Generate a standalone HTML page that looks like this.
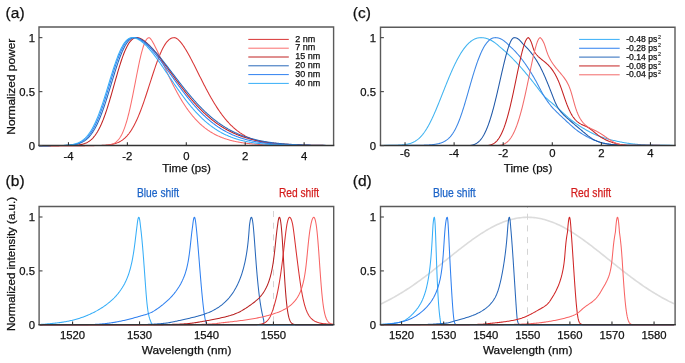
<!DOCTYPE html>
<html><head><meta charset="utf-8"><style>
html,body{margin:0;padding:0;background:#fff;}
body{width:685px;height:363px;overflow:hidden;}
svg{display:block;font-family:"Liberation Sans", sans-serif;will-change:transform;filter:blur(0.3px);}
</style></head><body>
<svg width="685" height="363" viewBox="0 0 685 363">
<path d="M39.00,145.60 L39.49,145.60 L39.98,145.60 L40.48,145.60 L40.97,145.60 L41.46,145.60 L41.95,145.60 L42.44,145.60 L42.93,145.60 L43.43,145.60 L43.92,145.60 L44.41,145.60 L44.90,145.60 L45.39,145.60 L45.89,145.60 L46.38,145.60 L46.87,145.60 L47.36,145.60 L47.85,145.60 L48.34,145.60 L48.84,145.60 L49.33,145.60 L49.82,145.60 L50.31,145.60 L50.80,145.60 L51.30,145.60 L51.79,145.60 L52.28,145.60 L52.77,145.60 L53.26,145.60 L53.75,145.60 L54.25,145.60 L54.74,145.60 L55.23,145.60 L55.72,145.60 L56.21,145.60 L56.71,145.60 L57.20,145.60 L57.69,145.60 L58.18,145.60 L58.67,145.60 L59.16,145.60 L59.66,145.60 L60.15,145.60 L60.64,145.60 L61.13,145.60 L61.62,145.60 L62.12,145.60 L62.61,145.60 L63.10,145.60 L63.59,145.60 L64.08,145.60 L64.57,145.60 L65.07,145.60 L65.56,145.60 L66.05,145.60 L66.54,145.60 L67.03,145.60 L67.53,145.60 L68.02,145.60 L68.51,145.60 L69.00,145.60 L69.49,145.60 L69.98,145.60 L70.48,145.60 L70.97,145.60 L71.46,145.60 L71.95,145.60 L72.44,145.60 L72.94,145.60 L73.43,145.60 L73.92,145.60 L74.41,145.60 L74.90,145.60 L75.39,145.60 L75.89,145.60 L76.38,145.60 L76.87,145.60 L77.36,145.60 L77.85,145.60 L78.35,145.60 L78.84,145.60 L79.33,145.60 L79.82,145.60 L80.31,145.60 L80.80,145.60 L81.30,145.60 L81.79,145.60 L82.28,145.60 L82.77,145.60 L83.26,145.60 L83.76,145.60 L84.25,145.60 L84.74,145.60 L85.23,145.59 L85.72,145.59 L86.21,145.59 L86.71,145.59 L87.20,145.59 L87.69,145.59 L88.18,145.59 L88.67,145.59 L89.17,145.59 L89.66,145.58 L90.15,145.58 L90.64,145.58 L91.13,145.58 L91.62,145.57 L92.12,145.57 L92.61,145.57 L93.10,145.57 L93.59,145.56 L94.08,145.56 L94.58,145.55 L95.07,145.55 L95.56,145.54 L96.05,145.53 L96.54,145.53 L97.03,145.52 L97.53,145.51 L98.02,145.50 L98.51,145.49 L99.00,145.48 L99.49,145.47 L99.99,145.45 L100.48,145.44 L100.97,145.42 L101.46,145.40 L101.95,145.38 L102.44,145.36 L102.94,145.34 L103.43,145.31 L103.92,145.29 L104.41,145.26 L104.90,145.22 L105.40,145.19 L105.89,145.15 L106.38,145.11 L106.87,145.06 L107.36,145.02 L107.85,144.96 L108.35,144.91 L108.84,144.85 L109.33,144.78 L109.82,144.71 L110.31,144.64 L110.81,144.56 L111.30,144.47 L111.79,144.38 L112.28,144.28 L112.77,144.17 L113.26,144.06 L113.76,143.94 L114.25,143.81 L114.74,143.67 L115.23,143.52 L115.72,143.36 L116.22,143.19 L116.71,143.01 L117.20,142.83 L117.69,142.62 L118.18,142.41 L118.67,142.18 L119.17,141.95 L119.66,141.69 L120.15,141.42 L120.64,141.14 L121.13,140.84 L121.63,140.53 L122.12,140.20 L122.61,139.85 L123.10,139.48 L123.59,139.09 L124.08,138.69 L124.58,138.26 L125.07,137.82 L125.56,137.35 L126.05,136.86 L126.54,136.35 L127.04,135.82 L127.53,135.26 L128.02,134.68 L128.51,134.08 L129.00,133.45 L129.49,132.79 L129.99,132.11 L130.48,131.40 L130.97,130.67 L131.46,129.91 L131.95,129.12 L132.45,128.31 L132.94,127.46 L133.43,126.59 L133.92,125.69 L134.41,124.76 L134.90,123.81 L135.40,122.83 L135.89,121.81 L136.38,120.77 L136.87,119.70 L137.36,118.61 L137.86,117.49 L138.35,116.34 L138.84,115.16 L139.33,113.96 L139.82,112.73 L140.31,111.47 L140.81,110.20 L141.30,108.89 L141.79,107.57 L142.28,106.22 L142.77,104.85 L143.27,103.47 L143.76,102.06 L144.25,100.63 L144.74,99.19 L145.23,97.74 L145.72,96.26 L146.22,94.78 L146.71,93.28 L147.20,91.78 L147.69,90.26 L148.18,88.74 L148.68,87.21 L149.17,85.68 L149.66,84.15 L150.15,82.61 L150.64,81.08 L151.13,79.55 L151.63,78.02 L152.12,76.50 L152.61,74.99 L153.10,73.48 L153.59,71.99 L154.09,70.52 L154.58,69.05 L155.07,67.61 L155.56,66.18 L156.05,64.77 L156.54,63.39 L157.04,62.03 L157.53,60.69 L158.02,59.38 L158.51,58.10 L159.00,56.85 L159.50,55.63 L159.99,54.45 L160.48,53.29 L160.97,52.18 L161.46,51.10 L161.95,50.05 L162.45,49.05 L162.94,48.09 L163.43,47.16 L163.92,46.28 L164.41,45.44 L164.91,44.64 L165.40,43.89 L165.89,43.18 L166.38,42.51 L166.87,41.89 L167.36,41.31 L167.86,40.78 L168.35,40.29 L168.84,39.84 L169.33,39.44 L169.82,39.08 L170.32,38.77 L170.81,38.49 L171.30,38.26 L171.79,38.07 L172.28,37.91 L172.77,37.80 L173.27,37.71 L173.76,37.66 L174.25,37.64 L174.74,37.66 L175.23,37.78 L175.73,37.96 L176.22,38.20 L176.71,38.49 L177.20,38.83 L177.69,39.21 L178.18,39.62 L178.68,40.07 L179.17,40.55 L179.66,41.07 L180.15,41.62 L180.64,42.19 L181.14,42.79 L181.63,43.42 L182.12,44.07 L182.61,44.75 L183.10,45.44 L183.59,46.16 L184.09,46.90 L184.58,47.66 L185.07,48.44 L185.56,49.23 L186.05,50.04 L186.55,50.87 L187.04,51.71 L187.53,52.56 L188.02,53.43 L188.51,54.31 L189.01,55.20 L189.50,56.10 L189.99,57.01 L190.48,57.94 L190.97,58.87 L191.46,59.80 L191.96,60.75 L192.45,61.70 L192.94,62.66 L193.43,63.62 L193.92,64.59 L194.42,65.56 L194.91,66.54 L195.40,67.52 L195.89,68.50 L196.38,69.48 L196.87,70.47 L197.37,71.46 L197.86,72.44 L198.35,73.43 L198.84,74.42 L199.33,75.40 L199.83,76.39 L200.32,77.37 L200.81,78.35 L201.30,79.33 L201.79,80.31 L202.28,81.28 L202.78,82.25 L203.27,83.22 L203.76,84.18 L204.25,85.14 L204.74,86.09 L205.24,87.03 L205.73,87.98 L206.22,88.91 L206.71,89.84 L207.20,90.76 L207.69,91.68 L208.19,92.59 L208.68,93.49 L209.17,94.39 L209.66,95.28 L210.15,96.16 L210.65,97.03 L211.14,97.90 L211.63,98.75 L212.12,99.60 L212.61,100.44 L213.10,101.28 L213.60,102.10 L214.09,102.91 L214.58,103.72 L215.07,104.52 L215.56,105.31 L216.06,106.08 L216.55,106.85 L217.04,107.61 L217.53,108.36 L218.02,109.11 L218.51,109.84 L219.01,110.56 L219.50,111.27 L219.99,111.98 L220.48,112.67 L220.97,113.35 L221.47,114.03 L221.96,114.69 L222.45,115.35 L222.94,115.99 L223.43,116.63 L223.92,117.25 L224.42,117.87 L224.91,118.48 L225.40,119.07 L225.89,119.66 L226.38,120.24 L226.88,120.81 L227.37,121.37 L227.86,121.92 L228.35,122.46 L228.84,122.99 L229.33,123.51 L229.83,124.02 L230.32,124.53 L230.81,125.02 L231.30,125.51 L231.79,125.99 L232.29,126.46 L232.78,126.91 L233.27,127.37 L233.76,127.81 L234.25,128.24 L234.74,128.67 L235.24,129.09 L235.73,129.50 L236.22,129.90 L236.71,130.29 L237.20,130.68 L237.70,131.05 L238.19,131.42 L238.68,131.78 L239.17,132.14 L239.66,132.49 L240.15,132.83 L240.65,133.16 L241.14,133.48 L241.63,133.80 L242.12,134.11 L242.61,134.42 L243.11,134.72 L243.60,135.01 L244.09,135.29 L244.58,135.57 L245.07,135.84 L245.56,136.11 L246.06,136.37 L246.55,136.62 L247.04,136.87 L247.53,137.11 L248.02,137.35 L248.52,137.58 L249.01,137.81 L249.50,138.03 L249.99,138.24 L250.48,138.45 L250.97,138.66 L251.47,138.85 L251.96,139.05 L252.45,139.24 L252.94,139.42 L253.43,139.60 L253.93,139.78 L254.42,139.95 L254.91,140.12 L255.40,140.28 L255.89,140.44 L256.38,140.59 L256.88,140.74 L257.37,140.89 L257.86,141.03 L258.35,141.17 L258.84,141.30 L259.34,141.43 L259.83,141.56 L260.32,141.69 L260.81,141.81 L261.30,141.92 L261.79,142.04 L262.29,142.15 L262.78,142.26 L263.27,142.36 L263.76,142.47 L264.25,142.56 L264.75,142.66 L265.24,142.75 L265.73,142.85 L266.22,142.93 L266.71,143.02 L267.20,143.10 L267.70,143.18 L268.19,143.26 L268.68,143.34 L269.17,143.41 L269.66,143.48 L270.16,143.55 L270.65,143.62 L271.14,143.69 L271.63,143.75 L272.12,143.81 L272.61,143.87 L273.11,143.93 L273.60,143.99 L274.09,144.04 L274.58,144.09 L275.07,144.15 L275.57,144.20 L276.06,144.24 L276.55,144.29 L277.04,144.34 L277.53,144.38 L278.02,144.42 L278.52,144.46 L279.01,144.50 L279.50,144.54 L279.99,144.58 L280.48,144.61 L280.98,144.65 L281.47,144.68 L281.96,144.71 L282.45,144.75 L282.94,144.78 L283.43,144.81 L283.93,144.83 L284.42,144.86 L284.91,144.89 L285.40,144.91 L285.89,144.94 L286.39,144.96 L286.88,144.99 L287.37,145.01 L287.86,145.03 L288.35,145.05 L288.84,145.07 L289.34,145.09 L289.83,145.11 L290.32,145.13 L290.81,145.15 L291.30,145.16 L291.80,145.18 L292.29,145.20 L292.78,145.21 L293.27,145.23 L293.76,145.24 L294.25,145.25 L294.75,145.27 L295.24,145.28 L295.73,145.29 L296.22,145.30 L296.71,145.31 L297.21,145.33 L297.70,145.34 L298.19,145.35 L298.68,145.36 L299.17,145.37 L299.66,145.38 L300.16,145.38 L300.65,145.39 L301.14,145.40 L301.63,145.41 L302.12,145.42 L302.62,145.42 L303.11,145.43 L303.60,145.44 L304.09,145.44 L304.58,145.45 L305.07,145.46 L305.57,145.46 L306.06,145.47 L306.55,145.47 L307.04,145.48 L307.53,145.48 L308.03,145.49 L308.52,145.49 L309.01,145.50 L309.50,145.50 L309.99,145.51 L310.48,145.51 L310.98,145.51 L311.47,145.52 L311.96,145.52 L312.45,145.52 L312.94,145.53 L313.44,145.53 L313.93,145.53 L314.42,145.54 L314.91,145.54 L315.40,145.54 L315.89,145.54 L316.39,145.55 L316.88,145.55 L317.37,145.55 L317.86,145.55 L318.35,145.55 L318.85,145.56 L319.34,145.56 L319.83,145.56 L320.32,145.56 L320.81,145.56 L321.30,145.56 L321.80,145.57 L322.29,145.57 L322.78,145.57 L323.27,145.57 L323.76,145.57 L324.26,145.57 L324.75,145.57 L325.24,145.58 L325.73,145.58 L326.22,145.58 L326.71,145.58 L327.21,145.58 L327.70,145.58 L328.19,145.58 L328.68,145.58 L329.17,145.58 L329.67,145.58 L330.16,145.58 L330.65,145.59 L331.14,145.59 L331.63,145.59 L332.12,145.59 L332.62,145.59 L333.11,145.59 L333.60,145.59" fill="none" stroke="#d83434" stroke-width="1.05" stroke-linejoin="round" />
<path d="M39.00,145.60 L39.49,145.60 L39.98,145.60 L40.48,145.60 L40.97,145.60 L41.46,145.60 L41.95,145.60 L42.44,145.60 L42.93,145.60 L43.43,145.60 L43.92,145.60 L44.41,145.60 L44.90,145.60 L45.39,145.60 L45.89,145.60 L46.38,145.60 L46.87,145.60 L47.36,145.60 L47.85,145.60 L48.34,145.60 L48.84,145.60 L49.33,145.60 L49.82,145.60 L50.31,145.60 L50.80,145.60 L51.30,145.60 L51.79,145.60 L52.28,145.60 L52.77,145.60 L53.26,145.60 L53.75,145.60 L54.25,145.60 L54.74,145.60 L55.23,145.60 L55.72,145.60 L56.21,145.60 L56.71,145.60 L57.20,145.60 L57.69,145.60 L58.18,145.60 L58.67,145.60 L59.16,145.60 L59.66,145.60 L60.15,145.60 L60.64,145.60 L61.13,145.60 L61.62,145.60 L62.12,145.60 L62.61,145.60 L63.10,145.60 L63.59,145.60 L64.08,145.60 L64.57,145.60 L65.07,145.60 L65.56,145.60 L66.05,145.60 L66.54,145.60 L67.03,145.60 L67.53,145.60 L68.02,145.60 L68.51,145.60 L69.00,145.60 L69.49,145.60 L69.98,145.60 L70.48,145.60 L70.97,145.60 L71.46,145.60 L71.95,145.60 L72.44,145.60 L72.94,145.60 L73.43,145.60 L73.92,145.60 L74.41,145.60 L74.90,145.60 L75.39,145.60 L75.89,145.60 L76.38,145.60 L76.87,145.60 L77.36,145.60 L77.85,145.60 L78.35,145.60 L78.84,145.60 L79.33,145.60 L79.82,145.60 L80.31,145.60 L80.80,145.60 L81.30,145.60 L81.79,145.60 L82.28,145.60 L82.77,145.60 L83.26,145.60 L83.76,145.60 L84.25,145.60 L84.74,145.60 L85.23,145.60 L85.72,145.60 L86.21,145.60 L86.71,145.60 L87.20,145.60 L87.69,145.60 L88.18,145.60 L88.67,145.60 L89.17,145.60 L89.66,145.60 L90.15,145.60 L90.64,145.60 L91.13,145.60 L91.62,145.60 L92.12,145.60 L92.61,145.60 L93.10,145.60 L93.59,145.60 L94.08,145.60 L94.58,145.59 L95.07,145.59 L95.56,145.59 L96.05,145.59 L96.54,145.59 L97.03,145.59 L97.53,145.58 L98.02,145.58 L98.51,145.58 L99.00,145.57 L99.49,145.57 L99.99,145.56 L100.48,145.55 L100.97,145.54 L101.46,145.53 L101.95,145.52 L102.44,145.51 L102.94,145.49 L103.43,145.48 L103.92,145.46 L104.41,145.43 L104.90,145.40 L105.40,145.37 L105.89,145.34 L106.38,145.30 L106.87,145.25 L107.36,145.20 L107.85,145.14 L108.35,145.07 L108.84,144.99 L109.33,144.90 L109.82,144.80 L110.31,144.69 L110.81,144.57 L111.30,144.43 L111.79,144.28 L112.28,144.10 L112.77,143.91 L113.26,143.70 L113.76,143.46 L114.25,143.20 L114.74,142.91 L115.23,142.60 L115.72,142.25 L116.22,141.87 L116.71,141.45 L117.20,140.99 L117.69,140.50 L118.18,139.95 L118.67,139.37 L119.17,138.73 L119.66,138.04 L120.15,137.30 L120.64,136.51 L121.13,135.65 L121.63,134.73 L122.12,133.75 L122.61,132.70 L123.10,131.59 L123.59,130.40 L124.08,129.15 L124.58,127.82 L125.07,126.42 L125.56,124.94 L126.05,123.39 L126.54,121.76 L127.04,120.06 L127.53,118.28 L128.02,116.43 L128.51,114.50 L129.00,112.51 L129.49,110.45 L129.99,108.32 L130.48,106.13 L130.97,103.88 L131.46,101.57 L131.95,99.22 L132.45,96.82 L132.94,94.38 L133.43,91.91 L133.92,89.41 L134.41,86.89 L134.90,84.35 L135.40,81.81 L135.89,79.27 L136.38,76.74 L136.87,74.23 L137.36,71.74 L137.86,69.29 L138.35,66.87 L138.84,64.51 L139.33,62.21 L139.82,59.97 L140.31,57.80 L140.81,55.72 L141.30,53.72 L141.79,51.82 L142.28,50.02 L142.77,48.33 L143.27,46.75 L143.76,45.29 L144.25,43.95 L144.74,42.74 L145.23,41.65 L145.72,40.70 L146.22,39.88 L146.71,39.19 L147.20,38.63 L147.69,38.20 L148.18,37.90 L148.68,37.71 L149.17,37.64 L149.66,37.86 L150.15,38.33 L150.64,38.91 L151.13,39.57 L151.63,40.30 L152.12,41.07 L152.61,41.88 L153.10,42.74 L153.59,43.62 L154.09,44.53 L154.58,45.47 L155.07,46.43 L155.56,47.40 L156.05,48.40 L156.54,49.41 L157.04,50.44 L157.53,51.47 L158.02,52.52 L158.51,53.57 L159.00,54.64 L159.50,55.71 L159.99,56.78 L160.48,57.86 L160.97,58.94 L161.46,60.03 L161.95,61.11 L162.45,62.20 L162.94,63.29 L163.43,64.37 L163.92,65.46 L164.41,66.54 L164.91,67.62 L165.40,68.70 L165.89,69.78 L166.38,70.85 L166.87,71.91 L167.36,72.97 L167.86,74.03 L168.35,75.08 L168.84,76.12 L169.33,77.16 L169.82,78.19 L170.32,79.22 L170.81,80.23 L171.30,81.24 L171.79,82.24 L172.28,83.24 L172.77,84.22 L173.27,85.20 L173.76,86.16 L174.25,87.12 L174.74,88.07 L175.23,89.01 L175.73,89.95 L176.22,90.87 L176.71,91.78 L177.20,92.68 L177.69,93.58 L178.18,94.46 L178.68,95.33 L179.17,96.20 L179.66,97.05 L180.15,97.90 L180.64,98.73 L181.14,99.55 L181.63,100.37 L182.12,101.17 L182.61,101.96 L183.10,102.75 L183.59,103.52 L184.09,104.28 L184.58,105.03 L185.07,105.78 L185.56,106.51 L186.05,107.23 L186.55,107.94 L187.04,108.65 L187.53,109.34 L188.02,110.02 L188.51,110.69 L189.01,111.36 L189.50,112.01 L189.99,112.65 L190.48,113.28 L190.97,113.91 L191.46,114.52 L191.96,115.13 L192.45,115.72 L192.94,116.31 L193.43,116.89 L193.92,117.45 L194.42,118.01 L194.91,118.56 L195.40,119.10 L195.89,119.64 L196.38,120.16 L196.87,120.67 L197.37,121.18 L197.86,121.68 L198.35,122.16 L198.84,122.65 L199.33,123.12 L199.83,123.58 L200.32,124.04 L200.81,124.49 L201.30,124.93 L201.79,125.36 L202.28,125.78 L202.78,126.20 L203.27,126.61 L203.76,127.01 L204.25,127.41 L204.74,127.80 L205.24,128.18 L205.73,128.55 L206.22,128.92 L206.71,129.28 L207.20,129.63 L207.69,129.98 L208.19,130.32 L208.68,130.65 L209.17,130.98 L209.66,131.30 L210.15,131.62 L210.65,131.93 L211.14,132.23 L211.63,132.53 L212.12,132.82 L212.61,133.10 L213.10,133.38 L213.60,133.66 L214.09,133.93 L214.58,134.19 L215.07,134.45 L215.56,134.70 L216.06,134.95 L216.55,135.19 L217.04,135.43 L217.53,135.66 L218.02,135.89 L218.51,136.11 L219.01,136.33 L219.50,136.55 L219.99,136.76 L220.48,136.96 L220.97,137.17 L221.47,137.36 L221.96,137.56 L222.45,137.74 L222.94,137.93 L223.43,138.11 L223.92,138.29 L224.42,138.46 L224.91,138.63 L225.40,138.80 L225.89,138.96 L226.38,139.12 L226.88,139.27 L227.37,139.42 L227.86,139.57 L228.35,139.72 L228.84,139.86 L229.33,140.00 L229.83,140.14 L230.32,140.27 L230.81,140.40 L231.30,140.53 L231.79,140.65 L232.29,140.77 L232.78,140.89 L233.27,141.01 L233.76,141.12 L234.25,141.23 L234.74,141.34 L235.24,141.44 L235.73,141.55 L236.22,141.65 L236.71,141.75 L237.20,141.84 L237.70,141.94 L238.19,142.03 L238.68,142.12 L239.17,142.21 L239.66,142.29 L240.15,142.38 L240.65,142.46 L241.14,142.54 L241.63,142.62 L242.12,142.69 L242.61,142.77 L243.11,142.84 L243.60,142.91 L244.09,142.98 L244.58,143.05 L245.07,143.11 L245.56,143.18 L246.06,143.24 L246.55,143.30 L247.04,143.36 L247.53,143.42 L248.02,143.48 L248.52,143.53 L249.01,143.59 L249.50,143.64 L249.99,143.69 L250.48,143.74 L250.97,143.79 L251.47,143.84 L251.96,143.88 L252.45,143.93 L252.94,143.97 L253.43,144.02 L253.93,144.06 L254.42,144.10 L254.91,144.14 L255.40,144.18 L255.89,144.22 L256.38,144.25 L256.88,144.29 L257.37,144.33 L257.86,144.36 L258.35,144.39 L258.84,144.43 L259.34,144.46 L259.83,144.49 L260.32,144.52 L260.81,144.55 L261.30,144.58 L261.79,144.60 L262.29,144.63 L262.78,144.66 L263.27,144.68 L263.76,144.71 L264.25,144.73 L264.75,144.76 L265.24,144.78 L265.73,144.80 L266.22,144.83 L266.71,144.85 L267.20,144.87 L267.70,144.89 L268.19,144.91 L268.68,144.93 L269.17,144.95 L269.66,144.96 L270.16,144.98 L270.65,145.00 L271.14,145.02 L271.63,145.03 L272.12,145.05 L272.61,145.06 L273.11,145.08 L273.60,145.09 L274.09,145.11 L274.58,145.12 L275.07,145.14 L275.57,145.15 L276.06,145.16 L276.55,145.17 L277.04,145.19 L277.53,145.20 L278.02,145.21 L278.52,145.22 L279.01,145.23 L279.50,145.24 L279.99,145.25 L280.48,145.26 L280.98,145.27 L281.47,145.28 L281.96,145.29 L282.45,145.30 L282.94,145.31 L283.43,145.32 L283.93,145.32 L284.42,145.33 L284.91,145.34 L285.40,145.35 L285.89,145.36 L286.39,145.36 L286.88,145.37 L287.37,145.38 L287.86,145.38 L288.35,145.39 L288.84,145.40 L289.34,145.40 L289.83,145.41 L290.32,145.41 L290.81,145.42 L291.30,145.42 L291.80,145.43 L292.29,145.43 L292.78,145.44 L293.27,145.44 L293.76,145.45 L294.25,145.45 L294.75,145.46 L295.24,145.46 L295.73,145.47 L296.22,145.47 L296.71,145.47 L297.21,145.48 L297.70,145.48 L298.19,145.48 L298.68,145.49 L299.17,145.49 L299.66,145.49 L300.16,145.50 L300.65,145.50 L301.14,145.50 L301.63,145.51 L302.12,145.51 L302.62,145.51 L303.11,145.52 L303.60,145.52 L304.09,145.52 L304.58,145.52 L305.07,145.53 L305.57,145.53 L306.06,145.53 L306.55,145.53 L307.04,145.53 L307.53,145.54 L308.03,145.54 L308.52,145.54 L309.01,145.54 L309.50,145.54 L309.99,145.55 L310.48,145.55 L310.98,145.55 L311.47,145.55 L311.96,145.55 L312.45,145.55 L312.94,145.55 L313.44,145.56 L313.93,145.56 L314.42,145.56 L314.91,145.56 L315.40,145.56 L315.89,145.56 L316.39,145.56 L316.88,145.56 L317.37,145.57 L317.86,145.57 L318.35,145.57 L318.85,145.57 L319.34,145.57 L319.83,145.57 L320.32,145.57 L320.81,145.57 L321.30,145.57 L321.80,145.57 L322.29,145.58 L322.78,145.58 L323.27,145.58 L323.76,145.58 L324.26,145.58 L324.75,145.58 L325.24,145.58 L325.73,145.58 L326.22,145.58 L326.71,145.58 L327.21,145.58 L327.70,145.58 L328.19,145.58 L328.68,145.58 L329.17,145.58 L329.67,145.58 L330.16,145.59 L330.65,145.59 L331.14,145.59 L331.63,145.59 L332.12,145.59 L332.62,145.59 L333.11,145.59 L333.60,145.59" fill="none" stroke="#fa6e6e" stroke-width="1.05" stroke-linejoin="round" />
<path d="M39.00,145.60 L39.49,145.60 L39.98,145.60 L40.48,145.60 L40.97,145.60 L41.46,145.60 L41.95,145.60 L42.44,145.60 L42.93,145.60 L43.43,145.60 L43.92,145.60 L44.41,145.60 L44.90,145.60 L45.39,145.60 L45.89,145.60 L46.38,145.60 L46.87,145.60 L47.36,145.60 L47.85,145.60 L48.34,145.60 L48.84,145.60 L49.33,145.60 L49.82,145.60 L50.31,145.60 L50.80,145.60 L51.30,145.60 L51.79,145.60 L52.28,145.60 L52.77,145.60 L53.26,145.60 L53.75,145.60 L54.25,145.60 L54.74,145.60 L55.23,145.60 L55.72,145.60 L56.21,145.60 L56.71,145.60 L57.20,145.60 L57.69,145.60 L58.18,145.60 L58.67,145.60 L59.16,145.60 L59.66,145.59 L60.15,145.59 L60.64,145.59 L61.13,145.59 L61.62,145.59 L62.12,145.59 L62.61,145.59 L63.10,145.58 L63.59,145.58 L64.08,145.58 L64.57,145.58 L65.07,145.57 L65.56,145.57 L66.05,145.57 L66.54,145.56 L67.03,145.56 L67.53,145.55 L68.02,145.54 L68.51,145.54 L69.00,145.53 L69.49,145.52 L69.98,145.51 L70.48,145.50 L70.97,145.48 L71.46,145.47 L71.95,145.45 L72.44,145.43 L72.94,145.41 L73.43,145.39 L73.92,145.36 L74.41,145.34 L74.90,145.31 L75.39,145.27 L75.89,145.23 L76.38,145.19 L76.87,145.15 L77.36,145.10 L77.85,145.04 L78.35,144.98 L78.84,144.92 L79.33,144.85 L79.82,144.77 L80.31,144.69 L80.80,144.59 L81.30,144.49 L81.79,144.38 L82.28,144.26 L82.77,144.14 L83.26,144.00 L83.76,143.85 L84.25,143.68 L84.74,143.51 L85.23,143.32 L85.72,143.12 L86.21,142.90 L86.71,142.67 L87.20,142.42 L87.69,142.15 L88.18,141.86 L88.67,141.56 L89.17,141.23 L89.66,140.88 L90.15,140.51 L90.64,140.12 L91.13,139.70 L91.62,139.26 L92.12,138.79 L92.61,138.30 L93.10,137.78 L93.59,137.22 L94.08,136.64 L94.58,136.03 L95.07,135.39 L95.56,134.71 L96.05,134.00 L96.54,133.26 L97.03,132.48 L97.53,131.67 L98.02,130.82 L98.51,129.94 L99.00,129.02 L99.49,128.06 L99.99,127.07 L100.48,126.04 L100.97,124.97 L101.46,123.87 L101.95,122.72 L102.44,121.54 L102.94,120.33 L103.43,119.08 L103.92,117.79 L104.41,116.46 L104.90,115.10 L105.40,113.71 L105.89,112.28 L106.38,110.83 L106.87,109.34 L107.36,107.82 L107.85,106.27 L108.35,104.70 L108.84,103.10 L109.33,101.48 L109.82,99.84 L110.31,98.18 L110.81,96.50 L111.30,94.80 L111.79,93.09 L112.28,91.37 L112.77,89.64 L113.26,87.91 L113.76,86.17 L114.25,84.42 L114.74,82.68 L115.23,80.94 L115.72,79.21 L116.22,77.49 L116.71,75.77 L117.20,74.07 L117.69,72.39 L118.18,70.72 L118.67,69.07 L119.17,67.45 L119.66,65.86 L120.15,64.29 L120.64,62.75 L121.13,61.25 L121.63,59.78 L122.12,58.34 L122.61,56.95 L123.10,55.60 L123.59,54.29 L124.08,53.02 L124.58,51.80 L125.07,50.62 L125.56,49.50 L126.05,48.42 L126.54,47.40 L127.04,46.43 L127.53,45.51 L128.02,44.64 L128.51,43.82 L129.00,43.06 L129.49,42.35 L129.99,41.70 L130.48,41.10 L130.97,40.55 L131.46,40.05 L131.95,39.61 L132.45,39.21 L132.94,38.87 L133.43,38.57 L133.92,38.32 L134.41,38.11 L134.90,37.94 L135.40,37.82 L135.89,37.73 L136.38,37.67 L136.87,37.65 L137.36,37.64 L137.86,37.69 L138.35,37.79 L138.84,37.92 L139.33,38.09 L139.82,38.28 L140.31,38.49 L140.81,38.73 L141.30,38.98 L141.79,39.26 L142.28,39.55 L142.77,39.87 L143.27,40.20 L143.76,40.54 L144.25,40.90 L144.74,41.28 L145.23,41.67 L145.72,42.07 L146.22,42.49 L146.71,42.92 L147.20,43.36 L147.69,43.82 L148.18,44.28 L148.68,44.76 L149.17,45.24 L149.66,45.74 L150.15,46.25 L150.64,46.76 L151.13,47.29 L151.63,47.82 L152.12,48.36 L152.61,48.91 L153.10,49.47 L153.59,50.04 L154.09,50.61 L154.58,51.19 L155.07,51.78 L155.56,52.37 L156.05,52.97 L156.54,53.57 L157.04,54.18 L157.53,54.80 L158.02,55.42 L158.51,56.04 L159.00,56.67 L159.50,57.31 L159.99,57.94 L160.48,58.59 L160.97,59.23 L161.46,59.88 L161.95,60.53 L162.45,61.19 L162.94,61.85 L163.43,62.51 L163.92,63.17 L164.41,63.84 L164.91,64.50 L165.40,65.17 L165.89,65.84 L166.38,66.52 L166.87,67.19 L167.36,67.87 L167.86,68.54 L168.35,69.22 L168.84,69.89 L169.33,70.57 L169.82,71.25 L170.32,71.93 L170.81,72.61 L171.30,73.28 L171.79,73.96 L172.28,74.64 L172.77,75.31 L173.27,75.99 L173.76,76.67 L174.25,77.34 L174.74,78.01 L175.23,78.68 L175.73,79.35 L176.22,80.02 L176.71,80.69 L177.20,81.35 L177.69,82.02 L178.18,82.68 L178.68,83.34 L179.17,84.00 L179.66,84.65 L180.15,85.30 L180.64,85.95 L181.14,86.60 L181.63,87.25 L182.12,87.89 L182.61,88.53 L183.10,89.17 L183.59,89.80 L184.09,90.43 L184.58,91.06 L185.07,91.68 L185.56,92.30 L186.05,92.92 L186.55,93.54 L187.04,94.15 L187.53,94.76 L188.02,95.36 L188.51,95.96 L189.01,96.56 L189.50,97.15 L189.99,97.74 L190.48,98.32 L190.97,98.91 L191.46,99.48 L191.96,100.06 L192.45,100.63 L192.94,101.19 L193.43,101.75 L193.92,102.31 L194.42,102.87 L194.91,103.41 L195.40,103.96 L195.89,104.50 L196.38,105.04 L196.87,105.57 L197.37,106.10 L197.86,106.62 L198.35,107.14 L198.84,107.65 L199.33,108.16 L199.83,108.67 L200.32,109.17 L200.81,109.67 L201.30,110.16 L201.79,110.65 L202.28,111.13 L202.78,111.61 L203.27,112.08 L203.76,112.56 L204.25,113.02 L204.74,113.48 L205.24,113.94 L205.73,114.39 L206.22,114.84 L206.71,115.28 L207.20,115.72 L207.69,116.15 L208.19,116.58 L208.68,117.01 L209.17,117.43 L209.66,117.85 L210.15,118.26 L210.65,118.67 L211.14,119.07 L211.63,119.47 L212.12,119.86 L212.61,120.25 L213.10,120.64 L213.60,121.02 L214.09,121.39 L214.58,121.77 L215.07,122.13 L215.56,122.50 L216.06,122.86 L216.55,123.21 L217.04,123.56 L217.53,123.91 L218.02,124.25 L218.51,124.59 L219.01,124.93 L219.50,125.26 L219.99,125.58 L220.48,125.91 L220.97,126.22 L221.47,126.54 L221.96,126.85 L222.45,127.15 L222.94,127.46 L223.43,127.76 L223.92,128.05 L224.42,128.34 L224.91,128.63 L225.40,128.91 L225.89,129.19 L226.38,129.46 L226.88,129.74 L227.37,130.00 L227.86,130.27 L228.35,130.53 L228.84,130.79 L229.33,131.04 L229.83,131.29 L230.32,131.54 L230.81,131.78 L231.30,132.02 L231.79,132.26 L232.29,132.49 L232.78,132.72 L233.27,132.95 L233.76,133.17 L234.25,133.39 L234.74,133.60 L235.24,133.82 L235.73,134.03 L236.22,134.24 L236.71,134.44 L237.20,134.64 L237.70,134.84 L238.19,135.03 L238.68,135.23 L239.17,135.41 L239.66,135.60 L240.15,135.78 L240.65,135.96 L241.14,136.14 L241.63,136.32 L242.12,136.49 L242.61,136.66 L243.11,136.83 L243.60,136.99 L244.09,137.15 L244.58,137.31 L245.07,137.47 L245.56,137.62 L246.06,137.77 L246.55,137.92 L247.04,138.07 L247.53,138.21 L248.02,138.35 L248.52,138.49 L249.01,138.63 L249.50,138.76 L249.99,138.90 L250.48,139.03 L250.97,139.15 L251.47,139.28 L251.96,139.40 L252.45,139.53 L252.94,139.65 L253.43,139.76 L253.93,139.88 L254.42,139.99 L254.91,140.10 L255.40,140.21 L255.89,140.32 L256.38,140.43 L256.88,140.53 L257.37,140.63 L257.86,140.73 L258.35,140.83 L258.84,140.93 L259.34,141.02 L259.83,141.12 L260.32,141.21 L260.81,141.30 L261.30,141.39 L261.79,141.47 L262.29,141.56 L262.78,141.64 L263.27,141.72 L263.76,141.81 L264.25,141.88 L264.75,141.96 L265.24,142.04 L265.73,142.11 L266.22,142.19 L266.71,142.26 L267.20,142.33 L267.70,142.40 L268.19,142.47 L268.68,142.53 L269.17,142.60 L269.66,142.66 L270.16,142.73 L270.65,142.79 L271.14,142.85 L271.63,142.91 L272.12,142.97 L272.61,143.02 L273.11,143.08 L273.60,143.13 L274.09,143.19 L274.58,143.24 L275.07,143.29 L275.57,143.34 L276.06,143.39 L276.55,143.44 L277.04,143.49 L277.53,143.54 L278.02,143.58 L278.52,143.63 L279.01,143.67 L279.50,143.71 L279.99,143.76 L280.48,143.80 L280.98,143.84 L281.47,143.88 L281.96,143.92 L282.45,143.95 L282.94,143.99 L283.43,144.03 L283.93,144.06 L284.42,144.10 L284.91,144.13 L285.40,144.17 L285.89,144.20 L286.39,144.23 L286.88,144.26 L287.37,144.29 L287.86,144.32 L288.35,144.35 L288.84,144.38 L289.34,144.41 L289.83,144.44 L290.32,144.47 L290.81,144.49 L291.30,144.52 L291.80,144.54 L292.29,144.57 L292.78,144.59 L293.27,144.62 L293.76,144.64 L294.25,144.66 L294.75,144.69 L295.24,144.71 L295.73,144.73 L296.22,144.75 L296.71,144.77 L297.21,144.79 L297.70,144.81 L298.19,144.83 L298.68,144.85 L299.17,144.86 L299.66,144.88 L300.16,144.90 L300.65,144.92 L301.14,144.93 L301.63,144.95 L302.12,144.97 L302.62,144.98 L303.11,145.00 L303.60,145.01 L304.09,145.03 L304.58,145.04 L305.07,145.05 L305.57,145.07 L306.06,145.08 L306.55,145.09 L307.04,145.11 L307.53,145.12 L308.03,145.13 L308.52,145.14 L309.01,145.15 L309.50,145.16 L309.99,145.18 L310.48,145.19 L310.98,145.20 L311.47,145.21 L311.96,145.22 L312.45,145.23 L312.94,145.24 L313.44,145.25 L313.93,145.25 L314.42,145.26 L314.91,145.27 L315.40,145.28 L315.89,145.29 L316.39,145.30 L316.88,145.30 L317.37,145.31 L317.86,145.32 L318.35,145.33 L318.85,145.33 L319.34,145.34 L319.83,145.35 L320.32,145.35 L320.81,145.36 L321.30,145.37 L321.80,145.37 L322.29,145.38 L322.78,145.38 L323.27,145.39 L323.76,145.40 L324.26,145.40 L324.75,145.41 L325.24,145.41 L325.73,145.42 L326.22,145.42 L326.71,145.43 L327.21,145.43 L327.70,145.44 L328.19,145.44 L328.68,145.44 L329.17,145.45 L329.67,145.45 L330.16,145.46 L330.65,145.46 L331.14,145.46 L331.63,145.47 L332.12,145.47 L332.62,145.47 L333.11,145.48 L333.60,145.48" fill="none" stroke="#c02020" stroke-width="1.05" stroke-linejoin="round" />
<path d="M39.00,145.60 L39.49,145.60 L39.98,145.60 L40.48,145.60 L40.97,145.60 L41.46,145.60 L41.95,145.60 L42.44,145.60 L42.93,145.60 L43.43,145.60 L43.92,145.60 L44.41,145.60 L44.90,145.60 L45.39,145.60 L45.89,145.60 L46.38,145.60 L46.87,145.60 L47.36,145.60 L47.85,145.60 L48.34,145.60 L48.84,145.60 L49.33,145.60 L49.82,145.60 L50.31,145.60 L50.80,145.60 L51.30,145.59 L51.79,145.59 L52.28,145.59 L52.77,145.59 L53.26,145.59 L53.75,145.59 L54.25,145.59 L54.74,145.59 L55.23,145.58 L55.72,145.58 L56.21,145.58 L56.71,145.58 L57.20,145.58 L57.69,145.57 L58.18,145.57 L58.67,145.56 L59.16,145.56 L59.66,145.56 L60.15,145.55 L60.64,145.54 L61.13,145.54 L61.62,145.53 L62.12,145.52 L62.61,145.51 L63.10,145.50 L63.59,145.49 L64.08,145.48 L64.57,145.46 L65.07,145.45 L65.56,145.43 L66.05,145.41 L66.54,145.39 L67.03,145.37 L67.53,145.35 L68.02,145.32 L68.51,145.29 L69.00,145.26 L69.49,145.22 L69.98,145.18 L70.48,145.14 L70.97,145.10 L71.46,145.05 L71.95,144.99 L72.44,144.94 L72.94,144.87 L73.43,144.80 L73.92,144.73 L74.41,144.65 L74.90,144.56 L75.39,144.47 L75.89,144.37 L76.38,144.26 L76.87,144.14 L77.36,144.02 L77.85,143.88 L78.35,143.74 L78.84,143.58 L79.33,143.42 L79.82,143.24 L80.31,143.05 L80.80,142.85 L81.30,142.63 L81.79,142.40 L82.28,142.16 L82.77,141.90 L83.26,141.62 L83.76,141.33 L84.25,141.02 L84.74,140.69 L85.23,140.34 L85.72,139.97 L86.21,139.58 L86.71,139.17 L87.20,138.74 L87.69,138.29 L88.18,137.81 L88.67,137.30 L89.17,136.78 L89.66,136.22 L90.15,135.64 L90.64,135.04 L91.13,134.40 L91.62,133.74 L92.12,133.05 L92.61,132.33 L93.10,131.58 L93.59,130.80 L94.08,129.99 L94.58,129.15 L95.07,128.27 L95.56,127.37 L96.05,126.43 L96.54,125.46 L97.03,124.46 L97.53,123.43 L98.02,122.37 L98.51,121.27 L99.00,120.14 L99.49,118.98 L99.99,117.79 L100.48,116.57 L100.97,115.32 L101.46,114.04 L101.95,112.73 L102.44,111.40 L102.94,110.03 L103.43,108.65 L103.92,107.23 L104.41,105.79 L104.90,104.33 L105.40,102.85 L105.89,101.34 L106.38,99.82 L106.87,98.28 L107.36,96.72 L107.85,95.15 L108.35,93.57 L108.84,91.97 L109.33,90.37 L109.82,88.75 L110.31,87.14 L110.81,85.52 L111.30,83.89 L111.79,82.27 L112.28,80.65 L112.77,79.04 L113.26,77.43 L113.76,75.83 L114.25,74.24 L114.74,72.66 L115.23,71.10 L115.72,69.56 L116.22,68.03 L116.71,66.53 L117.20,65.04 L117.69,63.59 L118.18,62.16 L118.67,60.75 L119.17,59.38 L119.66,58.04 L120.15,56.74 L120.64,55.47 L121.13,54.23 L121.63,53.04 L122.12,51.88 L122.61,50.77 L123.10,49.70 L123.59,48.67 L124.08,47.69 L124.58,46.75 L125.07,45.85 L125.56,45.01 L126.05,44.21 L126.54,43.45 L127.04,42.75 L127.53,42.09 L128.02,41.48 L128.51,40.92 L129.00,40.41 L129.49,39.94 L129.99,39.52 L130.48,39.15 L130.97,38.82 L131.46,38.54 L131.95,38.30 L132.45,38.10 L132.94,37.94 L133.43,37.81 L133.92,37.73 L134.41,37.67 L134.90,37.65 L135.40,37.64 L135.89,37.68 L136.38,37.75 L136.87,37.85 L137.36,37.97 L137.86,38.11 L138.35,38.27 L138.84,38.45 L139.33,38.65 L139.82,38.87 L140.31,39.10 L140.81,39.34 L141.30,39.61 L141.79,39.88 L142.28,40.18 L142.77,40.48 L143.27,40.80 L143.76,41.13 L144.25,41.47 L144.74,41.83 L145.23,42.19 L145.72,42.57 L146.22,42.96 L146.71,43.36 L147.20,43.77 L147.69,44.19 L148.18,44.62 L148.68,45.06 L149.17,45.51 L149.66,45.97 L150.15,46.43 L150.64,46.91 L151.13,47.39 L151.63,47.88 L152.12,48.38 L152.61,48.89 L153.10,49.40 L153.59,49.92 L154.09,50.45 L154.58,50.99 L155.07,51.53 L155.56,52.07 L156.05,52.63 L156.54,53.18 L157.04,53.75 L157.53,54.32 L158.02,54.89 L158.51,55.47 L159.00,56.06 L159.50,56.64 L159.99,57.24 L160.48,57.83 L160.97,58.44 L161.46,59.04 L161.95,59.65 L162.45,60.26 L162.94,60.88 L163.43,61.49 L163.92,62.11 L164.41,62.74 L164.91,63.36 L165.40,63.99 L165.89,64.62 L166.38,65.26 L166.87,65.89 L167.36,66.53 L167.86,67.17 L168.35,67.81 L168.84,68.45 L169.33,69.09 L169.82,69.73 L170.32,70.38 L170.81,71.02 L171.30,71.66 L171.79,72.31 L172.28,72.96 L172.77,73.60 L173.27,74.25 L173.76,74.89 L174.25,75.54 L174.74,76.18 L175.23,76.83 L175.73,77.47 L176.22,78.12 L176.71,78.76 L177.20,79.40 L177.69,80.04 L178.18,80.68 L178.68,81.32 L179.17,81.96 L179.66,82.59 L180.15,83.23 L180.64,83.86 L181.14,84.49 L181.63,85.12 L182.12,85.74 L182.61,86.37 L183.10,86.99 L183.59,87.61 L184.09,88.23 L184.58,88.85 L185.07,89.46 L185.56,90.07 L186.05,90.68 L186.55,91.28 L187.04,91.89 L187.53,92.49 L188.02,93.08 L188.51,93.68 L189.01,94.27 L189.50,94.86 L189.99,95.44 L190.48,96.03 L190.97,96.60 L191.46,97.18 L191.96,97.75 L192.45,98.32 L192.94,98.88 L193.43,99.45 L193.92,100.00 L194.42,100.56 L194.91,101.11 L195.40,101.66 L195.89,102.20 L196.38,102.74 L196.87,103.28 L197.37,103.81 L197.86,104.34 L198.35,104.86 L198.84,105.38 L199.33,105.90 L199.83,106.41 L200.32,106.92 L200.81,107.43 L201.30,107.93 L201.79,108.42 L202.28,108.92 L202.78,109.40 L203.27,109.89 L203.76,110.37 L204.25,110.84 L204.74,111.32 L205.24,111.78 L205.73,112.25 L206.22,112.71 L206.71,113.16 L207.20,113.61 L207.69,114.06 L208.19,114.50 L208.68,114.94 L209.17,115.38 L209.66,115.81 L210.15,116.23 L210.65,116.66 L211.14,117.07 L211.63,117.49 L212.12,117.90 L212.61,118.30 L213.10,118.70 L213.60,119.10 L214.09,119.49 L214.58,119.88 L215.07,120.26 L215.56,120.64 L216.06,121.02 L216.55,121.39 L217.04,121.76 L217.53,122.12 L218.02,122.48 L218.51,122.84 L219.01,123.19 L219.50,123.53 L219.99,123.88 L220.48,124.22 L220.97,124.55 L221.47,124.88 L221.96,125.21 L222.45,125.53 L222.94,125.85 L223.43,126.17 L223.92,126.48 L224.42,126.79 L224.91,127.09 L225.40,127.39 L225.89,127.69 L226.38,127.98 L226.88,128.27 L227.37,128.56 L227.86,128.84 L228.35,129.12 L228.84,129.39 L229.33,129.66 L229.83,129.93 L230.32,130.19 L230.81,130.45 L231.30,130.71 L231.79,130.96 L232.29,131.21 L232.78,131.46 L233.27,131.70 L233.76,131.94 L234.25,132.18 L234.74,132.41 L235.24,132.64 L235.73,132.87 L236.22,133.09 L236.71,133.31 L237.20,133.53 L237.70,133.74 L238.19,133.95 L238.68,134.16 L239.17,134.37 L239.66,134.57 L240.15,134.77 L240.65,134.96 L241.14,135.15 L241.63,135.34 L242.12,135.53 L242.61,135.72 L243.11,135.90 L243.60,136.08 L244.09,136.25 L244.58,136.42 L245.07,136.59 L245.56,136.76 L246.06,136.93 L246.55,137.09 L247.04,137.25 L247.53,137.41 L248.02,137.56 L248.52,137.72 L249.01,137.87 L249.50,138.01 L249.99,138.16 L250.48,138.30 L250.97,138.44 L251.47,138.58 L251.96,138.72 L252.45,138.85 L252.94,138.98 L253.43,139.11 L253.93,139.24 L254.42,139.36 L254.91,139.48 L255.40,139.61 L255.89,139.72 L256.38,139.84 L256.88,139.96 L257.37,140.07 L257.86,140.18 L258.35,140.29 L258.84,140.39 L259.34,140.50 L259.83,140.60 L260.32,140.70 L260.81,140.80 L261.30,140.90 L261.79,141.00 L262.29,141.09 L262.78,141.19 L263.27,141.28 L263.76,141.37 L264.25,141.45 L264.75,141.54 L265.24,141.62 L265.73,141.71 L266.22,141.79 L266.71,141.87 L267.20,141.95 L267.70,142.02 L268.19,142.10 L268.68,142.17 L269.17,142.25 L269.66,142.32 L270.16,142.39 L270.65,142.46 L271.14,142.53 L271.63,142.59 L272.12,142.66 L272.61,142.72 L273.11,142.78 L273.60,142.84 L274.09,142.90 L274.58,142.96 L275.07,143.02 L275.57,143.08 L276.06,143.13 L276.55,143.19 L277.04,143.24 L277.53,143.29 L278.02,143.34 L278.52,143.39 L279.01,143.44 L279.50,143.49 L279.99,143.54 L280.48,143.59 L280.98,143.63 L281.47,143.68 L281.96,143.72 L282.45,143.76 L282.94,143.80 L283.43,143.84 L283.93,143.88 L284.42,143.92 L284.91,143.96 L285.40,144.00 L285.89,144.04 L286.39,144.07 L286.88,144.11 L287.37,144.14 L287.86,144.18 L288.35,144.21 L288.84,144.24 L289.34,144.27 L289.83,144.30 L290.32,144.34 L290.81,144.37 L291.30,144.39 L291.80,144.42 L292.29,144.45 L292.78,144.48 L293.27,144.50 L293.76,144.53 L294.25,144.56 L294.75,144.58 L295.24,144.61 L295.73,144.63 L296.22,144.65 L296.71,144.68 L297.21,144.70 L297.70,144.72 L298.19,144.74 L298.68,144.76 L299.17,144.78 L299.66,144.80 L300.16,144.82 L300.65,144.84 L301.14,144.86 L301.63,144.88 L302.12,144.90 L302.62,144.91 L303.11,144.93 L303.60,144.95 L304.09,144.96 L304.58,144.98 L305.07,144.99 L305.57,145.01 L306.06,145.02 L306.55,145.04 L307.04,145.05 L307.53,145.07 L308.03,145.08 L308.52,145.09 L309.01,145.11 L309.50,145.12 L309.99,145.13 L310.48,145.14 L310.98,145.16 L311.47,145.17 L311.96,145.18 L312.45,145.19 L312.94,145.20 L313.44,145.21 L313.93,145.22 L314.42,145.23 L314.91,145.24 L315.40,145.25 L315.89,145.26 L316.39,145.27 L316.88,145.28 L317.37,145.28 L317.86,145.29 L318.35,145.30 L318.85,145.31 L319.34,145.32 L319.83,145.32 L320.32,145.33 L320.81,145.34 L321.30,145.34 L321.80,145.35 L322.29,145.36 L322.78,145.36 L323.27,145.37 L323.76,145.38 L324.26,145.38 L324.75,145.39 L325.24,145.39 L325.73,145.40 L326.22,145.41 L326.71,145.41 L327.21,145.42 L327.70,145.42 L328.19,145.43 L328.68,145.43 L329.17,145.44 L329.67,145.44 L330.16,145.44 L330.65,145.45 L331.14,145.45 L331.63,145.46 L332.12,145.46 L332.62,145.46 L333.11,145.47 L333.60,145.47" fill="none" stroke="#2868ba" stroke-width="1.05" stroke-linejoin="round" />
<path d="M39.00,145.60 L39.49,145.60 L39.98,145.60 L40.48,145.60 L40.97,145.60 L41.46,145.60 L41.95,145.60 L42.44,145.60 L42.93,145.60 L43.43,145.60 L43.92,145.60 L44.41,145.60 L44.90,145.60 L45.39,145.60 L45.89,145.60 L46.38,145.60 L46.87,145.60 L47.36,145.60 L47.85,145.60 L48.34,145.60 L48.84,145.60 L49.33,145.60 L49.82,145.59 L50.31,145.59 L50.80,145.59 L51.30,145.59 L51.79,145.59 L52.28,145.59 L52.77,145.59 L53.26,145.59 L53.75,145.59 L54.25,145.58 L54.74,145.58 L55.23,145.58 L55.72,145.58 L56.21,145.57 L56.71,145.57 L57.20,145.57 L57.69,145.56 L58.18,145.56 L58.67,145.55 L59.16,145.55 L59.66,145.54 L60.15,145.53 L60.64,145.52 L61.13,145.51 L61.62,145.50 L62.12,145.49 L62.61,145.48 L63.10,145.47 L63.59,145.45 L64.08,145.44 L64.57,145.42 L65.07,145.40 L65.56,145.38 L66.05,145.35 L66.54,145.33 L67.03,145.30 L67.53,145.27 L68.02,145.23 L68.51,145.19 L69.00,145.15 L69.49,145.11 L69.98,145.06 L70.48,145.01 L70.97,144.95 L71.46,144.89 L71.95,144.82 L72.44,144.75 L72.94,144.67 L73.43,144.58 L73.92,144.49 L74.41,144.39 L74.90,144.28 L75.39,144.17 L75.89,144.04 L76.38,143.91 L76.87,143.77 L77.36,143.61 L77.85,143.45 L78.35,143.27 L78.84,143.08 L79.33,142.88 L79.82,142.67 L80.31,142.44 L80.80,142.20 L81.30,141.94 L81.79,141.66 L82.28,141.37 L82.77,141.06 L83.26,140.73 L83.76,140.39 L84.25,140.02 L84.74,139.63 L85.23,139.22 L85.72,138.79 L86.21,138.34 L86.71,137.86 L87.20,137.36 L87.69,136.83 L88.18,136.28 L88.67,135.70 L89.17,135.09 L89.66,134.46 L90.15,133.80 L90.64,133.11 L91.13,132.39 L91.62,131.64 L92.12,130.85 L92.61,130.04 L93.10,129.20 L93.59,128.33 L94.08,127.42 L94.58,126.48 L95.07,125.51 L95.56,124.51 L96.05,123.48 L96.54,122.41 L97.03,121.32 L97.53,120.19 L98.02,119.03 L98.51,117.84 L99.00,116.61 L99.49,115.36 L99.99,114.08 L100.48,112.77 L100.97,111.43 L101.46,110.07 L101.95,108.67 L102.44,107.26 L102.94,105.82 L103.43,104.35 L103.92,102.87 L104.41,101.36 L104.90,99.83 L105.40,98.29 L105.89,96.73 L106.38,95.16 L106.87,93.57 L107.36,91.98 L107.85,90.37 L108.35,88.76 L108.84,87.14 L109.33,85.52 L109.82,83.89 L110.31,82.27 L110.81,80.65 L111.30,79.03 L111.79,77.42 L112.28,75.82 L112.77,74.23 L113.26,72.65 L113.76,71.09 L114.25,69.55 L114.74,68.02 L115.23,66.52 L115.72,65.04 L116.22,63.58 L116.71,62.15 L117.20,60.75 L117.69,59.38 L118.18,58.04 L118.67,56.73 L119.17,55.47 L119.66,54.23 L120.15,53.04 L120.64,51.89 L121.13,50.78 L121.63,49.71 L122.12,48.68 L122.61,47.70 L123.10,46.76 L123.59,45.87 L124.08,45.02 L124.58,44.22 L125.07,43.47 L125.56,42.77 L126.05,42.11 L126.54,41.50 L127.04,40.94 L127.53,40.43 L128.02,39.96 L128.51,39.55 L129.00,39.17 L129.49,38.84 L129.99,38.56 L130.48,38.31 L130.97,38.11 L131.46,37.95 L131.95,37.82 L132.45,37.73 L132.94,37.68 L133.43,37.65 L133.92,37.64 L134.41,37.67 L134.90,37.73 L135.40,37.82 L135.89,37.93 L136.38,38.07 L136.87,38.23 L137.36,38.40 L137.86,38.60 L138.35,38.81 L138.84,39.04 L139.33,39.29 L139.82,39.56 L140.31,39.84 L140.81,40.13 L141.30,40.44 L141.79,40.77 L142.28,41.11 L142.77,41.46 L143.27,41.82 L143.76,42.20 L144.25,42.59 L144.74,43.00 L145.23,43.41 L145.72,43.84 L146.22,44.28 L146.71,44.72 L147.20,45.18 L147.69,45.65 L148.18,46.13 L148.68,46.62 L149.17,47.12 L149.66,47.63 L150.15,48.15 L150.64,48.67 L151.13,49.21 L151.63,49.75 L152.12,50.30 L152.61,50.86 L153.10,51.42 L153.59,51.99 L154.09,52.57 L154.58,53.16 L155.07,53.75 L155.56,54.35 L156.05,54.95 L156.54,55.56 L157.04,56.18 L157.53,56.80 L158.02,57.43 L158.51,58.06 L159.00,58.69 L159.50,59.33 L159.99,59.98 L160.48,60.63 L160.97,61.28 L161.46,61.93 L161.95,62.59 L162.45,63.25 L162.94,63.92 L163.43,64.59 L163.92,65.26 L164.41,65.93 L164.91,66.60 L165.40,67.28 L165.89,67.96 L166.38,68.64 L166.87,69.32 L167.36,70.00 L167.86,70.69 L168.35,71.37 L168.84,72.06 L169.33,72.74 L169.82,73.43 L170.32,74.12 L170.81,74.81 L171.30,75.49 L171.79,76.18 L172.28,76.87 L172.77,77.55 L173.27,78.24 L173.76,78.92 L174.25,79.61 L174.74,80.29 L175.23,80.97 L175.73,81.65 L176.22,82.33 L176.71,83.01 L177.20,83.69 L177.69,84.36 L178.18,85.03 L178.68,85.70 L179.17,86.37 L179.66,87.04 L180.15,87.70 L180.64,88.36 L181.14,89.02 L181.63,89.68 L182.12,90.33 L182.61,90.98 L183.10,91.63 L183.59,92.27 L184.09,92.91 L184.58,93.55 L185.07,94.18 L185.56,94.81 L186.05,95.44 L186.55,96.07 L187.04,96.69 L187.53,97.30 L188.02,97.92 L188.51,98.53 L189.01,99.13 L189.50,99.73 L189.99,100.33 L190.48,100.93 L190.97,101.52 L191.46,102.10 L191.96,102.68 L192.45,103.26 L192.94,103.83 L193.43,104.40 L193.92,104.96 L194.42,105.52 L194.91,106.08 L195.40,106.63 L195.89,107.17 L196.38,107.72 L196.87,108.25 L197.37,108.78 L197.86,109.31 L198.35,109.84 L198.84,110.35 L199.33,110.87 L199.83,111.38 L200.32,111.88 L200.81,112.38 L201.30,112.87 L201.79,113.36 L202.28,113.85 L202.78,114.33 L203.27,114.80 L203.76,115.27 L204.25,115.74 L204.74,116.20 L205.24,116.66 L205.73,117.11 L206.22,117.55 L206.71,118.00 L207.20,118.43 L207.69,118.86 L208.19,119.29 L208.68,119.71 L209.17,120.13 L209.66,120.54 L210.15,120.95 L210.65,121.35 L211.14,121.75 L211.63,122.15 L212.12,122.53 L212.61,122.92 L213.10,123.30 L213.60,123.67 L214.09,124.04 L214.58,124.41 L215.07,124.77 L215.56,125.12 L216.06,125.48 L216.55,125.82 L217.04,126.17 L217.53,126.50 L218.02,126.84 L218.51,127.17 L219.01,127.49 L219.50,127.81 L219.99,128.13 L220.48,128.44 L220.97,128.75 L221.47,129.05 L221.96,129.35 L222.45,129.64 L222.94,129.93 L223.43,130.22 L223.92,130.50 L224.42,130.78 L224.91,131.05 L225.40,131.32 L225.89,131.59 L226.38,131.85 L226.88,132.11 L227.37,132.37 L227.86,132.62 L228.35,132.86 L228.84,133.11 L229.33,133.34 L229.83,133.58 L230.32,133.81 L230.81,134.04 L231.30,134.26 L231.79,134.49 L232.29,134.70 L232.78,134.92 L233.27,135.13 L233.76,135.33 L234.25,135.54 L234.74,135.74 L235.24,135.94 L235.73,136.13 L236.22,136.32 L236.71,136.51 L237.20,136.69 L237.70,136.87 L238.19,137.05 L238.68,137.23 L239.17,137.40 L239.66,137.57 L240.15,137.73 L240.65,137.90 L241.14,138.06 L241.63,138.21 L242.12,138.37 L242.61,138.52 L243.11,138.67 L243.60,138.82 L244.09,138.96 L244.58,139.10 L245.07,139.24 L245.56,139.38 L246.06,139.51 L246.55,139.64 L247.04,139.77 L247.53,139.90 L248.02,140.02 L248.52,140.14 L249.01,140.26 L249.50,140.38 L249.99,140.50 L250.48,140.61 L250.97,140.72 L251.47,140.83 L251.96,140.93 L252.45,141.04 L252.94,141.14 L253.43,141.24 L253.93,141.34 L254.42,141.44 L254.91,141.53 L255.40,141.62 L255.89,141.71 L256.38,141.80 L256.88,141.89 L257.37,141.98 L257.86,142.06 L258.35,142.14 L258.84,142.22 L259.34,142.30 L259.83,142.38 L260.32,142.45 L260.81,142.53 L261.30,142.60 L261.79,142.67 L262.29,142.74 L262.78,142.81 L263.27,142.87 L263.76,142.94 L264.25,143.00 L264.75,143.07 L265.24,143.13 L265.73,143.19 L266.22,143.24 L266.71,143.30 L267.20,143.36 L267.70,143.41 L268.19,143.47 L268.68,143.52 L269.17,143.57 L269.66,143.62 L270.16,143.67 L270.65,143.72 L271.14,143.76 L271.63,143.81 L272.12,143.85 L272.61,143.90 L273.11,143.94 L273.60,143.98 L274.09,144.02 L274.58,144.06 L275.07,144.10 L275.57,144.14 L276.06,144.18 L276.55,144.21 L277.04,144.25 L277.53,144.28 L278.02,144.32 L278.52,144.35 L279.01,144.38 L279.50,144.41 L279.99,144.45 L280.48,144.48 L280.98,144.50 L281.47,144.53 L281.96,144.56 L282.45,144.59 L282.94,144.62 L283.43,144.64 L283.93,144.67 L284.42,144.69 L284.91,144.72 L285.40,144.74 L285.89,144.76 L286.39,144.79 L286.88,144.81 L287.37,144.83 L287.86,144.85 L288.35,144.87 L288.84,144.89 L289.34,144.91 L289.83,144.93 L290.32,144.95 L290.81,144.96 L291.30,144.98 L291.80,145.00 L292.29,145.01 L292.78,145.03 L293.27,145.05 L293.76,145.06 L294.25,145.08 L294.75,145.09 L295.24,145.11 L295.73,145.12 L296.22,145.13 L296.71,145.15 L297.21,145.16 L297.70,145.17 L298.19,145.18 L298.68,145.20 L299.17,145.21 L299.66,145.22 L300.16,145.23 L300.65,145.24 L301.14,145.25 L301.63,145.26 L302.12,145.27 L302.62,145.28 L303.11,145.29 L303.60,145.30 L304.09,145.31 L304.58,145.31 L305.07,145.32 L305.57,145.33 L306.06,145.34 L306.55,145.35 L307.04,145.35 L307.53,145.36 L308.03,145.37 L308.52,145.38 L309.01,145.38 L309.50,145.39 L309.99,145.39 L310.48,145.40 L310.98,145.41 L311.47,145.41 L311.96,145.42 L312.45,145.42 L312.94,145.43 L313.44,145.43 L313.93,145.44 L314.42,145.44 L314.91,145.45 L315.40,145.45 L315.89,145.46 L316.39,145.46 L316.88,145.47 L317.37,145.47 L317.86,145.47 L318.35,145.48 L318.85,145.48 L319.34,145.49 L319.83,145.49 L320.32,145.49 L320.81,145.50 L321.30,145.50 L321.80,145.50 L322.29,145.51 L322.78,145.51 L323.27,145.51 L323.76,145.51 L324.26,145.52 L324.75,145.52 L325.24,145.52 L325.73,145.52 L326.22,145.53 L326.71,145.53 L327.21,145.53 L327.70,145.53 L328.19,145.54 L328.68,145.54 L329.17,145.54 L329.67,145.54 L330.16,145.54 L330.65,145.55 L331.14,145.55 L331.63,145.55 L332.12,145.55 L332.62,145.55 L333.11,145.55 L333.60,145.56" fill="none" stroke="#2f80f0" stroke-width="1.05" stroke-linejoin="round" />
<path d="M39.00,145.60 L39.49,145.60 L39.98,145.60 L40.48,145.60 L40.97,145.60 L41.46,145.60 L41.95,145.60 L42.44,145.60 L42.93,145.60 L43.43,145.60 L43.92,145.60 L44.41,145.60 L44.90,145.60 L45.39,145.60 L45.89,145.60 L46.38,145.60 L46.87,145.60 L47.36,145.60 L47.85,145.60 L48.34,145.59 L48.84,145.59 L49.33,145.59 L49.82,145.59 L50.31,145.59 L50.80,145.59 L51.30,145.59 L51.79,145.59 L52.28,145.58 L52.77,145.58 L53.26,145.58 L53.75,145.58 L54.25,145.58 L54.74,145.57 L55.23,145.57 L55.72,145.56 L56.21,145.56 L56.71,145.56 L57.20,145.55 L57.69,145.54 L58.18,145.54 L58.67,145.53 L59.16,145.52 L59.66,145.51 L60.15,145.50 L60.64,145.49 L61.13,145.48 L61.62,145.46 L62.12,145.45 L62.61,145.43 L63.10,145.42 L63.59,145.40 L64.08,145.37 L64.57,145.35 L65.07,145.32 L65.56,145.29 L66.05,145.26 L66.54,145.23 L67.03,145.19 L67.53,145.15 L68.02,145.11 L68.51,145.06 L69.00,145.01 L69.49,144.95 L69.98,144.89 L70.48,144.82 L70.97,144.75 L71.46,144.67 L71.95,144.59 L72.44,144.50 L72.94,144.40 L73.43,144.29 L73.92,144.18 L74.41,144.06 L74.90,143.93 L75.39,143.79 L75.89,143.63 L76.38,143.47 L76.87,143.30 L77.36,143.12 L77.85,142.92 L78.35,142.71 L78.84,142.49 L79.33,142.25 L79.82,142.00 L80.31,141.73 L80.80,141.44 L81.30,141.14 L81.79,140.82 L82.28,140.49 L82.77,140.13 L83.26,139.75 L83.76,139.35 L84.25,138.93 L84.74,138.49 L85.23,138.03 L85.72,137.54 L86.21,137.03 L86.71,136.49 L87.20,135.93 L87.69,135.34 L88.18,134.72 L88.67,134.08 L89.17,133.40 L89.66,132.70 L90.15,131.97 L90.64,131.21 L91.13,130.42 L91.62,129.60 L92.12,128.75 L92.61,127.87 L93.10,126.96 L93.59,126.01 L94.08,125.04 L94.58,124.03 L95.07,122.99 L95.56,121.92 L96.05,120.82 L96.54,119.69 L97.03,118.52 L97.53,117.33 L98.02,116.11 L98.51,114.85 L99.00,113.57 L99.49,112.26 L99.99,110.92 L100.48,109.56 L100.97,108.17 L101.46,106.75 L101.95,105.31 L102.44,103.85 L102.94,102.37 L103.43,100.87 L103.92,99.35 L104.41,97.81 L104.90,96.26 L105.40,94.69 L105.89,93.12 L106.38,91.53 L106.87,89.93 L107.36,88.32 L107.85,86.71 L108.35,85.10 L108.84,83.49 L109.33,81.88 L109.82,80.26 L110.31,78.66 L110.81,77.06 L111.30,75.47 L111.79,73.89 L112.28,72.33 L112.77,70.78 L113.26,69.24 L113.76,67.73 L114.25,66.23 L114.74,64.76 L115.23,63.32 L115.72,61.90 L116.22,60.51 L116.71,59.15 L117.20,57.82 L117.69,56.52 L118.18,55.27 L118.67,54.04 L119.17,52.86 L119.66,51.71 L120.15,50.61 L120.64,49.55 L121.13,48.53 L121.63,47.56 L122.12,46.63 L122.61,45.74 L123.10,44.90 L123.59,44.11 L124.08,43.37 L124.58,42.67 L125.07,42.02 L125.56,41.42 L126.05,40.86 L126.54,40.36 L127.04,39.90 L127.53,39.48 L128.02,39.12 L128.51,38.79 L129.00,38.51 L129.49,38.27 L129.99,38.08 L130.48,37.92 L130.97,37.80 L131.46,37.72 L131.95,37.67 L132.45,37.64 L132.94,37.64 L133.43,37.68 L133.92,37.75 L134.41,37.85 L134.90,37.97 L135.40,38.12 L135.89,38.28 L136.38,38.47 L136.87,38.68 L137.36,38.91 L137.86,39.15 L138.35,39.42 L138.84,39.70 L139.33,40.00 L139.82,40.31 L140.31,40.64 L140.81,40.99 L141.30,41.35 L141.79,41.73 L142.28,42.12 L142.77,42.53 L143.27,42.94 L143.76,43.38 L144.25,43.82 L144.74,44.28 L145.23,44.75 L145.72,45.23 L146.22,45.72 L146.71,46.23 L147.20,46.74 L147.69,47.27 L148.18,47.80 L148.68,48.35 L149.17,48.90 L149.66,49.47 L150.15,50.04 L150.64,50.63 L151.13,51.22 L151.63,51.82 L152.12,52.43 L152.61,53.04 L153.10,53.66 L153.59,54.29 L154.09,54.93 L154.58,55.57 L155.07,56.22 L155.56,56.88 L156.05,57.54 L156.54,58.21 L157.04,58.88 L157.53,59.56 L158.02,60.24 L158.51,60.93 L159.00,61.62 L159.50,62.31 L159.99,63.01 L160.48,63.71 L160.97,64.42 L161.46,65.13 L161.95,65.84 L162.45,66.55 L162.94,67.27 L163.43,67.99 L163.92,68.71 L164.41,69.43 L164.91,70.16 L165.40,70.88 L165.89,71.61 L166.38,72.34 L166.87,73.07 L167.36,73.80 L167.86,74.53 L168.35,75.26 L168.84,75.99 L169.33,76.72 L169.82,77.45 L170.32,78.18 L170.81,78.90 L171.30,79.63 L171.79,80.36 L172.28,81.08 L172.77,81.81 L173.27,82.53 L173.76,83.25 L174.25,83.97 L174.74,84.69 L175.23,85.40 L175.73,86.11 L176.22,86.82 L176.71,87.53 L177.20,88.23 L177.69,88.94 L178.18,89.64 L178.68,90.33 L179.17,91.03 L179.66,91.72 L180.15,92.40 L180.64,93.08 L181.14,93.76 L181.63,94.44 L182.12,95.11 L182.61,95.78 L183.10,96.44 L183.59,97.10 L184.09,97.76 L184.58,98.41 L185.07,99.06 L185.56,99.70 L186.05,100.34 L186.55,100.98 L187.04,101.60 L187.53,102.23 L188.02,102.85 L188.51,103.46 L189.01,104.08 L189.50,104.68 L189.99,105.28 L190.48,105.88 L190.97,106.47 L191.46,107.05 L191.96,107.63 L192.45,108.21 L192.94,108.78 L193.43,109.34 L193.92,109.90 L194.42,110.46 L194.91,111.00 L195.40,111.55 L195.89,112.09 L196.38,112.62 L196.87,113.15 L197.37,113.67 L197.86,114.18 L198.35,114.69 L198.84,115.20 L199.33,115.70 L199.83,116.19 L200.32,116.68 L200.81,117.16 L201.30,117.64 L201.79,118.11 L202.28,118.58 L202.78,119.04 L203.27,119.50 L203.76,119.95 L204.25,120.39 L204.74,120.83 L205.24,121.27 L205.73,121.69 L206.22,122.12 L206.71,122.53 L207.20,122.95 L207.69,123.35 L208.19,123.76 L208.68,124.15 L209.17,124.54 L209.66,124.93 L210.15,125.31 L210.65,125.68 L211.14,126.05 L211.63,126.42 L212.12,126.78 L212.61,127.13 L213.10,127.48 L213.60,127.83 L214.09,128.16 L214.58,128.50 L215.07,128.83 L215.56,129.15 L216.06,129.47 L216.55,129.79 L217.04,130.10 L217.53,130.40 L218.02,130.70 L218.51,131.00 L219.01,131.29 L219.50,131.58 L219.99,131.86 L220.48,132.14 L220.97,132.41 L221.47,132.68 L221.96,132.94 L222.45,133.20 L222.94,133.46 L223.43,133.71 L223.92,133.96 L224.42,134.20 L224.91,134.44 L225.40,134.67 L225.89,134.90 L226.38,135.13 L226.88,135.35 L227.37,135.57 L227.86,135.79 L228.35,136.00 L228.84,136.21 L229.33,136.41 L229.83,136.61 L230.32,136.81 L230.81,137.00 L231.30,137.19 L231.79,137.38 L232.29,137.56 L232.78,137.74 L233.27,137.91 L233.76,138.09 L234.25,138.25 L234.74,138.42 L235.24,138.58 L235.73,138.74 L236.22,138.90 L236.71,139.05 L237.20,139.20 L237.70,139.35 L238.19,139.50 L238.68,139.64 L239.17,139.78 L239.66,139.91 L240.15,140.05 L240.65,140.18 L241.14,140.31 L241.63,140.43 L242.12,140.56 L242.61,140.68 L243.11,140.79 L243.60,140.91 L244.09,141.02 L244.58,141.13 L245.07,141.24 L245.56,141.35 L246.06,141.45 L246.55,141.55 L247.04,141.65 L247.53,141.75 L248.02,141.85 L248.52,141.94 L249.01,142.03 L249.50,142.12 L249.99,142.21 L250.48,142.29 L250.97,142.38 L251.47,142.46 L251.96,142.54 L252.45,142.61 L252.94,142.69 L253.43,142.77 L253.93,142.84 L254.42,142.91 L254.91,142.98 L255.40,143.05 L255.89,143.11 L256.38,143.18 L256.88,143.24 L257.37,143.30 L257.86,143.36 L258.35,143.42 L258.84,143.48 L259.34,143.54 L259.83,143.59 L260.32,143.65 L260.81,143.70 L261.30,143.75 L261.79,143.80 L262.29,143.85 L262.78,143.89 L263.27,143.94 L263.76,143.99 L264.25,144.03 L264.75,144.07 L265.24,144.12 L265.73,144.16 L266.22,144.20 L266.71,144.23 L267.20,144.27 L267.70,144.31 L268.19,144.35 L268.68,144.38 L269.17,144.41 L269.66,144.45 L270.16,144.48 L270.65,144.51 L271.14,144.54 L271.63,144.57 L272.12,144.60 L272.61,144.63 L273.11,144.66 L273.60,144.69 L274.09,144.71 L274.58,144.74 L275.07,144.76 L275.57,144.79 L276.06,144.81 L276.55,144.83 L277.04,144.86 L277.53,144.88 L278.02,144.90 L278.52,144.92 L279.01,144.94 L279.50,144.96 L279.99,144.98 L280.48,145.00 L280.98,145.02 L281.47,145.03 L281.96,145.05 L282.45,145.07 L282.94,145.08 L283.43,145.10 L283.93,145.11 L284.42,145.13 L284.91,145.14 L285.40,145.16 L285.89,145.17 L286.39,145.18 L286.88,145.20 L287.37,145.21 L287.86,145.22 L288.35,145.23 L288.84,145.24 L289.34,145.25 L289.83,145.27 L290.32,145.28 L290.81,145.29 L291.30,145.30 L291.80,145.31 L292.29,145.31 L292.78,145.32 L293.27,145.33 L293.76,145.34 L294.25,145.35 L294.75,145.36 L295.24,145.36 L295.73,145.37 L296.22,145.38 L296.71,145.39 L297.21,145.39 L297.70,145.40 L298.19,145.41 L298.68,145.41 L299.17,145.42 L299.66,145.43 L300.16,145.43 L300.65,145.44 L301.14,145.44 L301.63,145.45 L302.12,145.45 L302.62,145.46 L303.11,145.46 L303.60,145.47 L304.09,145.47 L304.58,145.47 L305.07,145.48 L305.57,145.48 L306.06,145.49 L306.55,145.49 L307.04,145.49 L307.53,145.50 L308.03,145.50 L308.52,145.50 L309.01,145.51 L309.50,145.51 L309.99,145.51 L310.48,145.52 L310.98,145.52 L311.47,145.52 L311.96,145.53 L312.45,145.53 L312.94,145.53 L313.44,145.53 L313.93,145.54 L314.42,145.54 L314.91,145.54 L315.40,145.54 L315.89,145.54 L316.39,145.55 L316.88,145.55 L317.37,145.55 L317.86,145.55 L318.35,145.55 L318.85,145.55 L319.34,145.56 L319.83,145.56 L320.32,145.56 L320.81,145.56 L321.30,145.56 L321.80,145.56 L322.29,145.56 L322.78,145.57 L323.27,145.57 L323.76,145.57 L324.26,145.57 L324.75,145.57 L325.24,145.57 L325.73,145.57 L326.22,145.57 L326.71,145.57 L327.21,145.58 L327.70,145.58 L328.19,145.58 L328.68,145.58 L329.17,145.58 L329.67,145.58 L330.16,145.58 L330.65,145.58 L331.14,145.58 L331.63,145.58 L332.12,145.58 L332.62,145.58 L333.11,145.58 L333.60,145.59" fill="none" stroke="#36aef8" stroke-width="1.05" stroke-linejoin="round" />
<path d="M381.00,145.40 L388.23,145.36 L388.64,145.35 L389.04,145.35 L389.44,145.35 L389.83,145.34 L390.23,145.34 L390.62,145.34 L391.01,145.33 L391.39,145.33 L391.78,145.32 L392.16,145.31 L392.54,145.31 L392.92,145.30 L393.30,145.30 L393.67,145.29 L394.04,145.28 L394.41,145.27 L394.78,145.26 L395.15,145.25 L395.52,145.24 L395.88,145.23 L396.24,145.22 L396.60,145.21 L396.96,145.20 L397.32,145.18 L397.67,145.17 L398.03,145.16 L398.38,145.14 L398.73,145.12 L399.08,145.11 L399.43,145.09 L399.77,145.07 L400.12,145.05 L400.46,145.02 L400.80,145.00 L401.15,144.97 L401.49,144.95 L401.83,144.92 L402.16,144.89 L402.50,144.86 L402.84,144.83 L403.17,144.79 L403.51,144.76 L403.84,144.72 L404.17,144.68 L404.50,144.64 L404.83,144.59 L405.16,144.54 L405.49,144.50 L405.82,144.44 L406.15,144.39 L406.47,144.33 L406.80,144.27 L407.13,144.21 L407.45,144.14 L407.78,144.07 L408.10,144.00 L408.42,143.92 L408.75,143.84 L409.07,143.76 L409.39,143.67 L409.72,143.58 L410.04,143.48 L410.36,143.38 L410.68,143.28 L411.00,143.17 L411.33,143.05 L411.65,142.93 L411.97,142.81 L412.29,142.68 L412.61,142.54 L412.93,142.40 L413.25,142.25 L413.58,142.09 L413.90,141.93 L414.22,141.77 L414.54,141.59 L414.87,141.41 L415.19,141.22 L415.51,141.02 L415.84,140.82 L416.16,140.61 L416.49,140.39 L416.81,140.16 L417.14,139.92 L417.46,139.68 L417.79,139.42 L418.12,139.16 L418.44,138.88 L418.77,138.60 L419.10,138.30 L419.43,138.00 L419.77,137.68 L420.10,137.36 L420.43,137.02 L420.76,136.67 L421.10,136.31 L421.44,135.94 L421.77,135.56 L422.11,135.16 L422.45,134.76 L422.79,134.33 L423.13,133.90 L423.47,133.46 L423.82,133.00 L424.16,132.52 L424.51,132.04 L424.86,131.53 L425.21,131.02 L425.56,130.49 L425.91,129.95 L426.26,129.39 L426.62,128.82 L426.97,128.23 L427.33,127.63 L427.69,127.01 L428.05,126.38 L428.42,125.73 L428.78,125.06 L429.15,124.38 L429.52,123.69 L429.89,122.98 L430.26,122.25 L430.64,121.51 L431.01,120.75 L431.39,119.98 L431.77,119.19 L432.15,118.39 L432.54,117.57 L432.93,116.73 L433.31,115.88 L433.71,115.01 L434.10,114.13 L434.49,113.23 L434.89,112.32 L435.29,111.40 L435.70,110.45 L436.10,109.50 L436.51,108.53 L436.92,107.55 L437.33,106.55 L437.75,105.54 L438.16,104.52 L438.59,103.48 L439.01,102.43 L439.43,101.37 L439.86,100.30 L440.29,99.22 L440.73,98.13 L441.17,97.03 L441.61,95.92 L442.05,94.80 L442.50,93.67 L442.94,92.53 L443.40,91.38 L443.85,90.23 L444.31,89.08 L444.77,87.91 L445.23,86.75 L445.70,85.57 L446.17,84.40 L446.65,83.22 L447.13,82.04 L447.61,80.86 L448.09,79.68 L448.58,78.50 L449.07,77.32 L449.56,76.14 L450.06,74.96 L450.56,73.79 L451.07,72.62 L451.58,71.46 L452.09,70.30 L452.61,69.15 L453.13,68.01 L453.65,66.87 L454.18,65.75 L454.71,64.63 L455.25,63.53 L455.79,62.44 L456.33,61.36 L456.88,60.30 L457.43,59.25 L457.98,58.21 L458.54,57.20 L459.11,56.19 L459.68,55.21 L460.25,54.25 L460.82,53.31 L461.41,52.38 L461.99,51.48 L462.58,50.60 L463.17,49.75 L463.77,48.91 L464.37,48.11 L464.98,47.32 L465.59,46.57 L466.21,45.84 L466.83,45.13 L467.46,44.46 L468.09,43.82 L468.72,43.20 L469.36,42.61 L470.01,42.06 L470.66,41.53 L471.31,41.04 L471.97,40.58 L472.63,40.15 L473.30,39.75 L473.98,39.39 L474.66,39.06 L475.34,38.76 L476.03,38.50 L476.72,38.27 L477.42,38.08 L478.13,37.92 L478.84,37.80 L479.55,37.71 L480.27,37.66 L481.00,37.64 L481.80,37.66 L482.61,37.71 L483.41,37.80 L484.21,37.92 L485.02,38.08 L485.82,38.27 L486.62,38.50 L487.43,38.76 L488.23,39.06 L489.03,39.39 L489.84,39.75 L490.64,40.15 L491.44,40.58 L492.25,41.04 L493.05,41.53 L493.85,42.06 L494.66,42.61 L495.46,43.20 L496.26,43.82 L497.07,44.46 L497.87,45.13 L498.67,45.84 L499.50,46.57 L500.41,47.32 L501.34,48.11 L502.28,48.91 L503.23,49.75 L504.20,50.60 L505.17,51.48 L506.15,52.38 L507.14,53.31 L508.14,54.25 L509.15,55.21 L510.16,56.19 L511.18,57.20 L512.21,58.21 L513.23,59.25 L514.26,60.30 L515.29,61.36 L516.32,62.44 L517.35,63.53 L518.37,64.63 L519.39,65.75 L520.40,66.87 L521.40,68.01 L522.40,69.15 L523.40,70.30 L524.39,71.46 L525.37,72.62 L526.35,73.79 L527.32,74.96 L528.29,76.14 L529.25,77.32 L530.22,78.50 L531.17,79.68 L532.12,80.86 L533.06,82.04 L533.99,83.22 L534.91,84.40 L535.82,85.57 L536.72,86.75 L537.60,87.91 L538.47,89.08 L539.33,90.23 L540.20,91.38 L541.10,92.53 L542.03,93.67 L543.00,94.80 L544.04,95.92 L545.14,97.03 L546.29,98.13 L547.48,99.22 L548.70,100.30 L549.94,101.37 L551.19,102.43 L552.44,103.48 L553.67,104.52 L554.88,105.54 L556.05,106.55 L557.19,107.55 L558.30,108.53 L559.38,109.50 L560.43,110.45 L561.46,111.40 L562.46,112.32 L563.45,113.23 L564.43,114.13 L565.39,115.01 L566.35,115.88 L567.30,116.73 L568.26,117.57 L569.22,118.39 L570.19,119.19 L571.16,119.98 L572.15,120.75 L573.14,121.51 L574.14,122.25 L575.14,122.98 L576.14,123.69 L577.15,124.38 L578.16,125.06 L579.17,125.73 L580.17,126.38 L581.18,127.01 L582.18,127.63 L583.17,128.23 L584.15,128.82 L585.13,129.39 L586.10,129.95 L587.06,130.49 L588.02,131.02 L588.98,131.53 L589.92,132.04 L590.87,132.52 L591.82,133.00 L592.76,133.46 L593.71,133.90 L594.66,134.33 L595.62,134.76 L596.57,135.16 L597.54,135.56 L598.51,135.94 L599.49,136.31 L600.48,136.67 L601.48,137.02 L602.48,137.36 L603.49,137.68 L604.49,138.00 L605.50,138.30 L606.50,138.60 L607.51,138.88 L608.51,139.16 L609.50,139.42 L610.48,139.68 L611.46,139.92 L612.42,140.16 L613.37,140.39 L614.30,140.61 L615.22,140.82 L616.12,141.02 L617.01,141.22 L617.89,141.41 L618.75,141.59 L619.60,141.77 L620.43,141.93 L621.25,142.09 L622.06,142.25 L622.86,142.40 L623.64,142.54 L624.41,142.68 L625.17,142.81 L625.92,142.93 L626.66,143.05 L627.39,143.17 L628.11,143.28 L628.82,143.38 L629.52,143.48 L630.21,143.58 L630.89,143.67 L631.56,143.76 L632.23,143.84 L632.89,143.92 L633.55,144.00 L634.20,144.07 L634.84,144.14 L635.48,144.21 L636.12,144.27 L636.75,144.33 L637.38,144.39 L638.01,144.44 L638.63,144.50 L639.26,144.54 L639.88,144.59 L640.53,144.64 L641.19,144.68 L641.84,144.72 L642.50,144.76 L643.16,144.79 L643.81,144.83 L644.47,144.86 L645.13,144.89 L645.78,144.92 L646.44,144.95 L647.09,144.97 L647.75,145.00 L648.41,145.02 L649.06,145.05 L649.72,145.07 L650.38,145.09 L651.03,145.11 L651.69,145.12 L652.34,145.14 L653.00,145.16 L653.66,145.17 L654.31,145.18 L654.97,145.20 L655.62,145.21 L656.28,145.22 L656.94,145.23 L657.59,145.24 L658.25,145.25 L658.91,145.26 L659.56,145.27 L660.22,145.28 L660.87,145.29 L661.53,145.30 L662.19,145.30 L662.84,145.31 L663.50,145.31 L664.15,145.32 L664.81,145.33 L665.47,145.33 L666.12,145.34 L666.78,145.34 L667.44,145.34 L668.09,145.35 L668.75,145.35 L669.40,145.35 L670.06,145.36 L674.00,145.40" fill="none" stroke="#3fb3f0" stroke-width="1.05" stroke-linejoin="round" />
<path d="M381.00,145.40 L409.07,145.36 L409.70,145.35 L410.32,145.35 L410.93,145.35 L411.54,145.34 L412.14,145.34 L412.74,145.34 L413.33,145.33 L413.92,145.33 L414.50,145.32 L415.08,145.31 L415.65,145.31 L416.22,145.30 L416.78,145.30 L417.34,145.29 L417.89,145.28 L418.44,145.27 L418.98,145.26 L419.52,145.25 L420.05,145.24 L420.58,145.23 L421.10,145.22 L421.62,145.21 L422.14,145.20 L422.65,145.18 L423.15,145.17 L423.65,145.16 L424.15,145.14 L424.64,145.12 L425.13,145.11 L425.62,145.09 L426.10,145.07 L426.57,145.05 L427.04,145.02 L427.51,145.00 L427.98,144.97 L428.44,144.95 L428.89,144.92 L429.34,144.89 L429.79,144.86 L430.24,144.83 L430.68,144.79 L431.12,144.76 L431.55,144.72 L431.98,144.68 L432.41,144.64 L432.83,144.59 L433.25,144.54 L433.67,144.50 L434.08,144.44 L434.49,144.39 L434.90,144.33 L435.30,144.27 L435.70,144.21 L436.10,144.14 L436.49,144.07 L436.88,144.00 L437.27,143.92 L437.66,143.84 L438.04,143.76 L438.42,143.67 L438.80,143.58 L439.17,143.48 L439.54,143.38 L439.91,143.28 L440.28,143.17 L440.64,143.05 L441.00,142.93 L441.36,142.81 L441.72,142.68 L442.07,142.54 L442.43,142.40 L442.78,142.25 L443.12,142.09 L443.47,141.93 L443.81,141.77 L444.16,141.59 L444.49,141.41 L444.83,141.22 L445.17,141.02 L445.50,140.82 L445.83,140.61 L446.16,140.39 L446.49,140.16 L446.82,139.92 L447.15,139.68 L447.47,139.42 L447.79,139.16 L448.11,138.88 L448.43,138.60 L448.75,138.30 L449.07,138.00 L449.38,137.68 L449.69,137.36 L450.01,137.02 L450.32,136.67 L450.63,136.31 L450.94,135.94 L451.25,135.56 L451.56,135.16 L451.86,134.76 L452.17,134.33 L452.47,133.90 L452.78,133.46 L453.08,133.00 L453.38,132.52 L453.69,132.04 L453.99,131.53 L454.29,131.02 L454.59,130.49 L454.89,129.95 L455.19,129.39 L455.49,128.82 L455.79,128.23 L456.09,127.63 L456.39,127.01 L456.68,126.38 L456.98,125.73 L457.28,125.06 L457.58,124.38 L457.88,123.69 L458.18,122.98 L458.47,122.25 L458.77,121.51 L459.07,120.75 L459.37,119.98 L459.67,119.19 L459.97,118.39 L460.27,117.57 L460.57,116.73 L460.87,115.88 L461.17,115.01 L461.48,114.13 L461.78,113.23 L462.08,112.32 L462.39,111.40 L462.69,110.45 L463.00,109.50 L463.31,108.53 L463.61,107.55 L463.92,106.55 L464.23,105.54 L464.54,104.52 L464.86,103.48 L465.17,102.43 L465.48,101.37 L465.80,100.30 L466.12,99.22 L466.43,98.13 L466.75,97.03 L467.07,95.92 L467.40,94.80 L467.72,93.67 L468.05,92.53 L468.37,91.38 L468.70,90.23 L469.03,89.08 L469.37,87.91 L469.70,86.75 L470.04,85.57 L470.37,84.40 L470.71,83.22 L471.06,82.04 L471.40,80.86 L471.75,79.68 L472.10,78.50 L472.45,77.32 L472.80,76.14 L473.15,74.96 L473.51,73.79 L473.87,72.62 L474.23,71.46 L474.60,70.30 L474.97,69.15 L475.34,68.01 L475.71,66.87 L476.08,65.75 L476.46,64.63 L476.84,63.53 L477.22,62.44 L477.61,61.36 L478.00,60.30 L478.39,59.25 L478.79,58.21 L479.19,57.20 L479.59,56.19 L479.99,55.21 L480.40,54.25 L480.81,53.31 L481.22,52.38 L481.64,51.48 L482.06,50.60 L482.48,49.75 L482.91,48.91 L483.34,48.11 L483.78,47.32 L484.22,46.57 L484.66,45.84 L485.10,45.13 L485.55,44.46 L486.01,43.82 L486.46,43.20 L486.92,42.61 L487.39,42.06 L487.86,41.53 L488.33,41.04 L488.81,40.58 L489.29,40.15 L489.77,39.75 L490.26,39.39 L490.76,39.06 L491.26,38.76 L491.76,38.50 L492.26,38.27 L492.78,38.08 L493.29,37.92 L493.81,37.80 L494.34,37.71 L494.87,37.66 L495.40,37.64 L496.03,37.66 L496.66,37.71 L497.30,37.80 L497.93,37.92 L498.56,38.08 L499.19,38.27 L499.83,38.50 L500.46,38.76 L501.09,39.06 L501.72,39.39 L502.36,39.75 L502.99,40.15 L503.62,40.58 L504.25,41.04 L504.88,41.53 L505.52,42.06 L506.15,42.61 L506.78,43.20 L507.41,43.82 L508.05,44.46 L508.68,45.13 L509.43,45.84 L510.26,46.57 L511.09,47.32 L511.93,48.11 L512.77,48.91 L513.61,49.75 L514.45,50.60 L515.28,51.48 L516.12,52.38 L516.95,53.31 L517.78,54.25 L518.60,55.21 L519.42,56.19 L520.24,57.20 L521.05,58.21 L521.85,59.25 L522.65,60.30 L523.44,61.36 L524.22,62.44 L525.00,63.53 L525.77,64.63 L526.53,65.75 L527.29,66.87 L528.04,68.01 L528.78,69.15 L529.52,70.30 L530.25,71.46 L530.97,72.62 L531.69,73.79 L532.40,74.96 L533.10,76.14 L533.79,77.32 L534.47,78.50 L535.14,79.68 L535.80,80.86 L536.45,82.04 L537.09,83.22 L537.72,84.40 L538.34,85.57 L538.95,86.75 L539.55,87.91 L540.16,89.08 L540.77,90.23 L541.38,91.38 L542.00,92.53 L542.64,93.67 L543.29,94.80 L543.96,95.92 L544.64,97.03 L545.34,98.13 L546.05,99.22 L546.78,100.30 L547.53,101.37 L548.30,102.43 L549.09,103.48 L549.90,104.52 L550.72,105.54 L551.57,106.55 L552.44,107.55 L553.33,108.53 L554.24,109.50 L555.16,110.45 L556.09,111.40 L557.02,112.32 L557.96,113.23 L558.90,114.13 L559.84,115.01 L560.76,115.88 L561.68,116.73 L562.57,117.57 L563.45,118.39 L564.31,119.19 L565.16,119.98 L565.99,120.75 L566.80,121.51 L567.60,122.25 L568.39,122.98 L569.16,123.69 L569.92,124.38 L570.68,125.06 L571.42,125.73 L572.15,126.38 L572.88,127.01 L573.60,127.63 L574.32,128.23 L575.03,128.82 L575.74,129.39 L576.45,129.95 L577.17,130.49 L577.88,131.02 L578.60,131.53 L579.31,132.04 L580.02,132.52 L580.74,133.00 L581.45,133.46 L582.16,133.90 L582.86,134.33 L583.56,134.76 L584.26,135.16 L584.95,135.56 L585.64,135.94 L586.31,136.31 L586.99,136.67 L587.65,137.02 L588.30,137.36 L588.95,137.68 L589.58,138.00 L590.21,138.30 L590.82,138.60 L591.43,138.88 L592.03,139.16 L592.62,139.42 L593.20,139.68 L593.77,139.92 L594.33,140.16 L594.89,140.39 L595.44,140.61 L595.98,140.82 L596.52,141.02 L597.05,141.22 L597.57,141.41 L598.09,141.59 L598.60,141.77 L599.10,141.93 L599.61,142.09 L600.10,142.25 L600.59,142.40 L601.08,142.54 L601.57,142.68 L602.05,142.81 L602.53,142.93 L603.01,143.05 L603.49,143.17 L603.96,143.28 L604.44,143.38 L604.91,143.48 L605.39,143.58 L605.86,143.67 L606.34,143.76 L606.82,143.84 L607.30,143.92 L607.78,144.00 L608.27,144.07 L608.76,144.14 L609.26,144.21 L609.76,144.27 L610.26,144.33 L610.74,144.39 L611.23,144.44 L611.72,144.50 L612.20,144.54 L612.69,144.59 L613.18,144.64 L613.66,144.68 L614.15,144.72 L614.63,144.76 L615.12,144.79 L615.61,144.83 L616.09,144.86 L616.58,144.89 L617.07,144.92 L617.55,144.95 L618.04,144.97 L618.52,145.00 L619.01,145.02 L619.50,145.05 L619.98,145.07 L620.47,145.09 L620.96,145.11 L621.44,145.12 L621.93,145.14 L622.41,145.16 L622.90,145.17 L623.39,145.18 L623.87,145.20 L624.36,145.21 L624.85,145.22 L625.33,145.23 L625.82,145.24 L626.31,145.25 L626.79,145.26 L627.28,145.27 L627.76,145.28 L628.25,145.29 L628.74,145.30 L629.22,145.30 L629.71,145.31 L630.20,145.31 L630.68,145.32 L631.17,145.33 L631.65,145.33 L632.14,145.34 L632.63,145.34 L633.11,145.34 L633.60,145.35 L634.09,145.35 L634.57,145.35 L635.06,145.36 L674.00,145.40" fill="none" stroke="#3a86e6" stroke-width="1.05" stroke-linejoin="round" />
<path d="M381.00,145.40 L470.85,145.36 L470.85,145.35 L470.85,145.35 L470.86,145.35 L470.87,145.34 L470.88,145.34 L470.90,145.34 L470.92,145.33 L470.94,145.33 L470.97,145.32 L471.00,145.31 L471.03,145.31 L471.07,145.30 L471.10,145.30 L471.15,145.29 L471.19,145.28 L471.24,145.27 L471.29,145.26 L471.34,145.25 L471.40,145.24 L471.46,145.23 L471.52,145.22 L471.59,145.21 L471.65,145.20 L471.73,145.18 L471.80,145.17 L471.88,145.16 L471.96,145.14 L472.04,145.12 L472.12,145.11 L472.21,145.09 L472.30,145.07 L472.39,145.05 L472.49,145.02 L472.59,145.00 L472.69,144.97 L472.79,144.95 L472.90,144.92 L473.01,144.89 L473.12,144.86 L473.23,144.83 L473.35,144.79 L473.47,144.76 L473.59,144.72 L473.72,144.68 L473.84,144.64 L473.97,144.59 L474.10,144.54 L474.23,144.50 L474.37,144.44 L474.51,144.39 L474.65,144.33 L474.79,144.27 L474.94,144.21 L475.08,144.14 L475.23,144.07 L475.38,144.00 L475.54,143.92 L475.69,143.84 L475.85,143.76 L476.01,143.67 L476.17,143.58 L476.34,143.48 L476.50,143.38 L476.67,143.28 L476.84,143.17 L477.02,143.05 L477.19,142.93 L477.37,142.81 L477.54,142.68 L477.72,142.54 L477.91,142.40 L478.09,142.25 L478.28,142.09 L478.46,141.93 L478.65,141.77 L478.84,141.59 L479.04,141.41 L479.23,141.22 L479.43,141.02 L479.63,140.82 L479.83,140.61 L480.03,140.39 L480.23,140.16 L480.43,139.92 L480.64,139.68 L480.85,139.42 L481.06,139.16 L481.27,138.88 L481.48,138.60 L481.69,138.30 L481.91,138.00 L482.13,137.68 L482.35,137.36 L482.56,137.02 L482.79,136.67 L483.01,136.31 L483.23,135.94 L483.46,135.56 L483.68,135.16 L483.91,134.76 L484.14,134.33 L484.37,133.90 L484.60,133.46 L484.83,133.00 L485.07,132.52 L485.30,132.04 L485.54,131.53 L485.78,131.02 L486.02,130.49 L486.26,129.95 L486.50,129.39 L486.74,128.82 L486.98,128.23 L487.22,127.63 L487.47,127.01 L487.71,126.38 L487.96,125.73 L488.21,125.06 L488.46,124.38 L488.71,123.69 L488.96,122.98 L489.21,122.25 L489.46,121.51 L489.71,120.75 L489.96,119.98 L490.22,119.19 L490.47,118.39 L490.73,117.57 L490.98,116.73 L491.24,115.88 L491.50,115.01 L491.76,114.13 L492.02,113.23 L492.27,112.32 L492.53,111.40 L492.80,110.45 L493.06,109.50 L493.32,108.53 L493.58,107.55 L493.84,106.55 L494.10,105.54 L494.37,104.52 L494.63,103.48 L494.90,102.43 L495.16,101.37 L495.43,100.30 L495.69,99.22 L495.96,98.13 L496.22,97.03 L496.49,95.92 L496.75,94.80 L497.02,93.67 L497.29,92.53 L497.55,91.38 L497.82,90.23 L498.09,89.08 L498.36,87.91 L498.62,86.75 L498.89,85.57 L499.16,84.40 L499.43,83.22 L499.69,82.04 L499.96,80.86 L500.23,79.68 L500.50,78.50 L500.76,77.32 L501.03,76.14 L501.30,74.96 L501.56,73.79 L501.83,72.62 L502.10,71.46 L502.36,70.30 L502.63,69.15 L502.90,68.01 L503.16,66.87 L503.43,65.75 L503.69,64.63 L503.96,63.53 L504.22,62.44 L504.49,61.36 L504.75,60.30 L505.02,59.25 L505.28,58.21 L505.54,57.20 L505.80,56.19 L506.07,55.21 L506.33,54.25 L506.59,53.31 L506.85,52.38 L507.11,51.48 L507.37,50.60 L507.62,49.75 L507.88,48.91 L508.14,48.11 L508.40,47.32 L508.65,46.57 L508.91,45.84 L509.16,45.13 L509.41,44.46 L509.67,43.82 L509.92,43.20 L510.17,42.61 L510.42,42.06 L510.67,41.53 L510.92,41.04 L511.17,40.58 L511.41,40.15 L511.66,39.75 L511.91,39.39 L512.15,39.06 L512.39,38.76 L512.64,38.50 L512.88,38.27 L513.12,38.08 L513.36,37.92 L513.59,37.80 L513.83,37.71 L514.07,37.66 L514.30,37.64 L514.74,37.66 L515.19,37.71 L515.63,37.80 L516.07,37.92 L516.51,38.08 L516.96,38.27 L517.40,38.50 L517.84,38.76 L518.29,39.06 L518.73,39.39 L519.17,39.75 L519.62,40.15 L520.06,40.58 L520.50,41.04 L520.94,41.53 L521.39,42.06 L521.83,42.61 L522.27,43.20 L522.85,43.82 L523.55,44.46 L524.27,45.13 L524.99,45.84 L525.72,46.57 L526.46,47.32 L527.19,48.11 L527.93,48.91 L528.67,49.75 L529.40,50.60 L530.14,51.48 L530.87,52.38 L531.59,53.31 L532.31,54.25 L533.02,55.21 L533.72,56.19 L534.41,57.20 L535.10,58.21 L535.77,59.25 L536.44,60.30 L537.09,61.36 L537.74,62.44 L538.37,63.53 L538.99,64.63 L539.60,65.75 L540.20,66.87 L540.79,68.01 L541.36,69.15 L541.93,70.30 L542.48,71.46 L543.03,72.62 L543.57,73.79 L544.09,74.96 L544.61,76.14 L545.13,77.32 L545.63,78.50 L546.14,79.68 L546.63,80.86 L547.12,82.04 L547.61,83.22 L548.09,84.40 L548.56,85.57 L549.03,86.75 L549.50,87.91 L549.96,89.08 L550.41,90.23 L550.86,91.38 L551.31,92.53 L551.75,93.67 L552.18,94.80 L552.61,95.92 L553.04,97.03 L553.47,98.13 L553.90,99.22 L554.34,100.30 L554.79,101.37 L555.25,102.43 L555.73,103.48 L556.23,104.52 L556.74,105.54 L557.29,106.55 L557.87,107.55 L558.48,108.53 L559.13,109.50 L559.83,110.45 L560.56,111.40 L561.34,112.32 L562.14,113.23 L562.98,114.13 L563.84,115.01 L564.72,115.88 L565.62,116.73 L566.52,117.57 L567.44,118.39 L568.35,119.19 L569.25,119.98 L570.15,120.75 L571.03,121.51 L571.90,122.25 L572.75,122.98 L573.59,123.69 L574.42,124.38 L575.23,125.06 L576.02,125.73 L576.80,126.38 L577.56,127.01 L578.29,127.63 L579.01,128.23 L579.71,128.82 L580.39,129.39 L581.05,129.95 L581.69,130.49 L582.31,131.02 L582.91,131.53 L583.50,132.04 L584.07,132.52 L584.63,133.00 L585.18,133.46 L585.71,133.90 L586.23,134.33 L586.75,134.76 L587.25,135.16 L587.75,135.56 L588.25,135.94 L588.74,136.31 L589.23,136.67 L589.71,137.02 L590.19,137.36 L590.67,137.68 L591.15,138.00 L591.63,138.30 L592.10,138.60 L592.57,138.88 L593.04,139.16 L593.50,139.42 L593.97,139.68 L594.43,139.92 L594.89,140.16 L595.35,140.39 L595.81,140.61 L596.27,140.82 L596.73,141.02 L597.19,141.22 L597.65,141.41 L598.12,141.59 L598.58,141.77 L599.04,141.93 L599.50,142.09 L599.97,142.25 L600.44,142.40 L600.91,142.54 L601.38,142.68 L601.85,142.81 L602.33,142.93 L602.81,143.05 L603.30,143.17 L603.79,143.28 L604.28,143.38 L604.78,143.48 L605.28,143.58 L605.79,143.67 L606.31,143.76 L606.83,143.84 L607.34,143.92 L607.83,144.00 L608.32,144.07 L608.80,144.14 L609.29,144.21 L609.78,144.27 L610.26,144.33 L610.75,144.39 L611.23,144.44 L611.72,144.50 L612.21,144.54 L612.69,144.59 L613.18,144.64 L613.67,144.68 L614.15,144.72 L614.64,144.76 L615.13,144.79 L615.61,144.83 L616.10,144.86 L616.59,144.89 L617.07,144.92 L617.56,144.95 L618.05,144.97 L618.53,145.00 L619.02,145.02 L619.50,145.05 L619.99,145.07 L620.48,145.09 L620.96,145.11 L621.45,145.12 L621.94,145.14 L622.42,145.16 L622.91,145.17 L623.40,145.18 L623.88,145.20 L624.37,145.21 L624.86,145.22 L625.34,145.23 L625.83,145.24 L626.32,145.25 L626.80,145.26 L627.29,145.27 L627.77,145.28 L628.26,145.29 L628.75,145.30 L629.23,145.30 L629.72,145.31 L630.21,145.31 L630.69,145.32 L631.18,145.33 L631.67,145.33 L632.15,145.34 L632.64,145.34 L633.13,145.34 L633.61,145.35 L634.10,145.35 L634.58,145.35 L635.07,145.36 L674.00,145.40" fill="none" stroke="#1f58a8" stroke-width="1.05" stroke-linejoin="round" />
<path d="M381.00,145.40 L488.61,145.36 L488.61,145.35 L488.61,145.35 L488.62,145.35 L488.63,145.34 L488.64,145.34 L488.65,145.34 L488.67,145.33 L488.69,145.33 L488.72,145.32 L488.75,145.31 L488.78,145.31 L488.81,145.30 L488.85,145.30 L488.89,145.29 L488.93,145.28 L488.97,145.27 L489.02,145.26 L489.07,145.25 L489.13,145.24 L489.18,145.23 L489.24,145.22 L489.30,145.21 L489.37,145.20 L489.44,145.18 L489.51,145.17 L489.58,145.16 L489.65,145.14 L489.73,145.12 L489.81,145.11 L489.90,145.09 L489.98,145.07 L490.07,145.05 L490.16,145.02 L490.26,145.00 L490.35,144.97 L490.45,144.95 L490.55,144.92 L490.65,144.89 L490.76,144.86 L490.87,144.83 L490.98,144.79 L491.09,144.76 L491.21,144.72 L491.32,144.68 L491.44,144.64 L491.56,144.59 L491.69,144.54 L491.82,144.50 L491.94,144.44 L492.07,144.39 L492.21,144.33 L492.34,144.27 L492.48,144.21 L492.62,144.14 L492.76,144.07 L492.90,144.00 L493.05,143.92 L493.20,143.84 L493.35,143.76 L493.50,143.67 L493.65,143.58 L493.81,143.48 L493.96,143.38 L494.12,143.28 L494.28,143.17 L494.45,143.05 L494.61,142.93 L494.78,142.81 L494.95,142.68 L495.12,142.54 L495.29,142.40 L495.46,142.25 L495.64,142.09 L495.81,141.93 L495.99,141.77 L496.17,141.59 L496.35,141.41 L496.54,141.22 L496.72,141.02 L496.91,140.82 L497.10,140.61 L497.29,140.39 L497.48,140.16 L497.67,139.92 L497.86,139.68 L498.06,139.42 L498.26,139.16 L498.45,138.88 L498.65,138.60 L498.85,138.30 L499.06,138.00 L499.26,137.68 L499.46,137.36 L499.67,137.02 L499.88,136.67 L500.09,136.31 L500.30,135.94 L500.51,135.56 L500.72,135.16 L500.93,134.76 L501.15,134.33 L501.36,133.90 L501.58,133.46 L501.80,133.00 L502.02,132.52 L502.23,132.04 L502.46,131.53 L502.68,131.02 L502.90,130.49 L503.12,129.95 L503.35,129.39 L503.57,128.82 L503.80,128.23 L504.03,127.63 L504.25,127.01 L504.48,126.38 L504.71,125.73 L504.94,125.06 L505.17,124.38 L505.41,123.69 L505.64,122.98 L505.87,122.25 L506.10,121.51 L506.34,120.75 L506.57,119.98 L506.81,119.19 L507.05,118.39 L507.28,117.57 L507.52,116.73 L507.76,115.88 L508.00,115.01 L508.24,114.13 L508.47,113.23 L508.71,112.32 L508.95,111.40 L509.19,110.45 L509.44,109.50 L509.68,108.53 L509.92,107.55 L510.16,106.55 L510.40,105.54 L510.65,104.52 L510.89,103.48 L511.13,102.43 L511.37,101.37 L511.62,100.30 L511.86,99.22 L512.11,98.13 L512.35,97.03 L512.59,95.92 L512.84,94.80 L513.08,93.67 L513.33,92.53 L513.57,91.38 L513.81,90.23 L514.06,89.08 L514.30,87.91 L514.55,86.75 L514.79,85.57 L515.03,84.40 L515.28,83.22 L515.52,82.04 L515.76,80.86 L516.01,79.68 L516.25,78.50 L516.49,77.32 L516.74,76.14 L516.98,74.96 L517.22,73.79 L517.46,72.62 L517.70,71.46 L517.94,70.30 L518.19,69.15 L518.43,68.01 L518.67,66.87 L518.91,65.75 L519.14,64.63 L519.38,63.53 L519.62,62.44 L519.86,61.36 L520.10,60.30 L520.33,59.25 L520.57,58.21 L520.80,57.20 L521.04,56.19 L521.27,55.21 L521.50,54.25 L521.74,53.31 L521.97,52.38 L522.20,51.48 L522.43,50.60 L522.66,49.75 L522.89,48.91 L523.12,48.11 L523.35,47.32 L523.57,46.57 L523.80,45.84 L524.02,45.13 L524.25,44.46 L524.47,43.82 L524.69,43.20 L524.91,42.61 L525.13,42.06 L525.35,41.53 L525.57,41.04 L525.79,40.58 L526.00,40.15 L526.22,39.75 L526.43,39.39 L526.64,39.06 L526.85,38.76 L527.06,38.50 L527.27,38.27 L527.48,38.08 L527.69,37.92 L527.89,37.80 L528.10,37.71 L528.30,37.66 L528.50,37.64 L528.91,38.09 L529.29,38.56 L529.64,39.05 L529.97,39.56 L530.27,40.09 L530.56,40.63 L530.82,41.19 L531.07,41.76 L531.30,42.34 L531.53,42.93 L531.74,43.53 L531.94,44.13 L532.14,44.74 L532.33,45.35 L532.52,45.97 L532.72,46.58 L532.91,47.20 L533.10,47.81 L533.31,48.42 L533.52,49.02 L533.74,49.62 L533.97,50.21 L534.21,50.79 L534.48,51.36 L534.76,51.92 L535.06,52.47 L535.38,53.00 L535.72,53.51 L536.08,54.02 L536.46,54.51 L536.86,54.99 L537.27,55.46 L537.69,55.92 L538.13,56.37 L538.58,56.81 L539.05,57.24 L539.52,57.67 L540.00,58.09 L540.48,58.51 L540.98,58.92 L541.47,59.33 L541.98,59.74 L542.48,60.14 L542.99,60.55 L543.49,60.95 L544.00,61.36 L544.50,61.76 L545.00,62.17 L545.49,62.58 L545.98,63.00 L546.46,63.42 L546.94,63.84 L547.40,64.28 L547.86,64.71 L548.31,65.16 L548.74,65.61 L549.17,66.06 L549.59,66.52 L550.00,66.99 L550.41,67.46 L550.80,67.94 L551.19,68.43 L551.57,68.91 L551.94,69.41 L552.31,69.91 L552.66,70.41 L553.01,70.92 L553.36,71.43 L553.70,71.95 L554.03,72.47 L554.35,73.00 L554.67,73.53 L554.98,74.06 L555.28,74.60 L555.58,75.14 L555.88,75.69 L556.17,76.24 L556.45,76.79 L556.73,77.35 L557.00,77.91 L557.27,78.47 L557.54,79.04 L557.80,79.61 L558.06,80.18 L558.31,80.76 L558.56,81.33 L558.80,81.91 L559.04,82.50 L559.28,83.08 L559.51,83.67 L559.75,84.26 L559.97,84.85 L560.20,85.44 L560.42,86.03 L560.64,86.63 L560.86,87.23 L561.08,87.83 L561.29,88.43 L561.51,89.03 L561.72,89.63 L561.93,90.23 L562.14,90.84 L562.35,91.44 L562.55,92.05 L562.76,92.65 L562.97,93.26 L563.17,93.87 L563.38,94.47 L563.59,95.08 L563.79,95.69 L564.00,96.29 L564.20,96.90 L564.41,97.51 L564.62,98.11 L564.83,98.72 L565.04,99.32 L565.25,99.92 L565.46,100.53 L565.68,101.13 L565.90,101.73 L566.12,102.32 L566.34,102.92 L566.56,103.52 L566.79,104.11 L567.01,104.70 L567.25,105.29 L567.48,105.88 L567.72,106.47 L567.96,107.05 L568.20,107.63 L568.45,108.21 L568.70,108.79 L568.96,109.36 L569.22,109.93 L569.48,110.50 L569.75,111.07 L570.03,111.63 L570.31,112.18 L570.59,112.74 L570.89,113.28 L571.18,113.83 L571.49,114.36 L571.80,114.89 L572.12,115.42 L572.45,115.93 L572.78,116.44 L573.12,116.94 L573.48,117.43 L573.84,117.92 L574.21,118.39 L574.58,118.86 L574.97,119.31 L575.37,119.76 L575.78,120.19 L576.21,120.62 L576.64,121.03 L577.08,121.43 L577.54,121.82 L578.01,122.19 L578.49,122.55 L578.98,122.90 L579.49,123.23 L580.01,123.55 L580.54,123.86 L581.09,124.15 L581.65,124.42 L582.22,124.69 L582.80,124.95 L583.39,125.20 L583.97,125.45 L584.56,125.71 L585.15,125.97 L585.74,126.24 L586.31,126.51 L586.88,126.81 L587.44,127.12 L587.99,127.44 L588.53,127.77 L589.07,128.12 L589.60,128.48 L590.12,128.85 L590.64,129.22 L591.15,129.61 L591.66,130.00 L592.16,130.39 L592.66,130.79 L593.15,131.20 L593.65,131.60 L594.14,132.01 L594.63,132.42 L595.13,132.82 L595.62,133.23 L596.11,133.63 L596.60,134.03 L597.10,134.43 L597.60,134.82 L598.10,135.20 L598.61,135.57 L599.11,135.94 L599.63,136.30 L600.14,136.65 L600.67,136.99 L601.19,137.32 L601.72,137.65 L602.25,137.97 L602.79,138.28 L603.33,138.58 L603.87,138.87 L604.41,139.16 L604.96,139.44 L605.52,139.71 L606.07,139.98 L606.63,140.24 L607.19,140.49 L607.76,140.73 L608.33,140.97 L608.90,141.20 L609.47,141.43 L610.05,141.64 L610.63,141.86 L611.21,142.06 L611.80,142.26 L612.38,142.45 L612.97,142.64 L613.57,142.82 L614.16,142.99 L614.76,143.16 L615.36,143.32 L615.96,143.48 L616.56,143.63 L617.17,143.77 L617.78,143.91 L618.39,144.05 L619.00,144.18 L619.61,144.30 L620.23,144.42 L620.85,144.53 L621.46,144.64 L622.08,144.75 L622.71,144.85 L623.33,144.94 L623.96,145.03 L624.58,145.12 L625.21,145.20 L625.84,145.27 L626.47,145.35 L627.10,145.40 L627.73,145.40 L628.37,145.40 L629.00,145.40 L629.63,145.40 L630.27,145.40 L630.91,145.40 L631.55,145.40 L632.18,145.40 L632.82,145.40 L633.46,145.40 L634.10,145.40 L634.74,145.40 L635.38,145.40 L636.02,145.40 L636.66,145.40 L637.31,145.40 L637.95,145.40 L638.59,145.40 L639.23,145.40 L639.87,145.40 L640.51,145.40 L641.16,145.40 L641.80,145.40 L642.44,145.40 L643.08,145.40 L643.72,145.40 L644.36,145.40 L645.00,145.40 L645.63,145.40 L646.27,145.40 L646.91,145.40 L647.54,145.40 L648.18,145.40 L648.81,145.40 L649.45,145.40 L650.08,145.40 L650.71,145.40 L651.34,145.40 L651.97,145.40 L652.60,145.40 L653.23,145.40 L653.85,145.40 L654.47,145.40 L655.10,145.40 L655.72,145.40 L656.34,145.40 L656.95,145.40 L657.57,145.40 L658.18,145.40 L658.79,145.40 L659.41,145.40 L660.01,145.40 L674.00,145.40" fill="none" stroke="#c42020" stroke-width="1.05" stroke-linejoin="round" />
<path d="M381.00,145.40 L500.05,145.36 L500.03,145.35 L500.02,145.35 L500.01,145.35 L500.01,145.34 L500.01,145.34 L500.01,145.34 L500.02,145.33 L500.03,145.33 L500.04,145.32 L500.06,145.31 L500.08,145.31 L500.10,145.30 L500.13,145.30 L500.16,145.29 L500.19,145.28 L500.23,145.27 L500.27,145.26 L500.32,145.25 L500.37,145.24 L500.42,145.23 L500.47,145.22 L500.53,145.21 L500.59,145.20 L500.65,145.18 L500.72,145.17 L500.79,145.16 L500.86,145.14 L500.94,145.12 L501.02,145.11 L501.10,145.09 L501.18,145.07 L501.27,145.05 L501.36,145.02 L501.45,145.00 L501.55,144.97 L501.65,144.95 L501.75,144.92 L501.86,144.89 L501.97,144.86 L502.08,144.83 L502.19,144.79 L502.30,144.76 L502.42,144.72 L502.54,144.68 L502.67,144.64 L502.79,144.59 L502.92,144.54 L503.05,144.50 L503.19,144.44 L503.32,144.39 L503.46,144.33 L503.60,144.27 L503.75,144.21 L503.89,144.14 L504.04,144.07 L504.19,144.00 L504.35,143.92 L504.50,143.84 L504.66,143.76 L504.82,143.67 L504.98,143.58 L505.14,143.48 L505.31,143.38 L505.48,143.28 L505.65,143.17 L505.82,143.05 L505.99,142.93 L506.17,142.81 L506.35,142.68 L506.53,142.54 L506.71,142.40 L506.90,142.25 L507.08,142.09 L507.27,141.93 L507.46,141.77 L507.65,141.59 L507.84,141.41 L508.04,141.22 L508.23,141.02 L508.43,140.82 L508.63,140.61 L508.83,140.39 L509.04,140.16 L509.24,139.92 L509.45,139.68 L509.66,139.42 L509.86,139.16 L510.08,138.88 L510.29,138.60 L510.50,138.30 L510.72,138.00 L510.93,137.68 L511.15,137.36 L511.37,137.02 L511.59,136.67 L511.81,136.31 L512.03,135.94 L512.26,135.56 L512.48,135.16 L512.71,134.76 L512.94,134.33 L513.16,133.90 L513.39,133.46 L513.62,133.00 L513.86,132.52 L514.09,132.04 L514.32,131.53 L514.56,131.02 L514.79,130.49 L515.03,129.95 L515.27,129.39 L515.50,128.82 L515.74,128.23 L515.98,127.63 L516.22,127.01 L516.46,126.38 L516.71,125.73 L516.95,125.06 L517.19,124.38 L517.44,123.69 L517.68,122.98 L517.92,122.25 L518.17,121.51 L518.42,120.75 L518.66,119.98 L518.91,119.19 L519.16,118.39 L519.41,117.57 L519.65,116.73 L519.90,115.88 L520.15,115.01 L520.40,114.13 L520.65,113.23 L520.90,112.32 L521.15,111.40 L521.40,110.45 L521.65,109.50 L521.90,108.53 L522.15,107.55 L522.40,106.55 L522.65,105.54 L522.91,104.52 L523.16,103.48 L523.41,102.43 L523.66,101.37 L523.91,100.30 L524.16,99.22 L524.41,98.13 L524.66,97.03 L524.91,95.92 L525.16,94.80 L525.41,93.67 L525.66,92.53 L525.91,91.38 L526.16,90.23 L526.41,89.08 L526.66,87.91 L526.91,86.75 L527.15,85.57 L527.40,84.40 L527.65,83.22 L527.89,82.04 L528.14,80.86 L528.39,79.68 L528.63,78.50 L528.88,77.32 L529.12,76.14 L529.36,74.96 L529.60,73.79 L529.85,72.62 L530.09,71.46 L530.33,70.30 L530.57,69.15 L530.81,68.01 L531.04,66.87 L531.28,65.75 L531.52,64.63 L531.75,63.53 L531.99,62.44 L532.22,61.36 L532.45,60.30 L532.68,59.25 L532.91,58.21 L533.14,57.20 L533.37,56.19 L533.60,55.21 L533.82,54.25 L534.05,53.31 L534.27,52.38 L534.50,51.48 L534.72,50.60 L534.94,49.75 L535.16,48.91 L535.37,48.11 L535.59,47.32 L535.80,46.57 L536.02,45.84 L536.23,45.13 L536.44,44.46 L536.65,43.82 L536.85,43.20 L537.06,42.61 L537.26,42.06 L537.47,41.53 L537.67,41.04 L537.87,40.58 L538.07,40.15 L538.26,39.75 L538.46,39.39 L538.65,39.06 L538.84,38.76 L539.03,38.50 L539.22,38.27 L539.40,38.08 L539.59,37.92 L539.77,37.80 L539.95,37.71 L540.12,37.66 L540.30,37.64 L540.73,38.06 L541.13,38.49 L541.52,38.94 L541.88,39.41 L542.21,39.89 L542.53,40.38 L542.84,40.89 L543.12,41.40 L543.39,41.93 L543.65,42.47 L543.89,43.01 L544.12,43.56 L544.34,44.12 L544.55,44.69 L544.75,45.26 L544.95,45.83 L545.14,46.41 L545.32,46.99 L545.50,47.58 L545.69,48.16 L545.87,48.74 L546.05,49.33 L546.23,49.91 L546.42,50.48 L546.61,51.06 L546.80,51.63 L547.00,52.20 L547.21,52.76 L547.42,53.32 L547.63,53.87 L547.85,54.43 L548.08,54.97 L548.31,55.52 L548.55,56.06 L548.80,56.60 L549.05,57.13 L549.30,57.66 L549.56,58.19 L549.83,58.71 L550.11,59.23 L550.39,59.74 L550.67,60.26 L550.97,60.77 L551.27,61.27 L551.57,61.78 L551.89,62.28 L552.21,62.77 L552.54,63.26 L552.87,63.75 L553.21,64.24 L553.56,64.73 L553.91,65.21 L554.27,65.69 L554.63,66.16 L555.00,66.64 L555.38,67.11 L555.75,67.58 L556.13,68.05 L556.52,68.52 L556.91,68.98 L557.29,69.45 L557.69,69.91 L558.08,70.38 L558.47,70.84 L558.87,71.31 L559.26,71.77 L559.65,72.23 L560.05,72.70 L560.44,73.16 L560.83,73.63 L561.22,74.10 L561.60,74.57 L561.99,75.03 L562.37,75.51 L562.75,75.98 L563.12,76.45 L563.49,76.93 L563.85,77.41 L564.21,77.89 L564.56,78.38 L564.91,78.86 L565.25,79.35 L565.58,79.85 L565.91,80.34 L566.22,80.85 L566.53,81.35 L566.83,81.86 L567.12,82.37 L567.41,82.89 L567.68,83.41 L567.95,83.94 L568.21,84.47 L568.46,85.00 L568.70,85.54 L568.93,86.08 L569.16,86.62 L569.38,87.17 L569.60,87.73 L569.81,88.28 L570.02,88.84 L570.22,89.40 L570.41,89.97 L570.61,90.53 L570.79,91.11 L570.98,91.68 L571.16,92.26 L571.33,92.84 L571.51,93.42 L571.68,94.00 L571.85,94.59 L572.02,95.18 L572.19,95.77 L572.35,96.36 L572.52,96.96 L572.68,97.55 L572.84,98.15 L573.01,98.75 L573.17,99.35 L573.33,99.95 L573.50,100.55 L573.66,101.15 L573.82,101.75 L573.99,102.35 L574.16,102.95 L574.33,103.55 L574.50,104.15 L574.67,104.75 L574.84,105.34 L575.02,105.94 L575.20,106.53 L575.38,107.12 L575.57,107.71 L575.75,108.30 L575.95,108.88 L576.14,109.46 L576.34,110.04 L576.55,110.61 L576.75,111.18 L576.97,111.75 L577.18,112.31 L577.41,112.87 L577.64,113.42 L577.87,113.97 L578.11,114.52 L578.35,115.06 L578.61,115.59 L578.86,116.12 L579.13,116.65 L579.40,117.16 L579.68,117.67 L579.96,118.18 L580.26,118.68 L580.56,119.17 L580.87,119.65 L581.18,120.13 L581.51,120.60 L581.84,121.06 L582.19,121.52 L582.54,121.96 L582.90,122.40 L583.27,122.83 L583.65,123.25 L584.04,123.66 L584.45,124.06 L584.86,124.45 L585.28,124.84 L585.71,125.21 L586.16,125.57 L586.61,125.93 L587.08,126.27 L587.56,126.60 L588.05,126.92 L588.55,127.23 L589.07,127.53 L589.59,127.82 L590.12,128.10 L590.66,128.38 L591.21,128.65 L591.76,128.92 L592.31,129.19 L592.87,129.45 L593.43,129.71 L593.98,129.98 L594.54,130.25 L595.09,130.52 L595.64,130.79 L596.19,131.08 L596.73,131.36 L597.26,131.65 L597.80,131.95 L598.33,132.24 L598.86,132.55 L599.38,132.85 L599.90,133.17 L600.42,133.48 L600.94,133.80 L601.45,134.12 L601.96,134.45 L602.47,134.78 L602.98,135.11 L603.48,135.44 L603.98,135.78 L604.48,136.12 L604.98,136.47 L605.48,136.81 L605.98,137.15 L606.48,137.49 L606.97,137.83 L607.47,138.18 L607.97,138.51 L608.46,138.85 L608.96,139.18 L609.46,139.51 L609.96,139.83 L610.47,140.15 L610.97,140.47 L611.48,140.78 L611.99,141.08 L612.50,141.37 L613.01,141.66 L613.53,141.94 L614.05,142.21 L614.58,142.47 L615.11,142.72 L615.64,142.96 L616.18,143.18 L616.72,143.40 L617.27,143.60 L617.82,143.80 L618.38,143.97 L618.95,144.14 L619.52,144.29 L620.09,144.42 L620.68,144.55 L621.26,144.66 L621.86,144.75 L622.45,144.84 L623.05,144.92 L623.66,144.98 L624.27,145.03 L624.89,145.08 L625.50,145.11 L626.13,145.14 L626.75,145.15 L627.38,145.16 L628.01,145.16 L628.64,145.16 L629.28,145.16 L629.92,145.16 L630.56,145.16 L631.20,145.16 L631.85,145.16 L632.49,145.16 L633.14,145.16 L633.79,145.16 L634.44,145.16 L635.08,145.16 L635.73,145.16 L636.38,145.16 L637.03,145.16 L637.68,145.16 L638.33,145.16 L638.98,145.16 L639.63,145.16 L640.27,145.16 L640.92,145.16 L641.56,145.16 L642.20,145.16 L642.84,145.16 L643.47,145.16 L644.11,145.16 L644.74,145.16 L645.37,145.16 L645.99,145.16 L646.62,145.16 L647.24,145.16 L647.85,145.16 L648.46,145.16 L649.07,145.16 L649.67,145.16 L650.27,145.16 L650.86,145.16 L651.45,145.16 L652.03,145.16 L652.61,145.16 L653.18,145.16 L653.75,145.16 L654.31,145.16 L654.86,145.16 L655.41,145.16 L655.95,145.16 L656.48,145.16 L657.01,145.16 L657.53,145.16 L658.04,145.16 L658.54,145.16 L659.03,145.16 L659.52,145.19 L660.00,145.40 L674.00,145.40" fill="none" stroke="#f26a6a" stroke-width="1.05" stroke-linejoin="round" />
<line x1="273.5" y1="206.2" x2="273.5" y2="324.8" stroke="#d4d4d4" stroke-width="1" stroke-dasharray="6 5.7" stroke-dashoffset="6.9"/>
<path d="M381.00,303.92 L382.47,303.22 L383.94,302.51 L385.42,301.79 L386.89,301.05 L388.36,300.29 L389.83,299.51 L391.31,298.72 L392.78,297.92 L394.25,297.10 L395.72,296.26 L397.20,295.41 L398.67,294.54 L400.14,293.66 L401.61,292.76 L403.09,291.85 L404.56,290.92 L406.03,289.98 L407.50,289.02 L408.97,288.05 L410.45,287.06 L411.92,286.06 L413.39,285.05 L414.86,284.03 L416.34,282.99 L417.81,281.94 L419.28,280.88 L420.75,279.80 L422.23,278.72 L423.70,277.62 L425.17,276.52 L426.64,275.40 L428.12,274.28 L429.59,273.15 L431.06,272.01 L432.53,270.86 L434.01,269.71 L435.48,268.55 L436.95,267.38 L438.42,266.21 L439.89,265.03 L441.37,263.86 L442.84,262.67 L444.31,261.49 L445.78,260.31 L447.26,259.12 L448.73,257.94 L450.20,256.76 L451.67,255.57 L453.15,254.40 L454.62,253.22 L456.09,252.05 L457.56,250.88 L459.04,249.73 L460.51,248.57 L461.98,247.43 L463.45,246.29 L464.92,245.17 L466.40,244.05 L467.87,242.95 L469.34,241.86 L470.81,240.78 L472.29,239.71 L473.76,238.66 L475.23,237.63 L476.70,236.61 L478.18,235.61 L479.65,234.63 L481.12,233.67 L482.59,232.73 L484.07,231.81 L485.54,230.91 L487.01,230.03 L488.48,229.18 L489.95,228.35 L491.43,227.55 L492.90,226.77 L494.37,226.02 L495.84,225.29 L497.32,224.60 L498.79,223.93 L500.26,223.29 L501.73,222.68 L503.21,222.10 L504.68,221.55 L506.15,221.03 L507.62,220.55 L509.10,220.10 L510.57,219.68 L512.04,219.29 L513.51,218.94 L514.98,218.62 L516.46,218.33 L517.93,218.08 L519.40,217.86 L520.87,217.68 L522.35,217.53 L523.82,217.42 L525.29,217.35 L526.76,217.31 L528.24,217.30 L529.71,217.33 L531.18,217.40 L532.65,217.50 L534.13,217.64 L535.60,217.81 L537.07,218.02 L538.54,218.26 L540.02,218.53 L541.49,218.84 L542.96,219.19 L544.43,219.57 L545.90,219.98 L547.38,220.42 L548.85,220.90 L550.32,221.41 L551.79,221.95 L553.27,222.52 L554.74,223.12 L556.21,223.75 L557.68,224.41 L559.16,225.10 L560.63,225.82 L562.10,226.56 L563.57,227.33 L565.05,228.13 L566.52,228.95 L567.99,229.80 L569.46,230.67 L570.93,231.56 L572.41,232.48 L573.88,233.41 L575.35,234.37 L576.82,235.34 L578.30,236.34 L579.77,237.35 L581.24,238.38 L582.71,239.43 L584.19,240.49 L585.66,241.56 L587.13,242.65 L588.60,243.75 L590.08,244.86 L591.55,245.99 L593.02,247.12 L594.49,248.26 L595.96,249.41 L597.44,250.57 L598.91,251.73 L600.38,252.90 L601.85,254.08 L603.33,255.25 L604.80,256.43 L606.27,257.62 L607.74,258.80 L609.22,259.99 L610.69,261.17 L612.16,262.35 L613.63,263.53 L615.11,264.71 L616.58,265.89 L618.05,267.06 L619.52,268.23 L620.99,269.39 L622.47,270.55 L623.94,271.70 L625.41,272.84 L626.88,273.97 L628.36,275.10 L629.83,276.22 L631.30,277.32 L632.77,278.42 L634.25,279.51 L635.72,280.59 L637.19,281.65 L638.66,282.70 L640.14,283.75 L641.61,284.77 L643.08,285.79 L644.55,286.79 L646.03,287.78 L647.50,288.76 L648.97,289.72 L650.44,290.66 L651.91,291.60 L653.39,292.51 L654.86,293.42 L656.33,294.30 L657.80,295.18 L659.28,296.03 L660.75,296.87 L662.22,297.70 L663.69,298.51 L665.17,299.30 L666.64,300.08 L668.11,300.84 L669.58,301.59 L671.06,302.32 L672.53,303.03 L674.00,303.73" fill="none" stroke="#dcdcdc" stroke-width="1.6" stroke-linejoin="round" />
<line x1="527.5" y1="206.2" x2="527.5" y2="324.8" stroke="#d4d4d4" stroke-width="1" stroke-dasharray="6 5.7" stroke-dashoffset="4.2"/>
<path d="M40.00,324.80 L40.00,324.43 L40.62,324.41 L41.25,324.38 L41.87,324.36 L42.49,324.33 L43.11,324.30 L43.74,324.27 L44.36,324.23 L44.97,324.20 L45.18,324.16 L45.45,324.12 L45.77,324.08 L46.14,324.04 L46.56,323.99 L47.03,323.94 L47.54,323.89 L48.09,323.84 L48.67,323.78 L49.30,323.72 L49.95,323.66 L50.64,323.59 L51.35,323.52 L52.09,323.45 L52.85,323.37 L53.63,323.29 L54.43,323.21 L55.24,323.12 L56.07,323.03 L56.91,322.93 L57.75,322.83 L58.61,322.72 L59.47,322.61 L60.33,322.49 L61.20,322.37 L62.06,322.24 L62.93,322.11 L63.80,321.97 L64.67,321.82 L65.54,321.67 L66.42,321.51 L67.30,321.34 L68.18,321.17 L69.06,320.99 L69.94,320.80 L70.83,320.60 L71.71,320.40 L72.60,320.19 L73.50,319.97 L74.39,319.74 L75.29,319.50 L76.19,319.25 L77.09,318.99 L77.99,318.72 L78.90,318.44 L79.81,318.16 L80.72,317.86 L81.64,317.55 L82.55,317.23 L83.47,316.89 L84.39,316.55 L85.31,316.19 L86.24,315.83 L87.17,315.45 L88.10,315.05 L89.03,314.64 L89.96,314.23 L90.90,313.79 L91.84,313.34 L92.79,312.88 L93.74,312.41 L94.69,311.92 L95.64,311.41 L96.60,310.90 L97.56,310.36 L98.53,309.81 L99.49,309.25 L100.45,308.67 L101.41,308.07 L102.37,307.46 L103.32,306.83 L104.27,306.18 L105.21,305.52 L106.14,304.85 L107.07,304.15 L107.99,303.44 L108.89,302.71 L109.79,301.97 L110.67,301.21 L111.54,300.43 L112.40,299.64 L113.25,298.82 L114.08,298.00 L114.90,297.15 L115.71,296.29 L116.49,295.41 L117.26,294.52 L118.02,293.61 L118.76,292.68 L119.48,291.74 L120.18,290.78 L120.87,289.80 L121.53,288.81 L122.18,287.81 L122.81,286.79 L123.42,285.76 L124.01,284.71 L124.58,283.65 L125.13,282.57 L125.66,281.49 L126.17,280.39 L126.66,279.27 L127.13,278.15 L127.58,277.02 L128.01,275.87 L128.42,274.72 L128.82,273.55 L129.20,272.38 L129.56,271.20 L129.91,270.01 L130.24,268.82 L130.56,267.62 L130.87,266.41 L131.16,265.20 L131.44,263.99 L131.71,262.77 L131.97,261.55 L132.22,260.33 L132.46,259.11 L132.69,257.89 L132.90,256.67 L133.11,255.45 L133.32,254.24 L133.51,253.03 L133.70,251.82 L133.88,250.62 L134.06,249.43 L134.22,248.24 L134.39,247.07 L134.54,245.90 L134.70,244.74 L134.84,243.60 L134.99,242.47 L135.13,241.35 L135.26,240.24 L135.40,239.15 L135.53,238.08 L135.65,237.02 L135.78,235.99 L135.90,234.97 L136.02,233.97 L136.13,232.99 L136.25,232.04 L136.36,231.11 L136.47,230.20 L136.58,229.32 L136.69,228.46 L136.79,227.63 L136.90,226.82 L137.00,226.05 L137.09,225.30 L137.17,224.58 L137.25,223.89 L137.33,223.24 L137.41,222.61 L137.50,222.02 L137.58,221.46 L137.66,220.93 L137.74,220.44 L137.82,219.98 L137.90,219.56 L137.98,219.17 L138.07,218.82 L138.15,218.50 L138.23,218.22 L138.31,217.98 L138.39,217.77 L138.47,217.60 L138.56,217.47 L138.64,217.38 L138.72,217.32 L138.80,217.30 L138.88,217.32 L138.95,217.38 L139.03,217.47 L139.10,217.60 L139.18,217.77 L139.25,217.98 L139.33,218.22 L139.40,218.50 L139.48,218.82 L139.55,219.17 L139.63,219.56 L139.70,219.98 L139.78,220.44 L139.85,220.93 L139.93,221.46 L140.00,222.02 L140.08,222.61 L140.15,223.24 L140.23,223.89 L140.30,224.58 L140.38,225.30 L140.46,226.05 L140.56,226.82 L140.66,227.63 L140.76,228.46 L140.86,229.32 L140.97,230.20 L141.07,231.11 L141.17,232.04 L141.28,232.99 L141.38,233.97 L141.48,234.97 L141.59,235.99 L141.69,237.02 L141.80,238.08 L141.90,239.15 L142.00,240.24 L142.11,241.35 L142.21,242.47 L142.31,243.60 L142.42,244.74 L142.52,245.90 L142.62,247.07 L142.72,248.24 L142.82,249.43 L142.92,250.62 L143.02,251.82 L143.11,253.03 L143.21,254.24 L143.31,255.45 L143.40,256.67 L143.50,257.89 L143.59,259.11 L143.68,260.33 L143.77,261.55 L143.86,262.77 L143.95,263.99 L144.04,265.20 L144.13,266.41 L144.22,267.62 L144.31,268.82 L144.39,270.01 L144.48,271.20 L144.56,272.38 L144.65,273.55 L144.73,274.72 L144.81,275.87 L144.89,277.02 L144.97,278.15 L145.05,279.27 L145.13,280.39 L145.21,281.49 L145.29,282.57 L145.37,283.65 L145.45,284.71 L145.52,285.76 L145.60,286.79 L145.67,287.81 L145.75,288.81 L145.82,289.80 L145.90,290.78 L145.97,291.74 L146.05,292.68 L146.12,293.61 L146.19,294.52 L146.27,295.41 L146.34,296.29 L146.41,297.15 L146.49,298.00 L146.56,298.82 L146.63,299.64 L146.71,300.43 L146.78,301.21 L146.85,301.97 L146.93,302.71 L147.00,303.44 L147.08,304.15 L147.15,304.85 L147.23,305.52 L147.31,306.18 L147.38,306.83 L147.46,307.46 L147.54,308.07 L147.62,308.67 L147.70,309.25 L147.79,309.81 L147.87,310.36 L147.95,310.90 L148.04,311.41 L148.12,311.92 L148.21,312.41 L148.29,312.88 L148.38,313.34 L148.47,313.79 L148.56,314.23 L148.64,314.64 L148.73,315.05 L148.82,315.45 L148.91,315.83 L149.00,316.19 L149.09,316.55 L149.17,316.89 L149.26,317.23 L149.35,317.55 L149.44,317.86 L149.52,318.16 L149.61,318.44 L149.70,318.72 L149.78,318.99 L149.87,319.25 L149.95,319.50 L150.03,319.74 L150.11,319.97 L150.19,320.19 L150.27,320.40 L150.35,320.60 L150.42,320.80 L150.50,320.99 L150.57,321.17 L150.64,321.34 L150.71,321.51 L150.77,321.67 L150.84,321.82 L150.90,321.97 L150.95,322.11 L151.01,322.24 L151.06,322.37 L151.11,322.49 L151.16,322.61 L151.20,322.72 L151.24,322.83 L151.28,322.93 L151.31,323.03 L151.34,323.12 L151.36,323.21 L151.38,323.29 L151.40,323.37 L151.41,323.45 L151.43,323.52 L151.49,323.59 L151.56,323.66 L151.62,323.72 L151.68,323.78 L151.74,323.84 L151.80,323.89 L151.87,323.94 L151.93,323.99 L151.99,324.04 L152.05,324.08 L152.11,324.12 L152.18,324.16 L152.24,324.20 L152.30,324.23 L152.36,324.27 L152.42,324.30 L152.49,324.33 L152.55,324.36 L152.61,324.38 L152.67,324.41 L152.73,324.43 L152.80,324.46 L152.86,324.48 L152.92,324.50 L152.98,324.52 L153.05,324.53 L153.11,324.55 L153.17,324.57 L153.23,324.58 L153.29,324.60 L153.36,324.61 L153.42,324.62 L153.48,324.63 L153.54,324.64 L153.60,324.65 L153.67,324.66 L153.73,324.67 L153.79,324.68 L153.85,324.69 L153.91,324.70 L153.98,324.70 L154.04,324.71 L154.10,324.72 L154.16,324.72 L154.22,324.73 L154.29,324.73 L154.35,324.74 L154.41,324.74 L154.47,324.75 L154.53,324.75 L154.60,324.75 L154.66,324.76 L154.72,324.76 L154.78,324.76 L154.84,324.77 L154.91,324.77 L154.97,324.77 L155.03,324.77 L155.09,324.77 L155.16,324.78 L333.00,324.80" fill="none" stroke="#36aef8" stroke-width="1.05" stroke-linejoin="round" />
<path d="M40.00,324.80 L71.34,324.78 L71.93,324.77 L72.51,324.77 L73.09,324.77 L73.68,324.77 L74.26,324.77 L74.84,324.76 L75.42,324.76 L76.01,324.76 L76.59,324.75 L77.17,324.75 L77.76,324.75 L78.34,324.74 L78.92,324.74 L79.51,324.73 L80.09,324.73 L80.67,324.72 L81.26,324.72 L81.84,324.71 L82.42,324.70 L83.01,324.70 L83.59,324.69 L84.17,324.68 L84.76,324.67 L85.34,324.66 L85.92,324.65 L86.51,324.64 L87.09,324.63 L87.67,324.62 L88.26,324.61 L88.84,324.60 L89.42,324.58 L90.01,324.57 L90.59,324.55 L91.17,324.53 L91.76,324.52 L92.34,324.50 L92.92,324.48 L93.50,324.46 L94.09,324.43 L94.67,324.41 L95.25,324.38 L95.84,324.36 L96.42,324.33 L97.00,324.30 L97.54,324.27 L98.07,324.23 L98.61,324.20 L99.14,324.16 L99.68,324.12 L100.23,324.08 L100.77,324.04 L101.32,323.99 L101.88,323.94 L102.44,323.89 L103.01,323.84 L103.59,323.78 L104.17,323.72 L104.76,323.66 L105.36,323.59 L105.96,323.52 L106.58,323.45 L107.21,323.37 L107.84,323.29 L108.49,323.21 L109.15,323.12 L109.81,323.03 L110.50,322.93 L111.19,322.83 L111.89,322.72 L112.61,322.61 L113.34,322.49 L114.08,322.37 L114.84,322.24 L115.61,322.11 L116.39,321.97 L117.19,321.82 L118.00,321.67 L118.83,321.51 L119.67,321.34 L120.53,321.17 L121.40,320.99 L122.29,320.80 L123.19,320.60 L124.11,320.40 L125.04,320.19 L125.99,319.97 L126.96,319.74 L127.94,319.50 L128.93,319.25 L129.94,318.99 L130.97,318.72 L132.01,318.44 L133.07,318.16 L134.14,317.86 L135.23,317.55 L136.35,317.23 L137.50,316.89 L138.69,316.55 L139.93,316.19 L141.21,315.83 L142.54,315.45 L143.91,315.05 L145.28,314.64 L146.63,314.23 L147.92,313.79 L149.13,313.34 L150.26,312.88 L151.31,312.41 L152.30,311.92 L153.23,311.41 L154.13,310.90 L154.99,310.36 L155.83,309.81 L156.66,309.25 L157.48,308.67 L158.31,308.07 L159.15,307.46 L159.99,306.83 L160.85,306.18 L161.70,305.52 L162.57,304.85 L163.43,304.15 L164.29,303.44 L165.15,302.71 L166.01,301.97 L166.86,301.21 L167.71,300.43 L168.55,299.64 L169.38,298.82 L170.19,298.00 L171.00,297.15 L171.80,296.29 L172.59,295.41 L173.36,294.52 L174.12,293.61 L174.86,292.68 L175.59,291.74 L176.30,290.78 L177.00,289.80 L177.68,288.81 L178.34,287.81 L178.99,286.79 L179.61,285.76 L180.22,284.71 L180.81,283.65 L181.37,282.57 L181.92,281.49 L182.45,280.39 L182.95,279.27 L183.44,278.15 L183.90,277.02 L184.35,275.87 L184.77,274.72 L185.17,273.55 L185.55,272.38 L185.91,271.20 L186.25,270.01 L186.57,268.82 L186.87,267.62 L187.15,266.41 L187.42,265.20 L187.68,263.99 L187.92,262.77 L188.14,261.55 L188.36,260.33 L188.57,259.11 L188.76,257.89 L188.94,256.67 L189.12,255.45 L189.29,254.24 L189.45,253.03 L189.60,251.82 L189.75,250.62 L189.90,249.43 L190.03,248.24 L190.17,247.07 L190.30,245.90 L190.43,244.74 L190.55,243.60 L190.67,242.47 L190.79,241.35 L190.91,240.24 L191.03,239.15 L191.14,238.08 L191.26,237.02 L191.37,235.99 L191.49,234.97 L191.60,233.97 L191.72,232.99 L191.83,232.04 L191.94,231.11 L192.06,230.20 L192.17,229.32 L192.29,228.46 L192.40,227.63 L192.52,226.82 L192.63,226.05 L192.72,225.30 L192.80,224.58 L192.88,223.89 L192.96,223.24 L193.04,222.61 L193.12,222.02 L193.20,221.46 L193.28,220.93 L193.36,220.44 L193.44,219.98 L193.52,219.56 L193.60,219.17 L193.68,218.82 L193.76,218.50 L193.84,218.22 L193.92,217.98 L194.00,217.77 L194.08,217.60 L194.16,217.47 L194.24,217.38 L194.32,217.32 L194.40,217.30 L194.48,217.32 L194.55,217.38 L194.63,217.47 L194.71,217.60 L194.78,217.77 L194.86,217.98 L194.94,218.22 L195.01,218.50 L195.09,218.82 L195.17,219.17 L195.24,219.56 L195.32,219.98 L195.40,220.44 L195.47,220.93 L195.55,221.46 L195.63,222.02 L195.70,222.61 L195.78,223.24 L195.86,223.89 L195.94,224.58 L196.01,225.30 L196.09,226.05 L196.18,226.82 L196.27,227.63 L196.36,228.46 L196.45,229.32 L196.54,230.20 L196.64,231.11 L196.73,232.04 L196.82,232.99 L196.92,233.97 L197.01,234.97 L197.10,235.99 L197.20,237.02 L197.30,238.08 L197.39,239.15 L197.49,240.24 L197.58,241.35 L197.68,242.47 L197.78,243.60 L197.88,244.74 L197.97,245.90 L198.07,247.07 L198.17,248.24 L198.27,249.43 L198.37,250.62 L198.47,251.82 L198.56,253.03 L198.66,254.24 L198.76,255.45 L198.86,256.67 L198.96,257.89 L199.06,259.11 L199.15,260.33 L199.25,261.55 L199.35,262.77 L199.45,263.99 L199.55,265.20 L199.64,266.41 L199.74,267.62 L199.84,268.82 L199.93,270.01 L200.03,271.20 L200.13,272.38 L200.22,273.55 L200.32,274.72 L200.41,275.87 L200.51,277.02 L200.60,278.15 L200.70,279.27 L200.79,280.39 L200.89,281.49 L200.98,282.57 L201.07,283.65 L201.16,284.71 L201.25,285.76 L201.34,286.79 L201.44,287.81 L201.53,288.81 L201.61,289.80 L201.70,290.78 L201.79,291.74 L201.88,292.68 L201.97,293.61 L202.05,294.52 L202.14,295.41 L202.22,296.29 L202.31,297.15 L202.39,298.00 L202.47,298.82 L202.56,299.64 L202.64,300.43 L202.72,301.21 L202.80,301.97 L202.88,302.71 L202.96,303.44 L203.04,304.15 L203.11,304.85 L203.19,305.52 L203.27,306.18 L203.34,306.83 L203.42,307.46 L203.49,308.07 L203.56,308.67 L203.63,309.25 L203.70,309.81 L203.78,310.36 L203.84,310.90 L203.91,311.41 L203.98,311.92 L204.05,312.41 L204.12,312.88 L204.18,313.34 L204.25,313.79 L204.31,314.23 L204.37,314.64 L204.44,315.05 L204.50,315.45 L204.56,315.83 L204.62,316.19 L204.68,316.55 L204.73,316.89 L204.79,317.23 L204.85,317.55 L204.90,317.86 L204.96,318.16 L205.01,318.44 L205.07,318.72 L205.12,318.99 L205.17,319.25 L205.22,319.50 L205.27,319.74 L205.32,319.97 L205.37,320.19 L205.42,320.40 L205.47,320.60 L205.51,320.80 L205.56,320.99 L205.60,321.17 L205.65,321.34 L205.69,321.51 L205.73,321.67 L205.77,321.82 L205.82,321.97 L205.86,322.11 L205.90,322.24 L205.93,322.37 L205.97,322.49 L206.01,322.61 L206.05,322.72 L206.08,322.83 L206.12,322.93 L206.16,323.03 L206.19,323.12 L206.22,323.21 L206.26,323.29 L206.29,323.37 L206.32,323.45 L206.35,323.52 L206.39,323.59 L206.42,323.66 L206.45,323.72 L206.48,323.78 L206.51,323.84 L206.53,323.89 L206.56,323.94 L206.59,323.99 L206.62,324.04 L206.65,324.08 L206.67,324.12 L206.70,324.16 L206.72,324.20 L206.75,324.23 L206.78,324.27 L206.80,324.30 L206.84,324.33 L206.87,324.36 L206.91,324.38 L206.95,324.41 L206.99,324.43 L207.02,324.46 L207.06,324.48 L207.10,324.50 L207.13,324.52 L207.17,324.53 L207.21,324.55 L207.24,324.57 L207.28,324.58 L207.32,324.60 L207.35,324.61 L207.39,324.62 L207.43,324.63 L207.46,324.64 L207.50,324.65 L207.54,324.66 L207.57,324.67 L207.61,324.68 L207.65,324.69 L207.69,324.70 L207.72,324.70 L207.76,324.71 L207.80,324.72 L207.83,324.72 L207.87,324.73 L207.91,324.73 L207.94,324.74 L207.98,324.74 L208.02,324.75 L208.05,324.75 L208.09,324.75 L208.13,324.76 L208.16,324.76 L208.20,324.76 L208.24,324.77 L208.27,324.77 L208.31,324.77 L208.35,324.77 L208.39,324.77 L208.42,324.78 L333.00,324.80" fill="none" stroke="#2f80f0" stroke-width="1.05" stroke-linejoin="round" />
<path d="M40.00,324.80 L118.68,324.78 L119.40,324.77 L120.12,324.77 L120.84,324.77 L121.56,324.77 L122.28,324.77 L123.01,324.76 L123.73,324.76 L124.45,324.76 L125.17,324.75 L125.89,324.75 L126.62,324.75 L127.34,324.74 L128.06,324.74 L128.78,324.73 L129.50,324.73 L130.23,324.72 L130.95,324.72 L131.67,324.71 L132.39,324.70 L133.11,324.70 L133.84,324.69 L134.56,324.68 L135.28,324.67 L136.00,324.66 L136.72,324.65 L137.45,324.64 L138.17,324.63 L138.89,324.62 L139.61,324.61 L140.33,324.60 L141.05,324.58 L141.78,324.57 L142.50,324.55 L143.22,324.53 L143.94,324.52 L144.66,324.50 L145.39,324.48 L146.11,324.46 L146.83,324.43 L147.55,324.41 L148.27,324.38 L149.00,324.36 L149.72,324.33 L150.44,324.30 L151.16,324.27 L151.88,324.23 L152.61,324.20 L153.33,324.16 L154.05,324.12 L154.77,324.08 L155.49,324.04 L156.21,323.99 L156.94,323.94 L157.66,323.89 L158.38,323.84 L159.10,323.78 L159.82,323.72 L160.55,323.66 L161.27,323.59 L161.99,323.52 L162.84,323.45 L163.71,323.37 L164.53,323.29 L165.31,323.21 L166.05,323.12 L166.76,323.03 L167.45,322.93 L168.11,322.83 L168.76,322.72 L169.41,322.61 L170.04,322.49 L170.68,322.37 L171.33,322.24 L171.98,322.11 L172.65,321.97 L173.34,321.82 L174.05,321.67 L174.78,321.51 L175.55,321.34 L176.35,321.17 L177.18,320.99 L178.05,320.80 L178.95,320.60 L179.88,320.40 L180.84,320.19 L181.84,319.97 L182.87,319.74 L183.93,319.50 L185.03,319.25 L186.16,318.99 L187.33,318.72 L188.53,318.44 L189.76,318.16 L191.02,317.86 L192.31,317.55 L193.63,317.23 L194.95,316.89 L196.28,316.55 L197.61,316.19 L198.94,315.83 L200.26,315.45 L201.57,315.05 L202.85,314.64 L204.11,314.23 L205.35,313.79 L206.55,313.34 L207.73,312.88 L208.89,312.41 L210.02,311.92 L211.13,311.41 L212.22,310.90 L213.28,310.36 L214.32,309.81 L215.33,309.25 L216.33,308.67 L217.30,308.07 L218.26,307.46 L219.19,306.83 L220.10,306.18 L221.00,305.52 L221.87,304.85 L222.73,304.15 L223.57,303.44 L224.39,302.71 L225.19,301.97 L225.97,301.21 L226.74,300.43 L227.49,299.64 L228.23,298.82 L228.95,298.00 L229.65,297.15 L230.34,296.29 L231.02,295.41 L231.67,294.52 L232.32,293.61 L232.95,292.68 L233.57,291.74 L234.17,290.78 L234.75,289.80 L235.33,288.81 L235.89,287.81 L236.43,286.79 L236.96,285.76 L237.48,284.71 L237.98,283.65 L238.47,282.57 L238.94,281.49 L239.40,280.39 L239.85,279.27 L240.29,278.15 L240.71,277.02 L241.12,275.87 L241.51,274.72 L241.90,273.55 L242.27,272.38 L242.62,271.20 L242.97,270.01 L243.30,268.82 L243.63,267.62 L243.94,266.41 L244.24,265.20 L244.52,263.99 L244.80,262.77 L245.06,261.55 L245.32,260.33 L245.56,259.11 L245.80,257.89 L246.02,256.67 L246.24,255.45 L246.44,254.24 L246.64,253.03 L246.82,251.82 L247.00,250.62 L247.17,249.43 L247.33,248.24 L247.48,247.07 L247.63,245.90 L247.77,244.74 L247.90,243.60 L248.02,242.47 L248.14,241.35 L248.25,240.24 L248.36,239.15 L248.46,238.08 L248.55,237.02 L248.64,235.99 L248.73,234.97 L248.81,233.97 L248.89,232.99 L248.96,232.04 L249.03,231.11 L249.10,230.20 L249.16,229.32 L249.23,228.46 L249.29,227.63 L249.35,226.82 L249.41,226.05 L249.49,225.30 L249.58,224.58 L249.67,223.89 L249.76,223.24 L249.86,222.61 L249.95,222.02 L250.04,221.46 L250.13,220.93 L250.22,220.44 L250.31,219.98 L250.40,219.56 L250.49,219.17 L250.58,218.82 L250.67,218.50 L250.76,218.22 L250.85,217.98 L250.95,217.77 L251.04,217.60 L251.13,217.47 L251.22,217.38 L251.31,217.32 L251.40,217.30 L251.48,217.32 L251.57,217.38 L251.65,217.47 L251.74,217.60 L251.82,217.77 L251.90,217.98 L251.99,218.22 L252.07,218.50 L252.16,218.82 L252.24,219.17 L252.32,219.56 L252.41,219.98 L252.49,220.44 L252.58,220.93 L252.66,221.46 L252.74,222.02 L252.83,222.61 L252.91,223.24 L253.00,223.89 L253.08,224.58 L253.16,225.30 L253.25,226.05 L253.32,226.82 L253.40,227.63 L253.48,228.46 L253.56,229.32 L253.64,230.20 L253.71,231.11 L253.79,232.04 L253.87,232.99 L253.95,233.97 L254.03,234.97 L254.11,235.99 L254.19,237.02 L254.27,238.08 L254.35,239.15 L254.43,240.24 L254.52,241.35 L254.60,242.47 L254.68,243.60 L254.76,244.74 L254.85,245.90 L254.93,247.07 L255.02,248.24 L255.11,249.43 L255.19,250.62 L255.28,251.82 L255.37,253.03 L255.46,254.24 L255.55,255.45 L255.64,256.67 L255.73,257.89 L255.82,259.11 L255.91,260.33 L256.01,261.55 L256.10,262.77 L256.19,263.99 L256.29,265.20 L256.39,266.41 L256.48,267.62 L256.58,268.82 L256.68,270.01 L256.78,271.20 L256.88,272.38 L256.98,273.55 L257.08,274.72 L257.18,275.87 L257.29,277.02 L257.39,278.15 L257.50,279.27 L257.60,280.39 L257.71,281.49 L257.81,282.57 L257.92,283.65 L258.03,284.71 L258.13,285.76 L258.24,286.79 L258.35,287.81 L258.46,288.81 L258.57,289.80 L258.68,290.78 L258.79,291.74 L258.90,292.68 L259.01,293.61 L259.12,294.52 L259.24,295.41 L259.35,296.29 L259.46,297.15 L259.57,298.00 L259.68,298.82 L259.79,299.64 L259.90,300.43 L260.02,301.21 L260.13,301.97 L260.24,302.71 L260.35,303.44 L260.46,304.15 L260.57,304.85 L260.68,305.52 L260.79,306.18 L260.90,306.83 L261.00,307.46 L261.11,308.07 L261.22,308.67 L261.32,309.25 L261.43,309.81 L261.53,310.36 L261.63,310.90 L261.73,311.41 L261.83,311.92 L261.93,312.41 L262.03,312.88 L262.13,313.34 L262.22,313.79 L262.31,314.23 L262.40,314.64 L262.49,315.05 L262.58,315.45 L262.67,315.83 L262.75,316.19 L262.83,316.55 L262.91,316.89 L262.99,317.23 L263.06,317.55 L263.13,317.86 L263.20,318.16 L263.27,318.44 L263.33,318.72 L263.39,318.99 L263.45,319.25 L263.50,319.50 L263.56,319.74 L263.60,319.97 L263.65,320.19 L263.69,320.40 L263.73,320.60 L263.76,320.80 L263.79,320.99 L263.82,321.17 L263.84,321.34 L263.86,321.51 L263.87,321.67 L263.88,321.82 L263.88,321.97 L263.88,322.11 L263.88,322.24 L263.86,322.37 L263.85,322.49 L263.83,322.61 L263.80,322.72 L263.77,322.83 L263.73,322.93 L263.69,323.03 L263.64,323.12 L263.58,323.21 L263.52,323.29 L263.45,323.37 L263.38,323.45 L263.30,323.52 L263.21,323.59 L263.25,323.66 L263.30,323.72 L263.35,323.78 L263.40,323.84 L263.45,323.89 L263.50,323.94 L263.55,323.99 L263.60,324.04 L263.65,324.08 L263.70,324.12 L263.75,324.16 L263.80,324.20 L263.85,324.23 L263.90,324.27 L263.95,324.30 L264.00,324.33 L264.05,324.36 L264.10,324.38 L264.15,324.41 L264.20,324.43 L264.25,324.46 L264.30,324.48 L264.35,324.50 L264.40,324.52 L264.45,324.53 L264.50,324.55 L264.55,324.57 L264.59,324.58 L264.64,324.60 L264.69,324.61 L264.74,324.62 L264.79,324.63 L264.84,324.64 L264.89,324.65 L264.94,324.66 L264.99,324.67 L265.04,324.68 L265.09,324.69 L265.14,324.70 L265.19,324.70 L265.24,324.71 L265.29,324.72 L265.34,324.72 L265.39,324.73 L265.44,324.73 L265.49,324.74 L265.54,324.74 L265.59,324.75 L265.64,324.75 L265.69,324.75 L265.74,324.76 L265.79,324.76 L265.84,324.76 L265.89,324.77 L265.94,324.77 L265.99,324.77 L266.04,324.77 L266.09,324.77 L266.14,324.78 L333.00,324.80" fill="none" stroke="#2868ba" stroke-width="1.05" stroke-linejoin="round" />
<path d="M40.00,324.80 L139.70,324.78 L140.50,324.77 L141.30,324.77 L142.11,324.77 L142.91,324.77 L143.71,324.77 L144.51,324.76 L145.32,324.76 L146.12,324.76 L146.92,324.75 L147.72,324.75 L148.53,324.75 L149.33,324.74 L150.13,324.74 L150.93,324.73 L151.74,324.73 L152.54,324.72 L153.34,324.72 L154.14,324.71 L154.95,324.70 L155.75,324.70 L156.55,324.69 L157.35,324.68 L158.16,324.67 L158.96,324.66 L159.76,324.65 L160.56,324.64 L161.37,324.63 L162.17,324.62 L162.97,324.61 L163.77,324.60 L164.58,324.58 L165.38,324.57 L166.18,324.55 L166.98,324.53 L167.79,324.52 L168.59,324.50 L169.39,324.48 L170.19,324.46 L171.00,324.43 L171.80,324.41 L172.60,324.38 L173.40,324.36 L174.21,324.33 L175.01,324.30 L176.12,324.27 L177.18,324.23 L178.20,324.20 L179.17,324.16 L180.11,324.12 L181.01,324.08 L181.88,324.04 L182.71,323.99 L183.52,323.94 L184.30,323.89 L185.07,323.84 L185.81,323.78 L186.54,323.72 L187.25,323.66 L187.96,323.59 L188.65,323.52 L189.34,323.45 L190.03,323.37 L190.71,323.29 L191.40,323.21 L192.09,323.12 L192.78,323.03 L193.49,322.93 L194.20,322.83 L194.92,322.72 L195.66,322.61 L196.41,322.49 L197.18,322.37 L197.97,322.24 L198.78,322.11 L199.61,321.97 L200.46,321.82 L201.34,321.67 L202.25,321.51 L203.18,321.34 L204.14,321.17 L205.14,320.99 L206.17,320.80 L207.23,320.60 L208.32,320.40 L209.45,320.19 L210.61,319.97 L211.82,319.74 L213.06,319.50 L214.33,319.25 L215.64,318.99 L216.97,318.72 L218.32,318.44 L219.68,318.16 L221.05,317.86 L222.42,317.55 L223.79,317.23 L225.15,316.89 L226.50,316.55 L227.83,316.19 L229.14,315.83 L230.43,315.45 L231.68,315.05 L232.90,314.64 L234.09,314.23 L235.23,313.79 L236.34,313.34 L237.40,312.88 L238.43,312.41 L239.43,311.92 L240.41,311.41 L241.37,310.90 L242.32,310.36 L243.25,309.81 L244.17,309.25 L245.10,308.67 L246.02,308.07 L246.94,307.46 L247.87,306.83 L248.81,306.18 L249.77,305.52 L250.73,304.85 L251.69,304.15 L252.66,303.44 L253.62,302.71 L254.57,301.97 L255.50,301.21 L256.42,300.43 L257.31,299.64 L258.18,298.82 L259.01,298.00 L259.81,297.15 L260.58,296.29 L261.32,295.41 L262.02,294.52 L262.70,293.61 L263.34,292.68 L263.96,291.74 L264.55,290.78 L265.12,289.80 L265.66,288.81 L266.18,287.81 L266.67,286.79 L267.14,285.76 L267.59,284.71 L268.02,283.65 L268.44,282.57 L268.83,281.49 L269.20,280.39 L269.56,279.27 L269.90,278.15 L270.22,277.02 L270.53,275.87 L270.83,274.72 L271.11,273.55 L271.38,272.38 L271.64,271.20 L271.89,270.01 L272.12,268.82 L272.35,267.62 L272.56,266.41 L272.77,265.20 L272.97,263.99 L273.16,262.77 L273.34,261.55 L273.51,260.33 L273.68,259.11 L273.84,257.89 L274.00,256.67 L274.15,255.45 L274.30,254.24 L274.44,253.03 L274.58,251.82 L274.71,250.62 L274.85,249.43 L274.98,248.24 L275.10,247.07 L275.22,245.90 L275.35,244.74 L275.47,243.60 L275.58,242.47 L275.70,241.35 L275.82,240.24 L275.93,239.15 L276.04,238.08 L276.16,237.02 L276.27,235.99 L276.38,234.97 L276.49,233.97 L276.60,232.99 L276.71,232.04 L276.82,231.11 L276.93,230.20 L277.04,229.32 L277.15,228.46 L277.26,227.63 L277.37,226.82 L277.48,226.05 L277.59,225.30 L277.70,224.58 L277.78,223.89 L277.87,223.24 L277.95,222.61 L278.04,222.02 L278.12,221.46 L278.21,220.93 L278.29,220.44 L278.38,219.98 L278.46,219.56 L278.55,219.17 L278.63,218.82 L278.72,218.50 L278.80,218.22 L278.89,217.98 L278.97,217.77 L279.06,217.60 L279.14,217.47 L279.23,217.38 L279.31,217.32 L279.40,217.30 L279.48,217.32 L279.57,217.38 L279.65,217.47 L279.73,217.60 L279.82,217.77 L279.90,217.98 L279.99,218.22 L280.07,218.50 L280.15,218.82 L280.24,219.17 L280.32,219.56 L280.40,219.98 L280.49,220.44 L280.57,220.93 L280.65,221.46 L280.74,222.02 L280.82,222.61 L280.90,223.24 L280.99,223.89 L281.07,224.58 L281.15,225.30 L281.23,226.05 L281.30,226.82 L281.38,227.63 L281.46,228.46 L281.53,229.32 L281.61,230.20 L281.68,231.11 L281.76,232.04 L281.83,232.99 L281.91,233.97 L281.98,234.97 L282.05,235.99 L282.13,237.02 L282.20,238.08 L282.27,239.15 L282.35,240.24 L282.42,241.35 L282.49,242.47 L282.56,243.60 L282.64,244.74 L282.71,245.90 L282.78,247.07 L282.85,248.24 L282.92,249.43 L282.99,250.62 L283.06,251.82 L283.13,253.03 L283.21,254.24 L283.28,255.45 L283.35,256.67 L283.42,257.89 L283.49,259.11 L283.56,260.33 L283.63,261.55 L283.70,262.77 L283.77,263.99 L283.84,265.20 L283.91,266.41 L283.98,267.62 L284.06,268.82 L284.13,270.01 L284.20,271.20 L284.27,272.38 L284.34,273.55 L284.41,274.72 L284.48,275.87 L284.55,277.02 L284.62,278.15 L284.70,279.27 L284.77,280.39 L284.84,281.49 L284.91,282.57 L284.98,283.65 L285.06,284.71 L285.13,285.76 L285.20,286.79 L285.27,287.81 L285.35,288.81 L285.42,289.80 L285.49,290.78 L285.57,291.74 L285.64,292.68 L285.72,293.61 L285.79,294.52 L285.86,295.41 L285.94,296.29 L286.01,297.15 L286.09,298.00 L286.16,298.82 L286.24,299.64 L286.32,300.43 L286.39,301.21 L286.47,301.97 L286.55,302.71 L286.62,303.44 L286.70,304.15 L286.78,304.85 L286.86,305.52 L286.93,306.18 L287.01,306.83 L287.09,307.46 L287.17,308.07 L287.25,308.67 L287.33,309.25 L287.41,309.81 L287.49,310.36 L287.57,310.90 L287.65,311.41 L287.73,311.92 L287.82,312.41 L287.90,312.88 L287.98,313.34 L288.06,313.79 L288.15,314.23 L288.23,314.64 L288.31,315.05 L288.40,315.45 L288.48,315.83 L288.57,316.19 L288.65,316.55 L288.74,316.89 L288.82,317.23 L288.91,317.55 L289.00,317.86 L289.08,318.16 L289.17,318.44 L289.26,318.72 L289.35,318.99 L289.43,319.25 L289.52,319.50 L289.61,319.74 L289.70,319.97 L289.79,320.19 L289.88,320.40 L289.97,320.60 L290.06,320.80 L290.15,320.99 L290.25,321.17 L290.34,321.34 L290.43,321.51 L290.52,321.67 L290.61,321.82 L290.71,321.97 L290.80,322.11 L290.90,322.24 L290.99,322.37 L291.08,322.49 L291.18,322.61 L291.27,322.72 L291.37,322.83 L291.46,322.93 L291.56,323.03 L291.66,323.12 L291.75,323.21 L291.85,323.29 L291.95,323.37 L292.05,323.45 L292.14,323.52 L292.24,323.59 L292.34,323.66 L292.44,323.72 L292.54,323.78 L292.64,323.84 L292.74,323.89 L292.84,323.94 L292.94,323.99 L293.04,324.04 L293.14,324.08 L293.24,324.12 L293.34,324.16 L293.43,324.20 L293.53,324.23 L293.63,324.27 L293.73,324.30 L293.83,324.33 L293.93,324.36 L294.03,324.38 L294.13,324.41 L294.23,324.43 L294.32,324.46 L294.42,324.48 L294.52,324.50 L294.62,324.52 L294.72,324.53 L294.82,324.55 L294.92,324.57 L295.02,324.58 L295.12,324.60 L295.21,324.61 L295.31,324.62 L295.41,324.63 L295.51,324.64 L295.61,324.65 L295.71,324.66 L295.81,324.67 L295.91,324.68 L296.01,324.69 L296.11,324.70 L296.20,324.70 L296.30,324.71 L296.40,324.72 L296.50,324.72 L296.60,324.73 L296.70,324.73 L296.80,324.74 L296.90,324.74 L297.00,324.75 L297.09,324.75 L297.19,324.75 L297.29,324.76 L297.39,324.76 L297.49,324.76 L297.59,324.77 L297.69,324.77 L297.79,324.77 L297.89,324.77 L297.98,324.77 L298.08,324.78 L333.00,324.80" fill="none" stroke="#b82020" stroke-width="1.05" stroke-linejoin="round" />
<path d="M40.00,324.80 L251.86,324.78 L252.05,324.77 L252.24,324.77 L252.42,324.77 L252.61,324.77 L252.80,324.77 L252.98,324.76 L253.17,324.76 L253.36,324.76 L253.55,324.75 L253.73,324.75 L253.92,324.75 L254.11,324.74 L254.30,324.74 L254.48,324.73 L254.67,324.73 L254.86,324.72 L255.05,324.72 L255.23,324.71 L255.42,324.70 L255.61,324.70 L255.80,324.69 L255.98,324.68 L256.17,324.67 L256.36,324.66 L256.55,324.65 L256.73,324.64 L256.92,324.63 L257.11,324.62 L257.29,324.61 L257.48,324.60 L257.67,324.58 L257.86,324.57 L258.04,324.55 L258.23,324.53 L258.42,324.52 L258.61,324.50 L258.79,324.48 L258.98,324.46 L259.17,324.43 L259.36,324.41 L259.54,324.38 L259.73,324.36 L259.92,324.33 L260.11,324.30 L260.29,324.27 L260.48,324.23 L260.67,324.20 L260.86,324.16 L261.04,324.12 L261.23,324.08 L261.42,324.04 L261.60,323.99 L261.79,323.94 L261.98,323.89 L262.17,323.84 L262.35,323.78 L262.54,323.72 L262.73,323.66 L262.92,323.59 L263.10,323.52 L263.29,323.45 L263.48,323.37 L263.67,323.29 L263.85,323.21 L264.04,323.12 L264.23,323.03 L264.42,322.93 L264.60,322.83 L264.79,322.72 L264.98,322.61 L265.17,322.49 L265.35,322.37 L265.54,322.24 L265.73,322.11 L265.91,321.97 L266.10,321.82 L266.29,321.67 L266.48,321.51 L266.66,321.34 L266.85,321.17 L267.04,320.99 L267.23,320.80 L267.41,320.60 L267.60,320.40 L267.79,320.19 L267.98,319.97 L268.16,319.74 L268.35,319.50 L268.54,319.25 L268.73,318.99 L268.91,318.72 L269.10,318.44 L269.29,318.16 L269.48,317.86 L269.66,317.55 L269.85,317.23 L270.04,316.89 L270.22,316.55 L270.37,316.19 L270.53,315.83 L270.69,315.45 L270.86,315.05 L271.03,314.64 L271.20,314.23 L271.37,313.79 L271.55,313.34 L271.73,312.88 L271.91,312.41 L272.10,311.92 L272.28,311.41 L272.47,310.90 L272.66,310.36 L272.85,309.81 L273.05,309.25 L273.24,308.67 L273.44,308.07 L273.63,307.46 L273.83,306.83 L274.03,306.18 L274.23,305.52 L274.43,304.85 L274.63,304.15 L274.83,303.44 L275.03,302.71 L275.23,301.97 L275.43,301.21 L275.64,300.43 L275.84,299.64 L276.04,298.82 L276.24,298.00 L276.44,297.15 L276.64,296.29 L276.84,295.41 L277.03,294.52 L277.23,293.61 L277.43,292.68 L277.62,291.74 L277.82,290.78 L278.01,289.80 L278.20,288.81 L278.39,287.81 L278.58,286.79 L278.77,285.76 L278.96,284.71 L279.14,283.65 L279.33,282.57 L279.51,281.49 L279.69,280.39 L279.87,279.27 L280.05,278.15 L280.22,277.02 L280.40,275.87 L280.57,274.72 L280.74,273.55 L280.91,272.38 L281.08,271.20 L281.24,270.01 L281.41,268.82 L281.57,267.62 L281.73,266.41 L281.89,265.20 L282.05,263.99 L282.20,262.77 L282.36,261.55 L282.51,260.33 L282.66,259.11 L282.81,257.89 L282.95,256.67 L283.10,255.45 L283.24,254.24 L283.38,253.03 L283.52,251.82 L283.66,250.62 L283.80,249.43 L283.93,248.24 L284.07,247.07 L284.20,245.90 L284.33,244.74 L284.46,243.60 L284.59,242.47 L284.72,241.35 L284.84,240.24 L284.97,239.15 L285.09,238.08 L285.22,237.02 L285.34,235.99 L285.46,234.97 L285.58,233.97 L285.70,232.99 L285.82,232.04 L285.94,231.11 L286.06,230.20 L286.18,229.32 L286.30,228.46 L286.42,227.63 L286.54,226.82 L286.66,226.05 L286.78,225.30 L286.90,224.58 L287.03,223.89 L287.17,223.24 L287.30,222.61 L287.44,222.02 L287.57,221.46 L287.71,220.93 L287.84,220.44 L287.98,219.98 L288.11,219.56 L288.25,219.17 L288.38,218.82 L288.52,218.50 L288.65,218.22 L288.79,217.98 L288.92,217.77 L289.06,217.60 L289.19,217.47 L289.33,217.38 L289.46,217.32 L289.60,217.30 L289.75,217.32 L289.91,217.38 L290.06,217.47 L290.22,217.60 L290.37,217.77 L290.52,217.98 L290.68,218.22 L290.83,218.50 L290.99,218.82 L291.14,219.17 L291.30,219.56 L291.45,219.98 L291.60,220.44 L291.76,220.93 L291.91,221.46 L292.07,222.02 L292.22,222.61 L292.37,223.24 L292.53,223.89 L292.68,224.58 L292.80,225.30 L292.92,226.05 L293.05,226.82 L293.17,227.63 L293.29,228.46 L293.41,229.32 L293.53,230.20 L293.65,231.11 L293.78,232.04 L293.90,232.99 L294.03,233.97 L294.15,234.97 L294.28,235.99 L294.41,237.02 L294.54,238.08 L294.67,239.15 L294.80,240.24 L294.93,241.35 L295.07,242.47 L295.21,243.60 L295.35,244.74 L295.49,245.90 L295.63,247.07 L295.77,248.24 L295.92,249.43 L296.06,250.62 L296.21,251.82 L296.36,253.03 L296.51,254.24 L296.66,255.45 L296.81,256.67 L296.97,257.89 L297.12,259.11 L297.27,260.33 L297.43,261.55 L297.58,262.77 L297.74,263.99 L297.89,265.20 L298.05,266.41 L298.20,267.62 L298.36,268.82 L298.51,270.01 L298.67,271.20 L298.83,272.38 L298.98,273.55 L299.14,274.72 L299.30,275.87 L299.46,277.02 L299.61,278.15 L299.77,279.27 L299.93,280.39 L300.09,281.49 L300.25,282.57 L300.41,283.65 L300.57,284.71 L300.73,285.76 L300.89,286.79 L301.06,287.81 L301.22,288.81 L301.39,289.80 L301.55,290.78 L301.72,291.74 L301.89,292.68 L302.05,293.61 L302.22,294.52 L302.40,295.41 L302.57,296.29 L302.74,297.15 L302.92,298.00 L303.09,298.82 L303.27,299.64 L303.45,300.43 L303.63,301.21 L303.81,301.97 L304.00,302.71 L304.18,303.44 L304.37,304.15 L304.56,304.85 L304.76,305.52 L304.95,306.18 L305.15,306.83 L305.35,307.46 L305.55,308.07 L305.76,308.67 L305.96,309.25 L306.17,309.81 L306.38,310.36 L306.60,310.90 L306.82,311.41 L307.04,311.92 L307.26,312.41 L307.49,312.88 L307.71,313.34 L307.95,313.79 L308.18,314.23 L308.42,314.64 L308.66,315.05 L308.90,315.45 L309.15,315.83 L309.40,316.19 L309.65,316.55 L309.91,316.89 L310.17,317.23 L310.44,317.55 L310.70,317.86 L310.97,318.16 L311.25,318.44 L311.52,318.72 L311.81,318.99 L312.09,319.25 L312.38,319.50 L312.67,319.74 L312.97,319.97 L313.27,320.19 L313.57,320.40 L313.88,320.60 L314.19,320.80 L314.51,320.99 L314.83,321.17 L315.15,321.34 L315.48,321.51 L315.82,321.67 L316.15,321.82 L316.50,321.97 L316.84,322.11 L317.19,322.24 L317.55,322.37 L317.91,322.49 L318.27,322.61 L318.64,322.72 L319.01,322.83 L319.39,322.93 L319.78,323.03 L320.18,323.12 L320.58,323.21 L321.01,323.29 L321.45,323.37 L321.90,323.45 L322.38,323.52 L322.89,323.59 L323.42,323.66 L323.98,323.72 L324.58,323.78 L325.20,323.84 L325.87,323.89 L326.58,323.94 L327.33,323.99 L328.13,324.04 L328.98,324.08 L329.68,324.12 L330.25,324.16 L330.82,324.20 L331.38,324.23 L331.95,324.27 L332.52,324.30 L333.00,324.80" fill="none" stroke="#d83030" stroke-width="1.05" stroke-linejoin="round" />
<path d="M40.00,324.80 L168.71,324.78 L169.52,324.77 L170.33,324.77 L171.15,324.77 L171.96,324.77 L172.77,324.77 L173.58,324.76 L174.39,324.76 L175.21,324.76 L176.02,324.75 L176.83,324.75 L177.64,324.75 L178.45,324.74 L179.27,324.74 L180.08,324.73 L180.89,324.73 L181.70,324.72 L182.51,324.72 L183.33,324.71 L184.14,324.70 L184.95,324.70 L185.76,324.69 L186.57,324.68 L187.39,324.67 L188.20,324.66 L189.01,324.65 L189.82,324.64 L190.63,324.63 L191.45,324.62 L192.26,324.61 L193.07,324.60 L193.88,324.58 L194.69,324.57 L195.50,324.55 L196.32,324.53 L197.13,324.52 L197.94,324.50 L198.75,324.48 L199.56,324.46 L200.38,324.43 L201.19,324.41 L202.00,324.38 L202.81,324.36 L203.62,324.33 L204.44,324.30 L205.25,324.27 L206.06,324.23 L206.87,324.20 L207.68,324.16 L208.50,324.12 L209.31,324.08 L210.12,324.04 L210.93,323.99 L211.74,323.94 L212.56,323.89 L213.37,323.84 L214.18,323.78 L214.99,323.72 L215.80,323.66 L216.55,323.59 L216.78,323.52 L217.10,323.45 L217.52,323.37 L218.02,323.29 L218.60,323.21 L219.27,323.12 L220.01,323.03 L220.82,322.93 L221.69,322.83 L222.63,322.72 L223.64,322.61 L224.70,322.49 L225.81,322.37 L226.97,322.24 L228.18,322.11 L229.44,321.97 L230.73,321.82 L232.06,321.67 L233.43,321.51 L234.83,321.34 L236.26,321.17 L237.71,320.99 L239.19,320.80 L240.68,320.60 L242.20,320.40 L243.72,320.19 L245.26,319.97 L246.81,319.74 L248.37,319.50 L249.93,319.25 L251.50,318.99 L253.06,318.72 L254.62,318.44 L256.18,318.16 L257.73,317.86 L259.27,317.55 L260.80,317.23 L262.32,316.89 L263.83,316.55 L265.32,316.19 L266.79,315.83 L268.24,315.45 L269.67,315.05 L271.08,314.64 L272.46,314.23 L273.82,313.79 L275.14,313.34 L276.44,312.88 L277.71,312.41 L278.95,311.92 L280.16,311.41 L281.33,310.90 L282.47,310.36 L283.57,309.81 L284.64,309.25 L285.66,308.67 L286.65,308.07 L287.61,307.46 L288.52,306.83 L289.40,306.18 L290.25,305.52 L291.06,304.85 L291.84,304.15 L292.59,303.44 L293.31,302.71 L294.00,301.97 L294.66,301.21 L295.30,300.43 L295.90,299.64 L296.49,298.82 L297.04,298.00 L297.58,297.15 L298.09,296.29 L298.57,295.41 L299.04,294.52 L299.48,293.61 L299.91,292.68 L300.32,291.74 L300.70,290.78 L301.07,289.80 L301.43,288.81 L301.77,287.81 L302.09,286.79 L302.39,285.76 L302.69,284.71 L302.97,283.65 L303.23,282.57 L303.49,281.49 L303.73,280.39 L303.96,279.27 L304.19,278.15 L304.40,277.02 L304.60,275.87 L304.80,274.72 L304.98,273.55 L305.16,272.38 L305.33,271.20 L305.50,270.01 L305.66,268.82 L305.81,267.62 L305.96,266.41 L306.10,265.20 L306.24,263.99 L306.37,262.77 L306.51,261.55 L306.63,260.33 L306.76,259.11 L306.88,257.89 L307.00,256.67 L307.12,255.45 L307.24,254.24 L307.36,253.03 L307.47,251.82 L307.59,250.62 L307.70,249.43 L307.82,248.24 L307.93,247.07 L308.05,245.90 L308.16,244.74 L308.28,243.60 L308.40,242.47 L308.52,241.35 L308.63,240.24 L308.75,239.15 L308.88,238.08 L309.00,237.02 L309.12,235.99 L309.25,234.97 L309.38,233.97 L309.51,232.99 L309.64,232.04 L309.77,231.11 L309.91,230.20 L310.04,229.32 L310.18,228.46 L310.32,227.63 L310.46,226.82 L310.61,226.05 L310.75,225.30 L310.90,224.58 L311.04,223.89 L311.19,223.24 L311.33,222.61 L311.48,222.02 L311.62,221.46 L311.77,220.93 L311.91,220.44 L312.06,219.98 L312.20,219.56 L312.35,219.17 L312.49,218.82 L312.64,218.50 L312.78,218.22 L312.93,217.98 L313.07,217.77 L313.22,217.60 L313.36,217.47 L313.51,217.38 L313.65,217.32 L313.80,217.30 L313.92,217.32 L314.04,217.38 L314.16,217.47 L314.27,217.60 L314.39,217.77 L314.51,217.98 L314.63,218.22 L314.75,218.50 L314.87,218.82 L314.99,219.17 L315.10,219.56 L315.22,219.98 L315.34,220.44 L315.46,220.93 L315.58,221.46 L315.70,222.02 L315.81,222.61 L315.93,223.24 L316.05,223.89 L316.17,224.58 L316.28,225.30 L316.38,226.05 L316.48,226.82 L316.59,227.63 L316.69,228.46 L316.79,229.32 L316.89,230.20 L316.99,231.11 L317.09,232.04 L317.19,232.99 L317.29,233.97 L317.38,234.97 L317.48,235.99 L317.57,237.02 L317.67,238.08 L317.76,239.15 L317.86,240.24 L317.95,241.35 L318.04,242.47 L318.13,243.60 L318.22,244.74 L318.31,245.90 L318.40,247.07 L318.49,248.24 L318.58,249.43 L318.67,250.62 L318.76,251.82 L318.84,253.03 L318.93,254.24 L319.02,255.45 L319.10,256.67 L319.19,257.89 L319.27,259.11 L319.36,260.33 L319.44,261.55 L319.53,262.77 L319.61,263.99 L319.70,265.20 L319.78,266.41 L319.87,267.62 L319.95,268.82 L320.03,270.01 L320.12,271.20 L320.20,272.38 L320.29,273.55 L320.37,274.72 L320.45,275.87 L320.54,277.02 L320.62,278.15 L320.70,279.27 L320.79,280.39 L320.87,281.49 L320.96,282.57 L321.04,283.65 L321.13,284.71 L321.21,285.76 L321.30,286.79 L321.38,287.81 L321.47,288.81 L321.55,289.80 L321.64,290.78 L321.73,291.74 L321.81,292.68 L321.90,293.61 L321.99,294.52 L322.08,295.41 L322.17,296.29 L322.25,297.15 L322.34,298.00 L322.43,298.82 L322.52,299.64 L322.62,300.43 L322.71,301.21 L322.80,301.97 L322.89,302.71 L322.98,303.44 L323.08,304.15 L323.17,304.85 L323.27,305.52 L323.36,306.18 L323.46,306.83 L323.56,307.46 L323.65,308.07 L323.75,308.67 L323.85,309.25 L323.95,309.81 L324.05,310.36 L324.15,310.90 L324.25,311.41 L324.36,311.92 L324.46,312.41 L324.56,312.88 L324.67,313.34 L324.77,313.79 L324.88,314.23 L324.99,314.64 L325.09,315.05 L325.20,315.45 L325.31,315.83 L325.42,316.19 L325.53,316.55 L325.65,316.89 L325.76,317.23 L325.87,317.55 L325.99,317.86 L326.10,318.16 L326.22,318.44 L326.34,318.72 L326.46,318.99 L326.58,319.25 L326.70,319.50 L326.82,319.74 L326.94,319.97 L327.06,320.19 L327.19,320.40 L327.31,320.60 L327.44,320.80 L327.56,320.99 L327.69,321.17 L327.82,321.34 L327.95,321.51 L328.08,321.67 L328.21,321.82 L328.34,321.97 L328.48,322.11 L328.61,322.24 L328.75,322.37 L328.88,322.49 L329.02,322.61 L329.16,322.72 L329.30,322.83 L329.44,322.93 L329.58,323.03 L329.72,323.12 L329.86,323.21 L330.01,323.29 L330.15,323.37 L330.30,323.45 L330.45,323.52 L330.59,323.59 L330.74,323.66 L330.89,323.72 L331.05,323.78 L331.20,323.84 L331.35,323.89 L331.50,323.94 L331.66,323.99 L331.82,324.04 L331.97,324.08 L332.12,324.12 L332.26,324.16 L332.40,324.20 L332.54,324.23 L332.67,324.27 L332.81,324.30 L332.95,324.33 L333.00,324.80" fill="none" stroke="#f86464" stroke-width="1.05" stroke-linejoin="round" />
<path d="M381.00,324.80 L381.13,324.38 L381.69,324.36 L382.24,324.33 L382.79,324.30 L383.34,324.27 L383.90,324.23 L384.45,324.20 L385.00,324.16 L385.56,324.12 L386.11,324.08 L386.66,324.04 L387.22,323.99 L387.77,323.94 L388.32,323.89 L388.87,323.84 L389.43,323.78 L389.98,323.72 L390.53,323.66 L391.09,323.59 L391.64,323.52 L392.19,323.45 L392.75,323.37 L393.30,323.29 L393.85,323.21 L394.58,323.12 L395.29,323.03 L395.97,322.93 L396.63,322.83 L397.27,322.72 L397.88,322.61 L398.46,322.49 L399.03,322.37 L399.57,322.24 L400.10,322.11 L400.61,321.97 L401.10,321.82 L401.58,321.67 L402.04,321.51 L402.49,321.34 L402.93,321.17 L403.36,320.99 L403.78,320.80 L404.19,320.60 L404.59,320.40 L404.99,320.19 L405.38,319.97 L405.76,319.74 L406.15,319.50 L406.52,319.25 L406.90,318.99 L407.28,318.72 L407.65,318.44 L408.03,318.16 L408.41,317.86 L408.79,317.55 L409.17,317.23 L409.56,316.89 L409.95,316.55 L410.34,316.19 L410.74,315.83 L411.14,315.45 L411.55,315.05 L411.97,314.64 L412.40,314.23 L412.83,313.79 L413.26,313.34 L413.70,312.88 L414.14,312.41 L414.59,311.92 L415.03,311.41 L415.48,310.90 L415.93,310.36 L416.37,309.81 L416.82,309.25 L417.26,308.67 L417.70,308.07 L418.14,307.46 L418.57,306.83 L419.00,306.18 L419.42,305.52 L419.83,304.85 L420.24,304.15 L420.65,303.44 L421.04,302.71 L421.43,301.97 L421.81,301.21 L422.18,300.43 L422.54,299.64 L422.89,298.82 L423.24,298.00 L423.57,297.15 L423.89,296.29 L424.21,295.41 L424.52,294.52 L424.82,293.61 L425.11,292.68 L425.39,291.74 L425.67,290.78 L425.94,289.80 L426.20,288.81 L426.45,287.81 L426.70,286.79 L426.93,285.76 L427.17,284.71 L427.39,283.65 L427.61,282.57 L427.82,281.49 L428.03,280.39 L428.23,279.27 L428.42,278.15 L428.61,277.02 L428.79,275.87 L428.96,274.72 L429.13,273.55 L429.30,272.38 L429.46,271.20 L429.61,270.01 L429.76,268.82 L429.91,267.62 L430.05,266.41 L430.18,265.20 L430.31,263.99 L430.44,262.77 L430.56,261.55 L430.67,260.33 L430.79,259.11 L430.90,257.89 L431.00,256.67 L431.10,255.45 L431.20,254.24 L431.30,253.03 L431.39,251.82 L431.47,250.62 L431.56,249.43 L431.64,248.24 L431.72,247.07 L431.80,245.90 L431.87,244.74 L431.94,243.60 L432.01,242.47 L432.08,241.35 L432.14,240.24 L432.20,239.15 L432.26,238.08 L432.32,237.02 L432.38,235.99 L432.44,234.97 L432.49,233.97 L432.55,232.99 L432.60,232.04 L432.65,231.11 L432.70,230.20 L432.75,229.32 L432.80,228.46 L432.85,227.63 L432.90,226.82 L432.95,226.05 L433.00,225.30 L433.05,224.58 L433.11,223.89 L433.18,223.24 L433.24,222.61 L433.30,222.02 L433.36,221.46 L433.43,220.93 L433.49,220.44 L433.55,219.98 L433.61,219.56 L433.68,219.17 L433.74,218.82 L433.80,218.50 L433.86,218.22 L433.93,217.98 L433.99,217.77 L434.05,217.60 L434.11,217.47 L434.18,217.38 L434.24,217.32 L434.30,217.30 L434.34,217.32 L434.38,217.38 L434.43,217.47 L434.47,217.60 L434.51,217.77 L434.55,217.98 L434.59,218.22 L434.64,218.50 L434.68,218.82 L434.72,219.17 L434.76,219.56 L434.80,219.98 L434.85,220.44 L434.89,220.93 L434.93,221.46 L434.97,222.02 L435.01,222.61 L435.06,223.24 L435.10,223.89 L435.14,224.58 L435.18,225.30 L435.22,226.05 L435.25,226.82 L435.29,227.63 L435.33,228.46 L435.37,229.32 L435.41,230.20 L435.45,231.11 L435.48,232.04 L435.52,232.99 L435.56,233.97 L435.60,234.97 L435.64,235.99 L435.68,237.02 L435.72,238.08 L435.75,239.15 L435.79,240.24 L435.83,241.35 L435.87,242.47 L435.91,243.60 L435.95,244.74 L435.99,245.90 L436.03,247.07 L436.07,248.24 L436.11,249.43 L436.15,250.62 L436.19,251.82 L436.24,253.03 L436.28,254.24 L436.32,255.45 L436.36,256.67 L436.40,257.89 L436.45,259.11 L436.49,260.33 L436.53,261.55 L436.58,262.77 L436.62,263.99 L436.66,265.20 L436.71,266.41 L436.75,267.62 L436.80,268.82 L436.85,270.01 L436.89,271.20 L436.94,272.38 L436.98,273.55 L437.03,274.72 L437.08,275.87 L437.13,277.02 L437.17,278.15 L437.22,279.27 L437.27,280.39 L437.32,281.49 L437.37,282.57 L437.42,283.65 L437.47,284.71 L437.52,285.76 L437.57,286.79 L437.62,287.81 L437.67,288.81 L437.72,289.80 L437.77,290.78 L437.82,291.74 L437.87,292.68 L437.92,293.61 L437.97,294.52 L438.02,295.41 L438.08,296.29 L438.13,297.15 L438.18,298.00 L438.23,298.82 L438.29,299.64 L438.34,300.43 L438.39,301.21 L438.44,301.97 L438.49,302.71 L438.55,303.44 L438.60,304.15 L438.65,304.85 L438.70,305.52 L438.76,306.18 L438.81,306.83 L438.86,307.46 L438.91,308.07 L438.96,308.67 L439.01,309.25 L439.06,309.81 L439.11,310.36 L439.16,310.90 L439.21,311.41 L439.26,311.92 L439.31,312.41 L439.36,312.88 L439.41,313.34 L439.46,313.79 L439.51,314.23 L439.55,314.64 L439.60,315.05 L439.65,315.45 L439.69,315.83 L439.73,316.19 L439.78,316.55 L439.82,316.89 L439.86,317.23 L439.91,317.55 L439.95,317.86 L439.99,318.16 L440.02,318.44 L440.06,318.72 L440.10,318.99 L440.14,319.25 L440.17,319.50 L440.20,319.74 L440.24,319.97 L440.27,320.19 L440.30,320.40 L440.33,320.60 L440.36,320.80 L440.38,320.99 L440.41,321.17 L440.43,321.34 L440.45,321.51 L440.47,321.67 L440.49,321.82 L440.51,321.97 L440.52,322.11 L440.54,322.24 L440.55,322.37 L440.56,322.49 L440.57,322.61 L440.57,322.72 L440.58,322.83 L440.58,322.93 L440.58,323.03 L440.58,323.12 L440.58,323.21 L440.57,323.29 L440.56,323.37 L440.55,323.45 L440.54,323.52 L440.52,323.59 L440.50,323.66 L440.50,323.72 L440.52,323.78 L440.54,323.84 L440.57,323.89 L440.59,323.94 L440.61,323.99 L440.63,324.04 L440.66,324.08 L440.68,324.12 L440.70,324.16 L440.72,324.20 L440.74,324.23 L440.77,324.27 L440.79,324.30 L440.81,324.33 L440.83,324.36 L440.86,324.38 L440.88,324.41 L440.90,324.43 L440.92,324.46 L440.95,324.48 L440.97,324.50 L440.99,324.52 L441.01,324.53 L441.04,324.55 L441.06,324.57 L441.08,324.58 L441.10,324.60 L441.12,324.61 L441.15,324.62 L441.17,324.63 L441.19,324.64 L441.21,324.65 L441.24,324.66 L441.26,324.67 L441.28,324.68 L441.30,324.69 L441.33,324.70 L441.35,324.70 L441.37,324.71 L441.39,324.72 L441.41,324.72 L441.44,324.73 L441.46,324.73 L441.48,324.74 L441.50,324.74 L441.53,324.75 L441.55,324.75 L441.57,324.75 L441.59,324.76 L441.62,324.76 L441.64,324.76 L441.66,324.77 L441.68,324.77 L441.71,324.77 L441.73,324.77 L441.75,324.77 L441.77,324.78 L674.00,324.80" fill="none" stroke="#36aef8" stroke-width="1.05" stroke-linejoin="round" />
<path d="M381.00,324.80 L381.38,324.46 L381.93,324.43 L382.47,324.41 L383.01,324.38 L383.56,324.36 L384.10,324.33 L384.64,324.30 L385.19,324.27 L385.73,324.23 L386.27,324.20 L386.82,324.16 L387.36,324.12 L387.90,324.08 L388.45,324.04 L388.99,323.99 L389.53,323.94 L390.08,323.89 L390.62,323.84 L391.16,323.78 L391.71,323.72 L392.22,323.66 L392.72,323.59 L393.22,323.52 L393.73,323.45 L394.24,323.37 L394.77,323.29 L395.29,323.21 L395.82,323.12 L396.36,323.03 L396.90,322.93 L397.45,322.83 L398.00,322.72 L398.55,322.61 L399.11,322.49 L399.67,322.37 L400.24,322.24 L400.81,322.11 L401.38,321.97 L401.95,321.82 L402.53,321.67 L403.11,321.51 L403.69,321.34 L404.28,321.17 L404.86,320.99 L405.45,320.80 L406.04,320.60 L406.64,320.40 L407.23,320.19 L407.82,319.97 L408.42,319.74 L409.02,319.50 L409.61,319.25 L410.21,318.99 L410.81,318.72 L411.41,318.44 L412.00,318.16 L412.60,317.86 L413.20,317.55 L413.80,317.23 L414.39,316.89 L414.99,316.55 L415.59,316.19 L416.18,315.83 L416.77,315.45 L417.37,315.05 L417.96,314.64 L418.56,314.23 L419.15,313.79 L419.74,313.34 L420.34,312.88 L420.93,312.41 L421.53,311.92 L422.12,311.41 L422.72,310.90 L423.32,310.36 L423.91,309.81 L424.51,309.25 L425.11,308.67 L425.70,308.07 L426.30,307.46 L426.89,306.83 L427.47,306.18 L428.05,305.52 L428.62,304.85 L429.19,304.15 L429.75,303.44 L430.29,302.71 L430.83,301.97 L431.36,301.21 L431.87,300.43 L432.38,299.64 L432.87,298.82 L433.35,298.00 L433.82,297.15 L434.27,296.29 L434.71,295.41 L435.14,294.52 L435.56,293.61 L435.97,292.68 L436.36,291.74 L436.74,290.78 L437.11,289.80 L437.47,288.81 L437.81,287.81 L438.14,286.79 L438.46,285.76 L438.76,284.71 L439.06,283.65 L439.34,282.57 L439.61,281.49 L439.87,280.39 L440.11,279.27 L440.35,278.15 L440.57,277.02 L440.78,275.87 L440.98,274.72 L441.17,273.55 L441.35,272.38 L441.53,271.20 L441.69,270.01 L441.85,268.82 L442.00,267.62 L442.14,266.41 L442.28,265.20 L442.41,263.99 L442.53,262.77 L442.65,261.55 L442.76,260.33 L442.87,259.11 L442.97,257.89 L443.07,256.67 L443.17,255.45 L443.26,254.24 L443.35,253.03 L443.44,251.82 L443.52,250.62 L443.61,249.43 L443.69,248.24 L443.76,247.07 L443.84,245.90 L443.92,244.74 L443.99,243.60 L444.07,242.47 L444.14,241.35 L444.21,240.24 L444.29,239.15 L444.36,238.08 L444.43,237.02 L444.50,235.99 L444.58,234.97 L444.65,233.97 L444.72,232.99 L444.80,232.04 L444.87,231.11 L444.95,230.20 L445.03,229.32 L445.10,228.46 L445.18,227.63 L445.26,226.82 L445.34,226.05 L445.42,225.30 L445.51,224.58 L445.59,223.89 L445.67,223.24 L445.76,222.61 L445.84,222.02 L445.93,221.46 L446.01,220.93 L446.10,220.44 L446.18,219.98 L446.27,219.56 L446.35,219.17 L446.44,218.82 L446.52,218.50 L446.61,218.22 L446.69,217.98 L446.78,217.77 L446.86,217.60 L446.95,217.47 L447.03,217.38 L447.12,217.32 L447.20,217.30 L447.25,217.32 L447.29,217.38 L447.34,217.47 L447.39,217.60 L447.43,217.77 L447.48,217.98 L447.53,218.22 L447.57,218.50 L447.62,218.82 L447.66,219.17 L447.71,219.56 L447.76,219.98 L447.80,220.44 L447.85,220.93 L447.90,221.46 L447.94,222.02 L447.99,222.61 L448.04,223.24 L448.08,223.89 L448.13,224.58 L448.17,225.30 L448.22,226.05 L448.26,226.82 L448.31,227.63 L448.36,228.46 L448.40,229.32 L448.45,230.20 L448.50,231.11 L448.55,232.04 L448.59,232.99 L448.64,233.97 L448.69,234.97 L448.74,235.99 L448.79,237.02 L448.85,238.08 L448.90,239.15 L448.95,240.24 L449.00,241.35 L449.06,242.47 L449.11,243.60 L449.17,244.74 L449.22,245.90 L449.28,247.07 L449.34,248.24 L449.39,249.43 L449.45,250.62 L449.51,251.82 L449.57,253.03 L449.63,254.24 L449.69,255.45 L449.75,256.67 L449.81,257.89 L449.87,259.11 L449.93,260.33 L450.00,261.55 L450.06,262.77 L450.12,263.99 L450.19,265.20 L450.25,266.41 L450.32,267.62 L450.38,268.82 L450.44,270.01 L450.51,271.20 L450.57,272.38 L450.64,273.55 L450.70,274.72 L450.77,275.87 L450.83,277.02 L450.89,278.15 L450.96,279.27 L451.02,280.39 L451.08,281.49 L451.15,282.57 L451.21,283.65 L451.27,284.71 L451.33,285.76 L451.39,286.79 L451.45,287.81 L451.51,288.81 L451.57,289.80 L451.63,290.78 L451.69,291.74 L451.74,292.68 L451.80,293.61 L451.86,294.52 L451.91,295.41 L451.97,296.29 L452.03,297.15 L452.08,298.00 L452.13,298.82 L452.19,299.64 L452.24,300.43 L452.29,301.21 L452.34,301.97 L452.39,302.71 L452.45,303.44 L452.50,304.15 L452.55,304.85 L452.59,305.52 L452.64,306.18 L452.69,306.83 L452.74,307.46 L452.78,308.07 L452.83,308.67 L452.88,309.25 L452.92,309.81 L452.97,310.36 L453.01,310.90 L453.05,311.41 L453.10,311.92 L453.14,312.41 L453.18,312.88 L453.22,313.34 L453.26,313.79 L453.31,314.23 L453.35,314.64 L453.39,315.05 L453.43,315.45 L453.46,315.83 L453.50,316.19 L453.54,316.55 L453.58,316.89 L453.62,317.23 L453.66,317.55 L453.69,317.86 L453.73,318.16 L453.77,318.44 L453.80,318.72 L453.84,318.99 L453.88,319.25 L453.91,319.50 L453.95,319.74 L453.98,319.97 L454.02,320.19 L454.05,320.40 L454.09,320.60 L454.13,320.80 L454.16,320.99 L454.20,321.17 L454.23,321.34 L454.27,321.51 L454.31,321.67 L454.34,321.82 L454.38,321.97 L454.41,322.11 L454.45,322.24 L454.49,322.37 L454.53,322.49 L454.56,322.61 L454.60,322.72 L454.64,322.83 L454.68,322.93 L454.72,323.03 L454.76,323.12 L454.80,323.21 L454.84,323.29 L454.89,323.37 L454.93,323.45 L454.97,323.52 L455.02,323.59 L455.06,323.66 L455.11,323.72 L455.15,323.78 L455.18,323.84 L455.22,323.89 L455.26,323.94 L455.30,323.99 L455.34,324.04 L455.38,324.08 L455.42,324.12 L455.46,324.16 L455.50,324.20 L455.54,324.23 L455.58,324.27 L455.62,324.30 L455.66,324.33 L455.70,324.36 L455.74,324.38 L455.78,324.41 L455.82,324.43 L455.86,324.46 L455.90,324.48 L455.94,324.50 L455.98,324.52 L456.02,324.53 L456.05,324.55 L456.09,324.57 L456.13,324.58 L456.17,324.60 L456.21,324.61 L456.25,324.62 L456.29,324.63 L456.33,324.64 L456.37,324.65 L456.41,324.66 L456.45,324.67 L456.49,324.68 L456.53,324.69 L456.57,324.70 L456.61,324.70 L456.65,324.71 L456.69,324.72 L456.73,324.72 L456.77,324.73 L456.81,324.73 L456.85,324.74 L456.89,324.74 L456.93,324.75 L456.96,324.75 L457.00,324.75 L457.04,324.76 L457.08,324.76 L457.12,324.76 L457.16,324.77 L457.20,324.77 L457.24,324.77 L457.28,324.77 L457.32,324.77 L457.36,324.78 L674.00,324.80" fill="none" stroke="#2f80f0" stroke-width="1.05" stroke-linejoin="round" />
<path d="M381.00,324.80 L400.90,324.78 L401.56,324.77 L402.22,324.77 L402.89,324.77 L403.55,324.77 L404.22,324.77 L404.88,324.76 L405.55,324.76 L406.21,324.76 L406.87,324.75 L407.54,324.75 L408.20,324.75 L408.87,324.74 L409.53,324.74 L410.20,324.73 L410.86,324.73 L411.52,324.72 L412.19,324.72 L412.85,324.71 L413.52,324.70 L414.18,324.70 L414.84,324.69 L415.51,324.68 L416.17,324.67 L416.84,324.66 L417.50,324.65 L418.17,324.64 L418.83,324.63 L419.49,324.62 L420.16,324.61 L420.82,324.60 L421.49,324.58 L422.15,324.57 L422.81,324.55 L423.48,324.53 L424.14,324.52 L424.81,324.50 L425.47,324.48 L426.14,324.46 L426.80,324.43 L427.46,324.41 L428.13,324.38 L428.79,324.36 L429.46,324.33 L430.12,324.30 L430.79,324.27 L431.45,324.23 L432.11,324.20 L432.78,324.16 L433.44,324.12 L434.11,324.08 L434.77,324.04 L435.43,323.99 L436.10,323.94 L436.76,323.89 L437.43,323.84 L438.09,323.78 L438.76,323.72 L439.42,323.66 L440.16,323.59 L441.42,323.52 L442.57,323.45 L443.60,323.37 L444.55,323.29 L445.40,323.21 L446.18,323.12 L446.88,323.03 L447.52,322.93 L448.12,322.83 L448.66,322.72 L449.18,322.61 L449.66,322.49 L450.12,322.37 L450.57,322.24 L451.02,322.11 L451.47,321.97 L451.92,321.82 L452.39,321.67 L452.89,321.51 L453.41,321.34 L453.97,321.17 L454.57,320.99 L455.21,320.80 L455.91,320.60 L456.64,320.40 L457.42,320.19 L458.24,319.97 L459.08,319.74 L459.96,319.50 L460.87,319.25 L461.80,318.99 L462.75,318.72 L463.71,318.44 L464.70,318.16 L465.69,317.86 L466.70,317.55 L467.71,317.23 L468.72,316.89 L469.74,316.55 L470.75,316.19 L471.76,315.83 L472.77,315.45 L473.76,315.05 L474.75,314.64 L475.72,314.23 L476.68,313.79 L477.63,313.34 L478.56,312.88 L479.47,312.41 L480.37,311.92 L481.25,311.41 L482.11,310.90 L482.96,310.36 L483.79,309.81 L484.60,309.25 L485.39,308.67 L486.16,308.07 L486.92,307.46 L487.65,306.83 L488.36,306.18 L489.06,305.52 L489.73,304.85 L490.38,304.15 L491.02,303.44 L491.63,302.71 L492.22,301.97 L492.78,301.21 L493.33,300.43 L493.86,299.64 L494.36,298.82 L494.84,298.00 L495.31,297.15 L495.75,296.29 L496.16,295.41 L496.56,294.52 L496.94,293.61 L497.29,292.68 L497.63,291.74 L497.96,290.78 L498.27,289.80 L498.58,288.81 L498.88,287.81 L499.17,286.79 L499.45,285.76 L499.72,284.71 L499.99,283.65 L500.26,282.57 L500.51,281.49 L500.76,280.39 L501.01,279.27 L501.25,278.15 L501.48,277.02 L501.72,275.87 L501.94,274.72 L502.16,273.55 L502.38,272.38 L502.60,271.20 L502.81,270.01 L503.01,268.82 L503.22,267.62 L503.42,266.41 L503.61,265.20 L503.80,263.99 L503.99,262.77 L504.18,261.55 L504.36,260.33 L504.53,259.11 L504.70,257.89 L504.87,256.67 L505.03,255.45 L505.19,254.24 L505.34,253.03 L505.49,251.82 L505.63,250.62 L505.77,249.43 L505.91,248.24 L506.04,247.07 L506.16,245.90 L506.28,244.74 L506.40,243.60 L506.51,242.47 L506.62,241.35 L506.72,240.24 L506.82,239.15 L506.91,238.08 L507.00,237.02 L507.09,235.99 L507.17,234.97 L507.25,233.97 L507.33,232.99 L507.40,232.04 L507.47,231.11 L507.54,230.20 L507.60,229.32 L507.67,228.46 L507.73,227.63 L507.80,226.82 L507.86,226.05 L507.93,225.30 L507.99,224.58 L508.06,223.89 L508.12,223.24 L508.19,222.61 L508.25,222.02 L508.32,221.46 L508.38,220.93 L508.45,220.44 L508.52,219.98 L508.58,219.56 L508.65,219.17 L508.71,218.82 L508.78,218.50 L508.84,218.22 L508.91,217.98 L508.97,217.77 L509.04,217.60 L509.10,217.47 L509.17,217.38 L509.23,217.32 L509.30,217.30 L509.36,217.32 L509.42,217.38 L509.48,217.47 L509.54,217.60 L509.60,217.77 L509.66,217.98 L509.72,218.22 L509.78,218.50 L509.84,218.82 L509.90,219.17 L509.96,219.56 L510.02,219.98 L510.08,220.44 L510.14,220.93 L510.20,221.46 L510.25,222.02 L510.31,222.61 L510.37,223.24 L510.43,223.89 L510.49,224.58 L510.55,225.30 L510.61,226.05 L510.67,226.82 L510.73,227.63 L510.79,228.46 L510.87,229.32 L510.95,230.20 L511.03,231.11 L511.11,232.04 L511.19,232.99 L511.27,233.97 L511.35,234.97 L511.43,235.99 L511.51,237.02 L511.60,238.08 L511.68,239.15 L511.76,240.24 L511.85,241.35 L511.93,242.47 L512.01,243.60 L512.10,244.74 L512.18,245.90 L512.27,247.07 L512.35,248.24 L512.43,249.43 L512.52,250.62 L512.60,251.82 L512.69,253.03 L512.77,254.24 L512.85,255.45 L512.93,256.67 L513.02,257.89 L513.10,259.11 L513.18,260.33 L513.26,261.55 L513.34,262.77 L513.42,263.99 L513.50,265.20 L513.58,266.41 L513.66,267.62 L513.74,268.82 L513.82,270.01 L513.89,271.20 L513.97,272.38 L514.05,273.55 L514.12,274.72 L514.20,275.87 L514.27,277.02 L514.34,278.15 L514.41,279.27 L514.49,280.39 L514.56,281.49 L514.62,282.57 L514.69,283.65 L514.76,284.71 L514.83,285.76 L514.89,286.79 L514.96,287.81 L515.02,288.81 L515.09,289.80 L515.15,290.78 L515.21,291.74 L515.27,292.68 L515.33,293.61 L515.39,294.52 L515.45,295.41 L515.51,296.29 L515.56,297.15 L515.62,298.00 L515.67,298.82 L515.72,299.64 L515.78,300.43 L515.83,301.21 L515.88,301.97 L515.93,302.71 L515.98,303.44 L516.02,304.15 L516.07,304.85 L516.12,305.52 L516.16,306.18 L516.21,306.83 L516.25,307.46 L516.29,308.07 L516.33,308.67 L516.38,309.25 L516.42,309.81 L516.46,310.36 L516.49,310.90 L516.53,311.41 L516.57,311.92 L516.61,312.41 L516.64,312.88 L516.68,313.34 L516.71,313.79 L516.75,314.23 L516.78,314.64 L516.81,315.05 L516.85,315.45 L516.88,315.83 L516.91,316.19 L516.94,316.55 L516.97,316.89 L517.00,317.23 L517.03,317.55 L517.06,317.86 L517.09,318.16 L517.12,318.44 L517.15,318.72 L517.18,318.99 L517.21,319.25 L517.25,319.50 L517.29,319.74 L517.34,319.97 L517.38,320.19 L517.42,320.40 L517.46,320.60 L517.50,320.80 L517.55,320.99 L517.59,321.17 L517.63,321.34 L517.67,321.51 L517.72,321.67 L517.76,321.82 L517.80,321.97 L517.84,322.11 L517.89,322.24 L517.93,322.37 L517.97,322.49 L518.01,322.61 L518.05,322.72 L518.10,322.83 L518.14,322.93 L518.18,323.03 L518.22,323.12 L518.27,323.21 L518.31,323.29 L518.35,323.37 L518.39,323.45 L518.44,323.52 L518.48,323.59 L518.52,323.66 L518.56,323.72 L518.60,323.78 L518.65,323.84 L518.69,323.89 L518.73,323.94 L518.77,323.99 L518.82,324.04 L518.86,324.08 L518.90,324.12 L518.94,324.16 L518.99,324.20 L519.03,324.23 L519.07,324.27 L519.11,324.30 L519.16,324.33 L519.20,324.36 L519.24,324.38 L519.28,324.41 L519.32,324.43 L519.37,324.46 L519.41,324.48 L519.45,324.50 L519.49,324.52 L519.54,324.53 L519.58,324.55 L519.62,324.57 L519.66,324.58 L519.71,324.60 L519.75,324.61 L519.79,324.62 L519.83,324.63 L519.87,324.64 L519.92,324.65 L519.96,324.66 L520.00,324.67 L520.04,324.68 L520.09,324.69 L520.13,324.70 L520.17,324.70 L520.21,324.71 L520.26,324.72 L520.30,324.72 L520.34,324.73 L520.38,324.73 L520.43,324.74 L520.47,324.74 L520.51,324.75 L520.55,324.75 L520.59,324.75 L520.64,324.76 L520.68,324.76 L520.72,324.76 L520.76,324.77 L520.81,324.77 L520.85,324.77 L520.89,324.77 L520.93,324.77 L520.98,324.78 L674.00,324.80" fill="none" stroke="#2868ba" stroke-width="1.05" stroke-linejoin="round" />
<path d="M381.00,324.80 L448.72,324.78 L449.43,324.77 L450.14,324.77 L450.85,324.77 L451.56,324.77 L452.27,324.77 L452.98,324.76 L453.69,324.76 L454.40,324.76 L455.11,324.75 L455.82,324.75 L456.53,324.75 L457.24,324.74 L457.95,324.74 L458.66,324.73 L459.37,324.73 L460.08,324.72 L460.79,324.72 L461.50,324.71 L462.21,324.70 L462.91,324.70 L463.62,324.69 L464.33,324.68 L465.04,324.67 L465.75,324.66 L466.46,324.65 L467.17,324.64 L467.88,324.63 L468.59,324.62 L469.30,324.61 L470.01,324.60 L470.72,324.58 L471.43,324.57 L472.14,324.55 L472.85,324.53 L473.56,324.52 L474.27,324.50 L474.98,324.48 L475.69,324.46 L476.40,324.43 L477.11,324.41 L477.81,324.38 L478.52,324.36 L479.23,324.33 L479.94,324.30 L480.65,324.27 L481.36,324.23 L482.07,324.20 L482.78,324.16 L483.49,324.12 L484.20,324.08 L484.91,324.04 L485.52,323.99 L485.69,323.94 L485.94,323.89 L486.27,323.84 L486.66,323.78 L487.12,323.72 L487.65,323.66 L488.23,323.59 L488.87,323.52 L489.56,323.45 L490.30,323.37 L491.09,323.29 L491.92,323.21 L492.79,323.12 L493.69,323.03 L494.62,322.93 L495.59,322.83 L496.58,322.72 L497.59,322.61 L498.63,322.49 L499.68,322.37 L500.75,322.24 L501.83,322.11 L502.92,321.97 L504.02,321.82 L505.13,321.67 L506.23,321.51 L507.34,321.34 L508.44,321.17 L509.54,320.99 L510.63,320.80 L511.72,320.60 L512.79,320.40 L513.85,320.19 L514.89,319.97 L515.92,319.74 L516.93,319.50 L517.92,319.25 L518.89,318.99 L519.83,318.72 L520.75,318.44 L521.64,318.16 L522.51,317.86 L523.37,317.55 L524.21,317.23 L525.04,316.89 L525.86,316.55 L526.67,316.19 L527.48,315.83 L528.29,315.45 L529.10,315.05 L529.91,314.64 L530.73,314.23 L531.56,313.79 L532.40,313.34 L533.25,312.88 L534.12,312.41 L535.00,311.92 L535.90,311.41 L536.82,310.90 L537.76,310.36 L538.73,309.81 L539.71,309.25 L540.73,308.67 L541.76,308.07 L542.79,307.46 L543.81,306.83 L544.79,306.18 L545.72,305.52 L546.59,304.85 L547.37,304.15 L548.06,303.44 L548.69,302.71 L549.27,301.97 L549.81,301.21 L550.33,300.43 L550.86,299.64 L551.38,298.82 L551.91,298.00 L552.44,297.15 L552.97,296.29 L553.49,295.41 L554.02,294.52 L554.53,293.61 L555.04,292.68 L555.54,291.74 L556.04,290.78 L556.52,289.80 L556.99,288.81 L557.45,287.81 L557.90,286.79 L558.34,285.76 L558.76,284.71 L559.16,283.65 L559.55,282.57 L559.93,281.49 L560.29,280.39 L560.64,279.27 L560.98,278.15 L561.30,277.02 L561.60,275.87 L561.90,274.72 L562.17,273.55 L562.44,272.38 L562.69,271.20 L562.93,270.01 L563.15,268.82 L563.37,267.62 L563.56,266.41 L563.75,265.20 L563.93,263.99 L564.09,262.77 L564.24,261.55 L564.38,260.33 L564.51,259.11 L564.63,257.89 L564.74,256.67 L564.84,255.45 L564.94,254.24 L565.04,253.03 L565.14,251.82 L565.23,250.62 L565.33,249.43 L565.43,248.24 L565.53,247.07 L565.63,245.90 L565.74,244.74 L565.85,243.60 L565.97,242.47 L566.10,241.35 L566.23,240.24 L566.37,239.15 L566.51,238.08 L566.66,237.02 L566.82,235.99 L566.98,234.97 L567.15,233.97 L567.33,232.99 L567.51,232.04 L567.58,231.11 L567.65,230.20 L567.72,229.32 L567.79,228.46 L567.86,227.63 L567.92,226.82 L567.99,226.05 L568.06,225.30 L568.13,224.58 L568.20,223.89 L568.27,223.24 L568.34,222.61 L568.40,222.02 L568.47,221.46 L568.54,220.93 L568.61,220.44 L568.68,219.98 L568.75,219.56 L568.81,219.17 L568.88,218.82 L568.95,218.50 L569.02,218.22 L569.09,217.98 L569.16,217.77 L569.23,217.60 L569.29,217.47 L569.36,217.38 L569.43,217.32 L569.50,217.30 L569.56,217.32 L569.62,217.38 L569.67,217.47 L569.73,217.60 L569.79,217.77 L569.85,217.98 L569.91,218.22 L569.97,218.50 L570.02,218.82 L570.08,219.17 L570.14,219.56 L570.20,219.98 L570.26,220.44 L570.32,220.93 L570.37,221.46 L570.43,222.02 L570.49,222.61 L570.55,223.24 L570.61,223.89 L570.67,224.58 L570.72,225.30 L570.78,226.05 L570.84,226.82 L570.90,227.63 L570.96,228.46 L571.02,229.32 L571.07,230.20 L571.13,231.11 L571.19,232.04 L571.27,232.99 L571.34,233.97 L571.42,234.97 L571.49,235.99 L571.57,237.02 L571.65,238.08 L571.73,239.15 L571.80,240.24 L571.88,241.35 L571.96,242.47 L572.04,243.60 L572.12,244.74 L572.20,245.90 L572.28,247.07 L572.36,248.24 L572.44,249.43 L572.52,250.62 L572.60,251.82 L572.68,253.03 L572.76,254.24 L572.84,255.45 L572.92,256.67 L573.00,257.89 L573.08,259.11 L573.16,260.33 L573.24,261.55 L573.32,262.77 L573.40,263.99 L573.48,265.20 L573.56,266.41 L573.64,267.62 L573.72,268.82 L573.80,270.01 L573.88,271.20 L573.96,272.38 L574.04,273.55 L574.11,274.72 L574.19,275.87 L574.27,277.02 L574.35,278.15 L574.42,279.27 L574.50,280.39 L574.57,281.49 L574.65,282.57 L574.72,283.65 L574.80,284.71 L574.87,285.76 L574.95,286.79 L575.02,287.81 L575.09,288.81 L575.16,289.80 L575.24,290.78 L575.31,291.74 L575.38,292.68 L575.45,293.61 L575.52,294.52 L575.59,295.41 L575.66,296.29 L575.73,297.15 L575.80,298.00 L575.86,298.82 L575.93,299.64 L576.00,300.43 L576.06,301.21 L576.13,301.97 L576.19,302.71 L576.26,303.44 L576.32,304.15 L576.39,304.85 L576.45,305.52 L576.52,306.18 L576.58,306.83 L576.64,307.46 L576.70,308.07 L576.76,308.67 L576.83,309.25 L576.89,309.81 L576.95,310.36 L577.01,310.90 L577.07,311.41 L577.13,311.92 L577.19,312.41 L577.25,312.88 L577.31,313.34 L577.36,313.79 L577.42,314.23 L577.48,314.64 L577.54,315.05 L577.60,315.45 L577.65,315.83 L577.71,316.19 L577.77,316.55 L577.83,316.89 L577.88,317.23 L577.94,317.55 L578.00,317.86 L578.06,318.16 L578.11,318.44 L578.17,318.72 L578.23,318.99 L578.29,319.25 L578.34,319.50 L578.40,319.74 L578.46,319.97 L578.52,320.19 L578.58,320.40 L578.64,320.60 L578.70,320.80 L578.76,320.99 L578.82,321.17 L578.88,321.34 L578.94,321.51 L579.00,321.67 L579.06,321.82 L579.13,321.97 L579.19,322.11 L579.25,322.24 L579.32,322.37 L579.38,322.49 L579.45,322.61 L579.52,322.72 L579.59,322.83 L579.66,322.93 L579.73,323.03 L579.80,323.12 L579.87,323.21 L579.94,323.29 L580.02,323.37 L580.09,323.45 L580.17,323.52 L580.25,323.59 L580.33,323.66 L580.41,323.72 L580.49,323.78 L580.57,323.84 L580.66,323.89 L580.75,323.94 L580.83,323.99 L580.92,324.04 L581.02,324.08 L581.11,324.12 L581.21,324.16 L581.30,324.20 L581.37,324.23 L581.44,324.27 L581.50,324.30 L581.57,324.33 L581.64,324.36 L581.70,324.38 L581.77,324.41 L581.84,324.43 L581.90,324.46 L581.97,324.48 L582.04,324.50 L582.11,324.52 L582.17,324.53 L582.24,324.55 L582.31,324.57 L582.37,324.58 L582.44,324.60 L582.51,324.61 L582.57,324.62 L582.64,324.63 L582.71,324.64 L582.77,324.65 L582.84,324.66 L582.91,324.67 L582.97,324.68 L583.04,324.69 L583.11,324.70 L583.17,324.70 L583.24,324.71 L583.31,324.72 L583.37,324.72 L583.44,324.73 L583.51,324.73 L583.58,324.74 L583.64,324.74 L583.71,324.75 L583.78,324.75 L583.84,324.75 L583.91,324.76 L583.98,324.76 L584.04,324.76 L584.11,324.77 L584.18,324.77 L584.24,324.77 L584.31,324.77 L584.38,324.77 L584.44,324.78 L674.00,324.80" fill="none" stroke="#d02626" stroke-width="1.05" stroke-linejoin="round" />
<path d="M381.00,324.80 L476.82,324.78 L477.74,324.77 L478.66,324.77 L479.58,324.77 L480.50,324.77 L481.42,324.77 L482.33,324.76 L483.25,324.76 L484.17,324.76 L485.09,324.75 L486.01,324.75 L486.93,324.75 L487.85,324.74 L488.77,324.74 L489.69,324.73 L490.61,324.73 L491.52,324.72 L492.44,324.72 L493.36,324.71 L494.28,324.70 L495.20,324.70 L496.12,324.69 L497.04,324.68 L497.96,324.67 L498.88,324.66 L499.79,324.65 L500.71,324.64 L501.63,324.63 L502.55,324.62 L503.47,324.61 L504.39,324.60 L505.31,324.58 L506.23,324.57 L507.15,324.55 L508.07,324.53 L508.98,324.52 L509.90,324.50 L510.82,324.48 L511.74,324.46 L512.66,324.43 L513.58,324.41 L514.50,324.38 L515.42,324.36 L516.34,324.33 L517.25,324.30 L518.17,324.27 L519.09,324.23 L520.01,324.20 L521.00,324.16 L521.97,324.12 L522.94,324.08 L523.89,324.04 L524.83,323.99 L525.76,323.94 L526.69,323.89 L527.60,323.84 L528.51,323.78 L529.42,323.72 L530.32,323.66 L531.22,323.59 L532.12,323.52 L533.02,323.45 L533.91,323.37 L534.81,323.29 L535.70,323.21 L536.60,323.12 L537.50,323.03 L538.41,322.93 L539.31,322.83 L540.23,322.72 L541.14,322.61 L542.07,322.49 L543.00,322.37 L543.93,322.24 L544.88,322.11 L545.83,321.97 L546.79,321.82 L547.76,321.67 L548.74,321.51 L549.73,321.34 L550.73,321.17 L551.74,320.99 L552.77,320.80 L553.80,320.60 L554.85,320.40 L555.91,320.19 L556.98,319.97 L558.06,319.74 L559.16,319.50 L560.27,319.25 L561.39,318.99 L562.53,318.72 L563.67,318.44 L564.81,318.16 L565.94,317.86 L567.06,317.55 L568.17,317.23 L569.26,316.89 L570.32,316.55 L571.35,316.19 L572.35,315.83 L573.30,315.45 L574.22,315.05 L575.09,314.64 L575.90,314.23 L576.67,313.79 L577.37,313.34 L578.03,312.88 L578.64,312.41 L579.22,311.92 L579.78,311.41 L580.34,310.90 L580.91,310.36 L581.49,309.81 L582.11,309.25 L582.76,308.67 L583.46,308.07 L584.22,307.46 L585.05,306.83 L585.95,306.18 L586.91,305.52 L587.91,304.85 L588.93,304.15 L589.97,303.44 L591.00,302.71 L592.02,301.97 L592.99,301.21 L593.91,300.43 L594.77,299.64 L595.58,298.82 L596.34,298.00 L597.05,297.15 L597.73,296.29 L598.38,295.41 L599.00,294.52 L599.60,293.61 L600.19,292.68 L600.77,291.74 L601.34,290.78 L601.91,289.80 L602.49,288.81 L603.07,287.81 L603.66,286.79 L604.26,285.76 L604.85,284.71 L605.44,283.65 L606.01,282.57 L606.57,281.49 L607.10,280.39 L607.61,279.27 L608.08,278.15 L608.53,277.02 L608.93,275.87 L609.31,274.72 L609.65,273.55 L609.96,272.38 L610.25,271.20 L610.51,270.01 L610.75,268.82 L610.97,267.62 L611.17,266.41 L611.36,265.20 L611.53,263.99 L611.69,262.77 L611.84,261.55 L611.97,260.33 L612.11,259.11 L612.23,257.89 L612.35,256.67 L612.47,255.45 L612.58,254.24 L612.69,253.03 L612.81,251.82 L612.92,250.62 L613.03,249.43 L613.15,248.24 L613.27,247.07 L613.39,245.90 L613.51,244.74 L613.64,243.60 L613.78,242.47 L613.92,241.35 L614.07,240.24 L614.22,239.15 L614.37,238.08 L614.54,237.02 L614.70,235.99 L614.88,234.97 L615.05,233.97 L615.23,232.99 L615.42,232.04 L615.49,231.11 L615.57,230.20 L615.64,229.32 L615.71,228.46 L615.78,227.63 L615.85,226.82 L615.92,226.05 L616.00,225.30 L616.07,224.58 L616.14,223.89 L616.21,223.24 L616.28,222.61 L616.35,222.02 L616.43,221.46 L616.50,220.93 L616.57,220.44 L616.64,219.98 L616.71,219.56 L616.78,219.17 L616.86,218.82 L616.93,218.50 L617.00,218.22 L617.07,217.98 L617.14,217.77 L617.21,217.60 L617.29,217.47 L617.36,217.38 L617.43,217.32 L617.50,217.30 L617.57,217.32 L617.63,217.38 L617.70,217.47 L617.77,217.60 L617.83,217.77 L617.90,217.98 L617.96,218.22 L618.03,218.50 L618.10,218.82 L618.16,219.17 L618.23,219.56 L618.30,219.98 L618.36,220.44 L618.43,220.93 L618.50,221.46 L618.56,222.02 L618.63,222.61 L618.69,223.24 L618.76,223.89 L618.83,224.58 L618.89,225.30 L618.96,226.05 L619.03,226.82 L619.09,227.63 L619.16,228.46 L619.23,229.32 L619.29,230.20 L619.36,231.11 L619.43,232.04 L619.56,232.99 L619.70,233.97 L619.83,234.97 L619.96,235.99 L620.10,237.02 L620.23,238.08 L620.35,239.15 L620.48,240.24 L620.60,241.35 L620.72,242.47 L620.84,243.60 L620.96,244.74 L621.07,245.90 L621.18,247.07 L621.29,248.24 L621.39,249.43 L621.49,250.62 L621.59,251.82 L621.69,253.03 L621.78,254.24 L621.87,255.45 L621.96,256.67 L622.05,257.89 L622.13,259.11 L622.21,260.33 L622.29,261.55 L622.37,262.77 L622.44,263.99 L622.52,265.20 L622.59,266.41 L622.67,267.62 L622.74,268.82 L622.82,270.01 L622.89,271.20 L622.96,272.38 L623.04,273.55 L623.11,274.72 L623.19,275.87 L623.26,277.02 L623.34,278.15 L623.41,279.27 L623.49,280.39 L623.57,281.49 L623.64,282.57 L623.72,283.65 L623.79,284.71 L623.87,285.76 L623.94,286.79 L624.02,287.81 L624.10,288.81 L624.17,289.80 L624.25,290.78 L624.32,291.74 L624.40,292.68 L624.48,293.61 L624.55,294.52 L624.63,295.41 L624.70,296.29 L624.78,297.15 L624.85,298.00 L624.93,298.82 L625.00,299.64 L625.08,300.43 L625.15,301.21 L625.23,301.97 L625.31,302.71 L625.38,303.44 L625.46,304.15 L625.53,304.85 L625.61,305.52 L625.68,306.18 L625.76,306.83 L625.83,307.46 L625.91,308.07 L625.98,308.67 L626.06,309.25 L626.13,309.81 L626.21,310.36 L626.28,310.90 L626.36,311.41 L626.43,311.92 L626.51,312.41 L626.58,312.88 L626.65,313.34 L626.73,313.79 L626.80,314.23 L626.88,314.64 L626.95,315.05 L627.03,315.45 L627.10,315.83 L627.17,316.19 L627.25,316.55 L627.32,316.89 L627.40,317.23 L627.47,317.55 L627.54,317.86 L627.62,318.16 L627.69,318.44 L627.76,318.72 L627.84,318.99 L627.91,319.25 L627.98,319.50 L628.06,319.74 L628.13,319.97 L628.20,320.19 L628.28,320.40 L628.35,320.60 L628.42,320.80 L628.49,320.99 L628.56,321.17 L628.64,321.34 L628.71,321.51 L628.78,321.67 L628.85,321.82 L628.92,321.97 L628.99,322.11 L629.06,322.24 L629.13,322.37 L629.20,322.49 L629.27,322.61 L629.34,322.72 L629.41,322.83 L629.49,322.93 L629.56,323.03 L629.64,323.12 L629.71,323.21 L629.79,323.29 L629.86,323.37 L629.94,323.45 L630.01,323.52 L630.08,323.59 L630.16,323.66 L630.23,323.72 L630.31,323.78 L630.38,323.84 L630.46,323.89 L630.53,323.94 L630.61,323.99 L630.68,324.04 L630.76,324.08 L630.83,324.12 L630.91,324.16 L630.98,324.20 L631.06,324.23 L631.13,324.27 L631.21,324.30 L631.28,324.33 L631.36,324.36 L631.43,324.38 L631.51,324.41 L631.58,324.43 L631.66,324.46 L631.73,324.48 L631.81,324.50 L631.88,324.52 L631.96,324.53 L632.03,324.55 L632.11,324.57 L632.18,324.58 L632.26,324.60 L632.33,324.61 L632.41,324.62 L632.48,324.63 L632.56,324.64 L632.63,324.65 L632.71,324.66 L632.78,324.67 L632.85,324.68 L632.93,324.69 L633.00,324.70 L633.08,324.70 L633.15,324.71 L633.23,324.72 L633.30,324.72 L633.38,324.73 L633.45,324.73 L633.53,324.74 L633.60,324.74 L633.68,324.75 L633.75,324.75 L633.83,324.75 L633.90,324.76 L633.98,324.76 L634.05,324.76 L634.13,324.77 L634.20,324.77 L634.28,324.77 L634.35,324.77 L634.43,324.77 L634.50,324.78 L674.00,324.80" fill="none" stroke="#f86464" stroke-width="1.05" stroke-linejoin="round" />
<path d="M39.0,145.6 L39.0,27.0 L333.6,27.0 L333.6,145.6" fill="none" stroke="#5a5a5a" stroke-width="1.4" stroke-linejoin="miter"/>
<line x1="38.3" y1="145.6" x2="334.3" y2="145.6" stroke="#333" stroke-width="1.5"/>
<line x1="68.46" y1="145.6" x2="68.46" y2="142.20" stroke="#333" stroke-width="1.1"/>
<line x1="127.38" y1="145.6" x2="127.38" y2="142.20" stroke="#333" stroke-width="1.1"/>
<line x1="186.30" y1="145.6" x2="186.30" y2="142.20" stroke="#333" stroke-width="1.1"/>
<line x1="245.22" y1="145.6" x2="245.22" y2="142.20" stroke="#333" stroke-width="1.1"/>
<line x1="304.14" y1="145.6" x2="304.14" y2="142.20" stroke="#333" stroke-width="1.1"/>
<line x1="39.0" y1="145.60" x2="42.40" y2="145.60" stroke="#444" stroke-width="1.1"/>
<line x1="39.0" y1="91.62" x2="42.40" y2="91.62" stroke="#444" stroke-width="1.1"/>
<line x1="39.0" y1="37.64" x2="42.40" y2="37.64" stroke="#444" stroke-width="1.1"/>
<path d="M380.5,145.6 L380.5,27.3 L675.0,27.3 L675.0,145.6" fill="none" stroke="#5a5a5a" stroke-width="1.4" stroke-linejoin="miter"/>
<line x1="379.8" y1="145.6" x2="675.7" y2="145.6" stroke="#333" stroke-width="1.5"/>
<line x1="405.04" y1="145.6" x2="405.04" y2="142.20" stroke="#333" stroke-width="1.1"/>
<line x1="454.12" y1="145.6" x2="454.12" y2="142.20" stroke="#333" stroke-width="1.1"/>
<line x1="503.21" y1="145.6" x2="503.21" y2="142.20" stroke="#333" stroke-width="1.1"/>
<line x1="552.29" y1="145.6" x2="552.29" y2="142.20" stroke="#333" stroke-width="1.1"/>
<line x1="601.38" y1="145.6" x2="601.38" y2="142.20" stroke="#333" stroke-width="1.1"/>
<line x1="650.46" y1="145.6" x2="650.46" y2="142.20" stroke="#333" stroke-width="1.1"/>
<line x1="380.5" y1="145.60" x2="383.90" y2="145.60" stroke="#444" stroke-width="1.1"/>
<line x1="380.5" y1="91.62" x2="383.90" y2="91.62" stroke="#444" stroke-width="1.1"/>
<line x1="380.5" y1="37.64" x2="383.90" y2="37.64" stroke="#444" stroke-width="1.1"/>
<path d="M39.1,324.8 L39.1,206.5 L333.7,206.5 L333.7,324.8" fill="none" stroke="#5a5a5a" stroke-width="1.4" stroke-linejoin="miter"/>
<line x1="38.4" y1="324.8" x2="334.4" y2="324.8" stroke="#333" stroke-width="1.5"/>
<line x1="72.58" y1="324.8" x2="72.58" y2="321.40" stroke="#333" stroke-width="1.1"/>
<line x1="139.53" y1="324.8" x2="139.53" y2="321.40" stroke="#333" stroke-width="1.1"/>
<line x1="206.49" y1="324.8" x2="206.49" y2="321.40" stroke="#333" stroke-width="1.1"/>
<line x1="273.44" y1="324.8" x2="273.44" y2="321.40" stroke="#333" stroke-width="1.1"/>
<line x1="39.1" y1="324.80" x2="42.50" y2="324.80" stroke="#444" stroke-width="1.1"/>
<line x1="39.1" y1="270.90" x2="42.50" y2="270.90" stroke="#444" stroke-width="1.1"/>
<line x1="39.1" y1="217.00" x2="42.50" y2="217.00" stroke="#444" stroke-width="1.1"/>
<path d="M380.5,324.8 L380.5,206.5 L675.1,206.5 L675.1,324.8" fill="none" stroke="#5a5a5a" stroke-width="1.4" stroke-linejoin="miter"/>
<line x1="379.8" y1="324.8" x2="675.8000000000001" y2="324.8" stroke="#333" stroke-width="1.5"/>
<line x1="401.54" y1="324.8" x2="401.54" y2="321.40" stroke="#333" stroke-width="1.1"/>
<line x1="443.63" y1="324.8" x2="443.63" y2="321.40" stroke="#333" stroke-width="1.1"/>
<line x1="485.71" y1="324.8" x2="485.71" y2="321.40" stroke="#333" stroke-width="1.1"/>
<line x1="527.80" y1="324.8" x2="527.80" y2="321.40" stroke="#333" stroke-width="1.1"/>
<line x1="569.89" y1="324.8" x2="569.89" y2="321.40" stroke="#333" stroke-width="1.1"/>
<line x1="611.97" y1="324.8" x2="611.97" y2="321.40" stroke="#333" stroke-width="1.1"/>
<line x1="654.06" y1="324.8" x2="654.06" y2="321.40" stroke="#333" stroke-width="1.1"/>
<line x1="380.5" y1="324.80" x2="383.90" y2="324.80" stroke="#444" stroke-width="1.1"/>
<line x1="380.5" y1="270.90" x2="383.90" y2="270.90" stroke="#444" stroke-width="1.1"/>
<line x1="380.5" y1="217.00" x2="383.90" y2="217.00" stroke="#444" stroke-width="1.1"/>
<text x="68.46" y="160.00" font-size="11.3" text-anchor="middle" fill="#111" stroke="#111" stroke-width="0.25" >-4</text>
<text x="127.38" y="160.00" font-size="11.3" text-anchor="middle" fill="#111" stroke="#111" stroke-width="0.25" >-2</text>
<text x="186.30" y="160.00" font-size="11.3" text-anchor="middle" fill="#111" stroke="#111" stroke-width="0.25" >0</text>
<text x="245.22" y="160.00" font-size="11.3" text-anchor="middle" fill="#111" stroke="#111" stroke-width="0.25" >2</text>
<text x="304.14" y="160.00" font-size="11.3" text-anchor="middle" fill="#111" stroke="#111" stroke-width="0.25" >4</text>
<text x="405.04" y="157.10" font-size="11.3" text-anchor="middle" fill="#111" stroke="#111" stroke-width="0.25" >-6</text>
<text x="454.12" y="157.10" font-size="11.3" text-anchor="middle" fill="#111" stroke="#111" stroke-width="0.25" >-4</text>
<text x="503.21" y="157.10" font-size="11.3" text-anchor="middle" fill="#111" stroke="#111" stroke-width="0.25" >-2</text>
<text x="552.29" y="157.10" font-size="11.3" text-anchor="middle" fill="#111" stroke="#111" stroke-width="0.25" >0</text>
<text x="601.38" y="157.10" font-size="11.3" text-anchor="middle" fill="#111" stroke="#111" stroke-width="0.25" >2</text>
<text x="650.46" y="157.10" font-size="11.3" text-anchor="middle" fill="#111" stroke="#111" stroke-width="0.25" >4</text>
<text x="72.58" y="338.80" font-size="11.3" text-anchor="middle" fill="#111" stroke="#111" stroke-width="0.25" >1520</text>
<text x="139.53" y="338.80" font-size="11.3" text-anchor="middle" fill="#111" stroke="#111" stroke-width="0.25" >1530</text>
<text x="206.49" y="338.80" font-size="11.3" text-anchor="middle" fill="#111" stroke="#111" stroke-width="0.25" >1540</text>
<text x="273.44" y="338.80" font-size="11.3" text-anchor="middle" fill="#111" stroke="#111" stroke-width="0.25" >1550</text>
<text x="401.54" y="338.80" font-size="11.3" text-anchor="middle" fill="#111" stroke="#111" stroke-width="0.25" >1520</text>
<text x="443.63" y="338.80" font-size="11.3" text-anchor="middle" fill="#111" stroke="#111" stroke-width="0.25" >1530</text>
<text x="485.71" y="338.80" font-size="11.3" text-anchor="middle" fill="#111" stroke="#111" stroke-width="0.25" >1540</text>
<text x="527.80" y="338.80" font-size="11.3" text-anchor="middle" fill="#111" stroke="#111" stroke-width="0.25" >1550</text>
<text x="569.89" y="338.80" font-size="11.3" text-anchor="middle" fill="#111" stroke="#111" stroke-width="0.25" >1560</text>
<text x="611.97" y="338.80" font-size="11.3" text-anchor="middle" fill="#111" stroke="#111" stroke-width="0.25" >1570</text>
<text x="654.06" y="338.80" font-size="11.3" text-anchor="middle" fill="#111" stroke="#111" stroke-width="0.25" >1580</text>
<text x="35.00" y="149.70" font-size="11.3" text-anchor="end" fill="#111" stroke="#111" stroke-width="0.25" >0</text>
<text x="35.00" y="95.72" font-size="11.3" text-anchor="end" fill="#111" stroke="#111" stroke-width="0.25" >0.5</text>
<text x="35.00" y="41.74" font-size="11.3" text-anchor="end" fill="#111" stroke="#111" stroke-width="0.25" >1</text>
<text x="376.00" y="149.70" font-size="11.3" text-anchor="end" fill="#111" stroke="#111" stroke-width="0.25" >0</text>
<text x="376.00" y="95.72" font-size="11.3" text-anchor="end" fill="#111" stroke="#111" stroke-width="0.25" >0.5</text>
<text x="376.00" y="41.74" font-size="11.3" text-anchor="end" fill="#111" stroke="#111" stroke-width="0.25" >1</text>
<text x="35.00" y="328.90" font-size="11.3" text-anchor="end" fill="#111" stroke="#111" stroke-width="0.25" >0</text>
<text x="35.00" y="275.00" font-size="11.3" text-anchor="end" fill="#111" stroke="#111" stroke-width="0.25" >0.5</text>
<text x="35.00" y="221.10" font-size="11.3" text-anchor="end" fill="#111" stroke="#111" stroke-width="0.25" >1</text>
<text x="376.00" y="328.90" font-size="11.3" text-anchor="end" fill="#111" stroke="#111" stroke-width="0.25" >0</text>
<text x="376.00" y="275.00" font-size="11.3" text-anchor="end" fill="#111" stroke="#111" stroke-width="0.25" >0.5</text>
<text x="376.00" y="221.10" font-size="11.3" text-anchor="end" fill="#111" stroke="#111" stroke-width="0.25" >1</text>
<text x="186.60" y="171.90" font-size="11" text-anchor="middle" fill="#111" stroke="#111" stroke-width="0.25" textLength="48.5" lengthAdjust="spacingAndGlyphs" >Time (ps)</text>
<text x="528.00" y="171.90" font-size="11" text-anchor="middle" fill="#111" stroke="#111" stroke-width="0.25" textLength="48.5" lengthAdjust="spacingAndGlyphs" >Time (ps)</text>
<text x="186.60" y="353.50" font-size="11" text-anchor="middle" fill="#111" stroke="#111" stroke-width="0.25" textLength="89.5" lengthAdjust="spacingAndGlyphs" >Wavelength (nm)</text>
<text x="527.65" y="353.50" font-size="11" text-anchor="middle" fill="#111" stroke="#111" stroke-width="0.25" textLength="89.5" lengthAdjust="spacingAndGlyphs" >Wavelength (nm)</text>
<text transform="translate(14.6,86.7) rotate(-90)" x="0" y="0" font-size="11" text-anchor="middle" fill="#111" stroke="#111" stroke-width="0.25" textLength="96" lengthAdjust="spacingAndGlyphs">Normalized power</text>
<text transform="translate(14.6,264) rotate(-90)" x="0" y="0" font-size="11" text-anchor="middle" fill="#111" stroke="#111" stroke-width="0.25" textLength="134" lengthAdjust="spacingAndGlyphs">Normalized intensity (a.u.)</text>
<text x="5.60" y="17.50" font-size="15.5" text-anchor="start" fill="#111" stroke="#111" stroke-width="0.25" >(a)</text>
<text x="5.60" y="186.10" font-size="15.5" text-anchor="start" fill="#111" stroke="#111" stroke-width="0.25" >(b)</text>
<text x="352.80" y="17.50" font-size="15.5" text-anchor="start" fill="#111" stroke="#111" stroke-width="0.25" >(c)</text>
<text x="352.80" y="186.10" font-size="15.5" text-anchor="start" fill="#111" stroke="#111" stroke-width="0.25" >(d)</text>
<text x="137.00" y="197.40" font-size="12.2" text-anchor="start" fill="#1c64c8" stroke="#1c64c8" stroke-width="0.25" textLength="42.2" lengthAdjust="spacingAndGlyphs" >Blue shift</text>
<text x="278.90" y="197.40" font-size="12.2" text-anchor="start" fill="#d41c1c" stroke="#d41c1c" stroke-width="0.25" textLength="40.3" lengthAdjust="spacingAndGlyphs" >Red shift</text>
<text x="433.10" y="197.40" font-size="12.2" text-anchor="start" fill="#1c64c8" stroke="#1c64c8" stroke-width="0.25" textLength="42.6" lengthAdjust="spacingAndGlyphs" >Blue shift</text>
<text x="570.70" y="197.40" font-size="12.2" text-anchor="start" fill="#d41c1c" stroke="#d41c1c" stroke-width="0.25" textLength="40.5" lengthAdjust="spacingAndGlyphs" >Red shift</text>
<line x1="248.3" y1="39.40" x2="288.8" y2="39.40" stroke="#d83434" stroke-width="1"/>
<text x="295.30" y="41.60" font-size="9" text-anchor="start" fill="#111" stroke="#111" stroke-width="0.25" >2 nm</text>
<line x1="248.3" y1="48.20" x2="288.8" y2="48.20" stroke="#fa6e6e" stroke-width="1"/>
<text x="295.30" y="50.40" font-size="9" text-anchor="start" fill="#111" stroke="#111" stroke-width="0.25" >7 nm</text>
<line x1="248.3" y1="57.00" x2="288.8" y2="57.00" stroke="#c02020" stroke-width="1"/>
<text x="295.30" y="59.20" font-size="9" text-anchor="start" fill="#111" stroke="#111" stroke-width="0.25" >15 nm</text>
<line x1="248.3" y1="65.80" x2="288.8" y2="65.80" stroke="#2868ba" stroke-width="1"/>
<text x="295.30" y="68.00" font-size="9" text-anchor="start" fill="#111" stroke="#111" stroke-width="0.25" >20 nm</text>
<line x1="248.3" y1="74.60" x2="288.8" y2="74.60" stroke="#2f80f0" stroke-width="1"/>
<text x="295.30" y="76.80" font-size="9" text-anchor="start" fill="#111" stroke="#111" stroke-width="0.25" >30 nm</text>
<line x1="248.3" y1="83.40" x2="288.8" y2="83.40" stroke="#36aef8" stroke-width="1"/>
<text x="295.30" y="85.60" font-size="9" text-anchor="start" fill="#111" stroke="#111" stroke-width="0.25" >40 nm</text>
<line x1="579.1" y1="39.40" x2="619.7" y2="39.40" stroke="#36aef8" stroke-width="1"/>
<text x="626.2" y="42.00" font-size="8.6" fill="#111" stroke="#111" stroke-width="0.25">-0.48 ps<tspan font-size="5.4" dx="0.8" dy="-3.5" stroke-width="0.1">2</tspan></text>
<line x1="579.1" y1="48.25" x2="619.7" y2="48.25" stroke="#2f80f0" stroke-width="1"/>
<text x="626.2" y="50.85" font-size="8.6" fill="#111" stroke="#111" stroke-width="0.25">-0.28 ps<tspan font-size="5.4" dx="0.8" dy="-3.5" stroke-width="0.1">2</tspan></text>
<line x1="579.1" y1="57.10" x2="619.7" y2="57.10" stroke="#2868ba" stroke-width="1"/>
<text x="626.2" y="59.70" font-size="8.6" fill="#111" stroke="#111" stroke-width="0.25">-0.14 ps<tspan font-size="5.4" dx="0.8" dy="-3.5" stroke-width="0.1">2</tspan></text>
<line x1="579.1" y1="65.95" x2="619.7" y2="65.95" stroke="#c42020" stroke-width="1"/>
<text x="626.2" y="68.55" font-size="8.6" fill="#111" stroke="#111" stroke-width="0.25">-0.08 ps<tspan font-size="5.4" dx="0.8" dy="-3.5" stroke-width="0.1">2</tspan></text>
<line x1="579.1" y1="74.80" x2="619.7" y2="74.80" stroke="#f26a6a" stroke-width="1"/>
<text x="626.2" y="77.40" font-size="8.6" fill="#111" stroke="#111" stroke-width="0.25">-0.04 ps<tspan font-size="5.4" dx="0.8" dy="-3.5" stroke-width="0.1">2</tspan></text>
</svg>
</body></html>
